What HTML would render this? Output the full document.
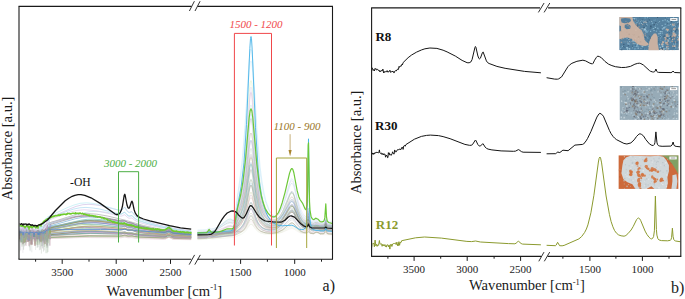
<!DOCTYPE html>
<html><head><meta charset="utf-8"><style>
html,body{margin:0;padding:0;background:#fff;width:685px;height:299px;overflow:hidden}
svg{display:block}
text{font-family:"Liberation Serif",serif}
</style></head><body>
<svg width="685" height="299" viewBox="0 0 685 299">
<defs>
<clipPath id="ca"><rect x="19.5" y="6.5" width="312.5" height="252.3"/></clipPath>
<clipPath id="cb"><rect x="372" y="8.3" width="308.3" height="247.7"/></clipPath>
</defs>
<!-- ===== chart a ===== -->
<g clip-path="url(#ca)">
<polyline points="19.0,239.1 19.8,239.3 20.0,239.0 20.8,239.2 21.2,238.9 21.5,239.3 22.5,239.0 23.2,239.4 23.8,239.1 24.0,239.4 25.2,239.0 26.2,239.4 26.5,239.0 27.5,239.4 27.8,238.9 28.2,239.1 28.5,239.5 29.0,245.8 29.8,239.0 30.5,239.7 31.0,245.2 31.5,239.6 32.0,239.1 33.8,239.4 34.0,239.0 34.2,239.2 35.0,244.3 35.5,239.5 35.8,239.3 36.0,239.5 36.2,239.1 36.5,239.5 37.0,241.5 37.5,239.3 39.5,239.5 40.0,241.4 40.8,239.0 41.2,239.4 42.5,239.2 43.0,240.0 43.5,239.6 44.0,244.7 44.8,238.7 45.8,238.5 46.5,238.7 46.8,238.4 47.5,238.6 48.0,242.7 48.5,238.6 49.5,238.6 49.8,238.0 50.2,238.8 50.8,238.4 85.8,237.0 118.5,237.2 121.5,236.9 124.8,235.7 128.0,236.9 132.0,236.5 135.8,237.6 141.0,238.1 164.0,238.9 165.8,238.7 169.0,237.3 172.2,238.8 173.8,239.2 191.2,239.5" fill="none" stroke="#e6dccc" stroke-width="0.8" stroke-opacity="0.85" stroke-linejoin="round"/>
<polyline points="19.0,241.8 19.5,238.9 20.0,238.6 22.5,238.7 23.0,241.9 23.5,238.6 24.5,238.6 25.0,240.9 25.5,239.0 26.0,242.1 26.5,238.9 27.0,239.7 27.8,238.3 28.2,238.6 29.0,238.4 30.8,238.8 31.8,238.3 32.0,238.7 33.0,238.4 33.5,238.7 34.0,241.8 34.8,238.5 36.0,238.8 36.2,238.3 37.5,238.9 39.0,238.5 39.5,238.9 40.0,241.4 40.5,238.6 42.2,238.4 42.5,238.5 43.0,242.2 43.5,238.8 44.0,238.5 44.2,238.7 44.5,238.4 45.5,238.7 46.0,241.5 46.5,238.6 47.0,238.0 50.5,238.2 51.0,238.0 86.8,236.8 119.5,237.0 124.8,236.7 138.8,237.5 163.5,238.1 165.8,237.9 169.0,236.9 173.8,238.3 191.2,238.5" fill="none" stroke="#d8e6cc" stroke-width="0.8" stroke-opacity="0.85" stroke-linejoin="round"/>
<polyline points="19.0,239.3 19.8,239.4 20.2,239.2 20.5,239.5 20.8,239.0 21.2,239.1 21.5,239.7 22.2,239.1 23.5,239.4 25.0,239.5 25.2,239.2 26.0,246.0 26.8,239.5 27.5,239.4 28.0,241.7 28.5,239.4 29.0,245.6 29.5,240.3 30.0,245.0 30.5,239.8 31.0,240.5 31.5,239.5 32.2,239.2 32.8,239.5 33.2,239.0 34.0,240.8 34.5,239.2 35.2,239.5 36.2,239.3 37.2,239.8 37.5,239.3 39.2,239.5 39.5,239.1 40.5,239.4 41.2,239.1 41.8,239.4 42.0,239.2 42.2,239.5 43.0,239.1 44.0,240.3 44.8,239.0 45.0,239.5 45.5,239.1 45.8,239.3 46.0,238.8 46.5,239.6 47.0,245.0 47.5,239.3 48.0,238.6 48.5,238.9 49.0,238.4 49.5,239.3 50.0,245.8 50.5,239.1 51.0,238.5 84.2,237.5 119.0,237.9 121.8,237.7 124.8,237.0 128.0,237.8 132.0,237.6 135.2,238.3 138.5,238.6 163.5,239.3 165.8,238.9 168.0,237.5 169.0,237.2 172.2,239.0 173.8,239.4 191.2,239.7" fill="none" stroke="#e8d0dc" stroke-width="0.8" stroke-opacity="0.85" stroke-linejoin="round"/>
<polyline points="19.0,238.2 19.5,238.2 19.8,237.8 20.5,238.2 21.0,241.2 21.5,238.4 22.0,237.7 22.2,238.2 22.5,238.0 23.0,242.3 23.5,238.4 24.2,237.8 24.5,238.2 25.2,238.4 25.5,237.9 27.2,238.2 28.2,237.8 29.8,238.0 30.0,238.3 30.2,237.9 30.5,238.1 31.5,237.9 31.8,238.1 32.0,237.8 32.2,238.0 32.8,237.8 33.5,238.3 33.8,237.8 34.5,238.5 35.0,244.2 35.5,238.6 36.0,238.1 36.5,238.7 37.0,244.6 37.5,238.4 38.0,237.9 38.5,238.7 39.0,244.8 39.8,238.0 40.0,238.4 40.2,238.2 40.5,238.3 41.0,241.8 41.8,237.8 42.2,238.2 42.8,237.9 43.8,238.2 45.2,237.4 45.5,237.7 46.0,237.4 46.2,237.7 46.5,237.6 47.0,242.2 47.5,238.2 48.0,243.3 48.5,237.6 50.0,237.3 50.2,237.6 50.5,237.2 89.8,236.0 120.0,236.3 124.5,236.1 139.0,237.0 163.2,237.7 165.5,237.6 169.0,236.5 173.8,237.9 191.2,238.2" fill="none" stroke="#cfe8c0" stroke-width="0.8" stroke-opacity="0.85" stroke-linejoin="round"/>
<polyline points="19.0,237.4 19.2,237.7 20.0,237.5 20.5,237.9 21.8,237.7 22.5,238.3 23.0,243.9 23.5,238.3 24.0,242.8 24.5,238.3 25.0,242.1 25.5,238.0 25.8,237.6 26.2,237.9 26.5,237.6 27.2,237.8 28.0,242.0 28.5,238.3 29.0,237.5 29.2,237.9 29.8,237.6 30.0,238.0 30.2,237.9 30.5,238.6 31.0,244.4 31.5,238.8 32.0,244.7 32.5,238.4 33.0,237.8 33.8,237.6 34.2,237.8 34.5,238.3 35.0,245.8 35.5,238.3 35.8,237.9 36.5,237.6 36.8,238.0 37.2,237.6 37.5,238.0 38.2,237.5 39.0,237.9 42.2,237.7 42.5,238.1 43.8,238.1 44.0,237.6 44.5,238.0 45.0,244.1 45.5,237.9 46.2,236.9 47.8,237.4 48.2,236.9 49.0,237.4 49.2,237.1 50.5,237.0 50.8,237.3 51.0,237.1 89.2,235.6 119.5,236.0 124.8,235.6 128.0,236.2 132.0,236.1 138.5,237.0 162.8,238.1 165.5,238.0 169.0,236.8 173.8,238.4 191.2,238.9" fill="none" stroke="#b08888" stroke-width="0.8" stroke-opacity="0.85" stroke-linejoin="round"/>
<polyline points="19.0,238.4 20.5,238.6 21.0,242.5 21.5,239.1 22.0,242.1 22.5,238.7 23.0,238.4 23.5,239.1 24.0,242.3 24.8,238.1 25.8,238.5 26.2,238.1 27.5,238.3 28.0,238.8 28.5,238.4 29.0,241.1 29.5,238.7 30.0,238.5 31.5,238.3 31.8,238.6 32.2,238.4 33.2,238.7 34.0,238.3 34.2,238.7 35.2,238.3 35.5,238.6 36.2,238.2 36.5,238.7 37.0,238.1 38.2,238.7 39.2,238.2 40.5,238.5 41.2,238.4 42.0,239.1 42.8,238.3 43.0,238.6 46.0,237.8 46.5,238.2 47.0,241.7 47.8,237.6 48.2,237.9 49.0,237.9 49.2,237.6 50.0,239.1 50.2,238.1 50.8,237.6 89.5,236.1 118.8,236.1 121.8,235.8 124.8,234.8 128.0,235.9 132.0,235.5 135.0,236.4 138.2,236.8 163.0,237.7 165.5,237.3 168.0,235.3 169.0,234.9 170.0,235.4 172.2,237.3 173.8,237.8 191.2,238.1" fill="none" stroke="#8aa878" stroke-width="0.8" stroke-opacity="0.85" stroke-linejoin="round"/>
<polyline points="19.0,236.4 19.2,237.1 20.2,236.8 20.5,237.3 21.0,241.0 21.5,237.1 22.5,236.8 23.8,236.9 24.0,236.6 25.0,238.7 25.5,237.0 26.0,237.7 26.5,236.9 26.8,237.1 27.5,236.8 27.8,237.2 28.2,236.7 28.5,237.0 29.0,236.9 29.2,237.1 29.8,236.8 30.2,237.1 31.0,236.9 31.5,237.2 32.0,236.8 32.5,237.1 33.5,236.8 34.5,237.1 36.8,236.8 37.2,237.3 37.8,237.0 38.0,237.2 38.5,236.9 39.5,237.0 40.0,239.9 40.5,237.5 41.0,241.1 41.5,237.1 42.5,237.3 43.0,241.0 43.8,236.9 44.0,237.2 44.8,237.0 45.0,237.2 45.2,236.6 45.8,236.9 46.0,236.3 48.8,236.1 49.2,235.8 50.0,238.7 50.8,235.6 51.0,235.9 54.2,235.7 90.0,233.6 119.2,234.0 121.8,233.8 124.8,232.7 128.0,234.0 132.0,233.6 135.8,234.9 142.0,235.6 164.0,236.8 165.8,236.4 168.0,234.9 169.0,234.5 170.0,234.9 172.2,236.7 173.8,237.2 191.2,237.7" fill="none" stroke="#b0b090" stroke-width="0.8" stroke-opacity="0.85" stroke-linejoin="round"/>
<polyline points="19.0,241.8 19.8,236.7 20.5,237.3 21.0,241.8 21.5,237.4 22.0,239.4 22.5,236.9 23.0,236.9 24.2,237.0 24.8,236.7 25.0,237.0 25.5,236.7 26.5,237.1 27.5,236.6 27.8,236.8 28.0,236.4 28.5,236.9 29.0,239.9 29.5,237.3 30.0,241.0 30.5,236.9 32.2,237.0 33.2,236.8 33.5,237.0 33.8,236.7 34.8,237.0 35.5,236.6 36.0,236.9 36.2,236.6 36.5,236.9 37.5,236.7 38.5,237.2 39.2,236.7 39.8,237.1 40.0,236.8 40.2,237.2 40.5,236.8 41.2,236.9 41.5,236.5 41.8,237.1 42.0,236.6 42.2,237.1 42.5,236.9 43.0,239.0 43.5,237.0 43.8,236.7 44.5,237.0 44.8,236.3 45.5,236.9 46.0,240.0 46.5,236.4 47.0,235.8 91.0,232.9 102.5,233.0 120.2,233.5 124.8,233.3 128.0,233.9 132.0,233.9 139.2,234.9 163.5,236.4 165.8,236.1 168.0,234.7 169.0,234.5 172.2,236.4 173.8,236.8 191.2,237.4" fill="none" stroke="#a4a4a4" stroke-width="0.8" stroke-opacity="0.85" stroke-linejoin="round"/>
<polyline points="19.0,236.3 20.0,236.3 20.5,235.9 21.0,236.5 21.2,236.2 22.2,236.2 23.0,236.7 24.2,236.0 24.5,236.4 24.8,236.0 25.5,236.5 26.0,236.1 27.2,236.8 27.8,236.1 28.5,236.3 29.0,238.5 29.5,236.7 30.0,237.9 30.5,236.3 31.8,236.2 32.0,236.5 32.2,236.1 33.0,236.5 35.0,236.3 35.5,236.5 36.0,238.5 36.5,236.3 36.8,236.7 37.5,236.4 38.2,236.6 39.0,236.3 39.2,236.7 40.2,236.1 41.0,238.5 41.5,236.5 42.0,236.1 42.2,236.5 43.5,236.2 44.0,237.0 44.5,235.8 46.2,235.5 46.5,235.1 47.5,235.4 47.8,235.1 49.5,235.1 50.0,236.5 50.5,235.2 50.8,235.5 51.0,235.1 75.2,233.7 90.5,233.3 119.0,234.1 121.8,233.9 124.8,232.8 128.0,234.1 132.0,233.7 135.8,235.0 141.8,235.6 164.0,236.7 165.8,236.6 169.0,235.7 173.8,237.1 191.2,237.5" fill="none" stroke="#68a8a8" stroke-width="0.8" stroke-opacity="0.85" stroke-linejoin="round"/>
<polyline points="19.0,236.9 19.5,237.0 20.0,237.7 20.8,236.8 21.5,237.3 22.2,236.9 23.0,237.2 23.2,237.0 23.5,237.4 23.8,237.0 24.0,237.3 24.2,236.9 25.0,237.4 25.5,236.9 25.8,237.2 26.8,237.0 28.8,237.4 29.5,237.0 30.5,237.0 31.0,237.9 31.5,237.2 32.0,238.0 32.5,237.2 33.0,238.2 33.5,237.3 34.2,237.0 35.0,239.2 35.8,237.0 36.0,237.3 36.8,236.9 37.5,237.4 38.0,237.2 38.5,237.5 39.0,238.6 39.5,237.2 40.2,237.0 41.0,237.4 42.0,236.8 42.5,237.0 42.8,236.7 43.0,237.0 43.5,236.5 44.0,237.4 44.5,235.8 46.5,235.1 47.0,236.1 47.5,235.1 48.0,235.9 48.5,235.2 49.0,236.9 49.5,235.0 50.8,234.6 74.0,232.6 86.0,232.2 100.2,232.6 120.2,233.9 124.8,233.8 128.0,234.4 132.0,234.5 139.8,235.5 163.0,237.0 165.5,236.7 168.0,234.9 169.0,234.5 170.0,235.0 172.2,236.8 173.8,237.4 191.2,237.9" fill="none" stroke="#d098c0" stroke-width="0.8" stroke-opacity="0.85" stroke-linejoin="round"/>
<polyline points="19.0,235.5 19.2,235.9 19.8,235.6 21.5,235.7 21.8,235.3 22.0,235.6 22.5,235.6 23.0,238.5 23.5,236.0 24.0,238.3 24.2,236.6 24.8,235.6 25.5,235.8 26.0,237.4 26.8,235.7 28.2,235.6 29.2,236.2 29.5,235.8 30.0,235.7 30.5,235.9 31.0,238.2 31.8,235.6 32.0,236.0 33.2,235.8 33.5,236.1 33.8,235.7 35.2,235.7 35.5,235.9 36.2,235.8 36.8,236.2 37.2,235.8 38.2,236.0 38.5,235.7 38.8,236.0 39.2,235.7 40.0,241.0 40.5,236.5 41.0,240.4 41.8,236.0 42.0,235.7 42.5,236.1 43.5,236.1 43.8,235.8 44.2,236.0 45.0,240.4 45.5,236.1 46.2,235.2 47.5,234.6 49.0,235.0 50.5,234.3 50.8,234.8 51.0,234.6 80.8,232.3 91.8,231.8 102.2,231.9 115.2,232.5 163.5,236.4 165.8,236.1 168.0,234.6 169.0,234.3 170.0,234.7 172.2,236.5 173.8,237.0 191.2,237.9" fill="none" stroke="#a0a0c8" stroke-width="0.8" stroke-opacity="0.85" stroke-linejoin="round"/>
<polyline points="19.0,236.6 19.5,237.1 20.0,239.2 20.5,236.7 21.0,236.8 21.2,236.5 21.5,237.1 22.0,236.6 23.5,236.5 24.0,237.2 24.5,236.6 24.8,236.9 25.5,236.6 26.8,236.9 27.5,236.5 28.2,236.9 28.8,236.4 29.0,236.8 29.5,236.6 29.8,237.1 31.2,236.6 32.2,236.9 32.5,236.6 33.0,237.0 33.5,236.6 34.0,236.8 34.8,236.5 35.0,236.8 35.2,236.5 35.8,236.9 36.2,236.5 37.0,239.1 37.5,236.7 39.8,236.9 40.5,236.5 41.5,236.6 42.0,237.2 42.5,236.7 43.5,236.6 43.8,236.8 44.0,236.4 44.5,236.6 45.0,238.9 45.8,236.0 46.2,235.8 46.8,236.0 47.0,236.5 47.5,235.2 48.0,234.9 48.5,235.0 49.0,236.6 49.5,234.8 50.0,234.5 50.2,234.7 50.5,234.4 50.8,234.7 78.2,231.8 90.2,231.3 101.8,231.6 124.5,232.8 141.0,234.6 163.0,236.1 165.5,236.1 169.0,235.0 173.8,236.6 191.2,237.2" fill="none" stroke="#809050" stroke-width="0.8" stroke-opacity="0.85" stroke-linejoin="round"/>
<polyline points="19.0,234.7 19.5,234.7 20.0,236.0 20.5,234.6 20.8,234.9 21.5,234.6 21.8,234.9 23.2,234.7 24.0,237.5 24.5,234.9 24.8,234.5 25.2,234.8 26.0,242.1 26.5,235.3 27.0,234.7 27.2,234.9 27.5,234.6 28.0,235.0 28.2,234.5 29.0,240.2 29.5,235.2 29.8,234.9 30.2,234.9 30.5,235.3 31.0,237.0 31.5,235.0 32.0,234.7 32.2,235.1 32.5,234.7 32.8,235.2 33.8,234.6 34.2,235.1 35.2,235.1 36.0,241.4 36.8,234.8 37.2,235.3 38.2,234.8 38.5,235.1 39.5,234.9 39.8,235.3 41.5,235.0 42.0,235.7 42.5,235.0 43.0,235.1 43.2,234.9 44.0,242.6 44.5,235.5 45.0,239.7 45.5,233.9 46.2,233.4 49.0,233.0 49.5,233.5 50.0,239.2 50.5,233.3 50.8,233.0 79.5,230.9 95.2,231.1 119.8,232.6 124.8,232.0 128.0,233.0 132.0,233.0 135.2,233.9 138.8,234.4 163.2,236.3 165.5,236.1 169.0,234.6 172.2,236.4 173.8,236.8 191.2,237.5" fill="none" stroke="#c098b8" stroke-width="0.8" stroke-opacity="0.85" stroke-linejoin="round"/>
<polyline points="19.0,237.7 19.8,236.1 20.2,236.4 21.0,240.3 21.5,236.5 22.0,236.2 22.2,236.5 23.2,236.1 24.0,238.8 24.5,236.7 25.0,240.1 25.5,236.7 25.8,236.3 26.8,236.1 27.5,236.4 28.0,240.2 28.5,236.6 29.0,239.6 29.5,236.5 30.0,237.9 30.5,236.2 31.8,236.4 32.2,236.2 33.0,236.9 33.2,236.4 34.0,236.4 34.5,236.0 35.0,237.2 35.5,236.2 38.5,236.3 38.8,236.5 39.2,236.3 40.0,237.7 40.5,236.4 41.2,236.4 41.5,236.6 42.0,239.9 42.5,236.5 44.5,235.0 45.0,236.3 45.8,234.3 46.8,234.4 47.0,234.1 47.2,234.3 47.5,234.1 48.0,236.1 48.8,233.9 49.0,234.2 49.5,233.6 50.0,233.8 72.8,231.5 83.8,231.1 98.0,231.4 119.2,232.6 121.8,232.5 124.8,231.9 128.2,233.0 132.0,232.8 136.5,234.0 145.8,234.8 164.0,235.8 165.8,235.6 169.0,234.3 172.2,235.8 173.8,236.2 191.2,236.7" fill="none" stroke="#7ca0d0" stroke-width="0.8" stroke-opacity="0.85" stroke-linejoin="round"/>
<polyline points="19.0,235.7 19.5,235.4 19.8,235.9 20.2,235.4 20.5,235.8 20.8,235.2 21.5,235.5 21.8,235.3 22.2,235.8 23.0,235.4 23.5,236.0 24.0,242.3 24.5,236.3 25.0,242.0 25.5,236.6 26.0,239.5 26.5,235.7 26.8,235.6 27.0,235.8 27.5,235.6 28.0,235.8 28.2,235.5 28.8,235.8 29.0,235.6 29.2,235.9 30.5,235.8 31.0,237.7 31.8,235.7 33.0,235.9 34.5,235.5 35.5,236.0 36.2,235.5 38.0,235.8 38.2,235.5 38.8,235.9 39.5,235.7 40.0,237.7 40.5,236.0 41.2,235.9 41.5,235.5 42.5,236.1 43.0,238.1 43.5,235.8 44.8,235.3 45.5,235.4 47.2,233.8 47.5,234.0 48.0,238.7 48.5,233.8 49.0,234.7 49.5,233.3 50.2,232.9 50.5,233.3 50.8,233.0 68.0,231.2 80.5,230.3 89.5,230.3 101.0,230.7 124.8,232.3 138.5,233.8 154.8,235.0 164.5,235.5 169.0,234.6 173.8,235.9 191.2,236.5" fill="none" stroke="#b8b878" stroke-width="0.8" stroke-opacity="0.85" stroke-linejoin="round"/>
<polyline points="19.0,234.3 19.8,234.6 21.0,234.3 21.5,234.7 22.0,241.8 22.5,235.3 22.8,234.5 23.2,234.3 23.5,234.8 23.8,234.3 24.2,234.7 24.8,234.2 25.0,234.5 26.0,234.3 26.2,234.7 26.8,234.3 27.5,234.7 27.8,234.4 28.0,234.8 28.5,234.7 29.0,237.4 29.8,234.5 30.2,234.8 30.8,234.3 31.0,234.8 31.5,234.5 32.0,234.8 32.2,234.2 32.5,234.8 33.2,234.6 33.5,235.1 34.2,234.2 34.8,234.7 35.2,234.3 36.0,234.8 36.8,234.4 37.0,234.9 37.2,234.6 38.2,234.9 38.5,234.6 38.8,234.9 39.2,234.6 39.8,234.9 40.5,234.5 40.8,234.9 41.5,234.8 41.8,234.1 42.2,234.6 43.5,233.9 44.0,235.2 44.5,233.1 45.2,232.7 45.5,232.9 46.0,239.9 46.5,232.9 46.8,232.3 47.2,232.3 47.8,231.8 48.0,232.5 48.5,232.1 48.8,232.3 49.0,231.9 49.2,232.3 49.5,232.2 50.0,233.3 50.5,232.1 51.0,231.9 73.8,229.1 84.0,228.4 98.0,228.7 119.2,230.2 121.8,230.0 124.8,229.1 128.2,230.7 132.0,230.5 136.5,232.2 145.5,233.4 164.0,235.0 165.8,234.7 168.0,233.0 169.0,232.7 170.0,233.1 172.2,235.1 173.8,235.6 191.2,236.5" fill="none" stroke="#90c0a4" stroke-width="0.8" stroke-opacity="0.85" stroke-linejoin="round"/>
<polyline points="19.0,235.0 20.0,235.3 20.5,234.8 21.8,235.2 23.2,234.9 24.0,237.9 24.8,234.9 25.0,235.3 25.2,234.8 27.0,235.3 27.2,234.8 27.8,235.3 28.0,234.9 28.5,235.4 29.0,237.3 29.5,235.3 30.0,234.9 30.5,235.0 30.8,235.4 31.0,234.8 31.2,234.8 32.0,236.9 32.5,235.2 32.8,235.3 33.0,234.8 33.5,235.4 34.0,237.1 34.5,235.1 34.8,235.3 35.8,235.0 36.8,235.4 38.8,235.0 39.8,235.3 40.0,235.0 40.5,235.2 41.2,234.9 43.0,234.9 45.0,232.5 45.2,232.7 45.5,232.2 46.0,233.2 47.0,231.5 47.2,231.7 48.2,231.7 49.0,231.2 49.2,231.6 50.8,231.0 51.0,231.2 72.5,228.0 84.5,227.3 98.2,227.9 119.2,229.8 121.8,229.6 124.8,228.7 128.2,230.3 132.0,230.1 136.5,231.9 145.8,233.2 164.0,234.7 165.8,234.3 168.0,232.7 169.0,232.3 170.0,232.8 172.2,234.7 173.8,235.2 191.2,236.0" fill="none" stroke="#7c80b0" stroke-width="0.8" stroke-opacity="0.85" stroke-linejoin="round"/>
<polyline points="19.0,239.2 19.5,235.5 20.0,237.2 20.5,235.2 21.2,235.0 22.2,235.4 22.5,234.6 23.2,235.2 23.8,235.2 24.0,234.9 25.5,235.3 25.8,234.8 26.0,235.3 26.5,235.0 27.2,235.3 27.5,235.1 28.0,236.5 28.5,235.5 29.0,237.2 29.5,235.6 30.0,237.2 30.5,235.4 31.0,236.6 31.5,235.6 32.0,238.6 32.5,235.3 32.8,235.2 33.5,235.4 35.0,235.1 36.0,235.9 36.5,235.2 37.0,235.1 37.8,235.5 38.0,235.1 39.0,235.2 39.2,235.6 39.5,235.1 40.5,235.2 41.0,239.3 41.5,236.1 42.0,239.0 42.5,235.9 43.0,236.9 43.5,235.2 44.2,234.8 45.0,235.2 45.5,234.2 46.0,234.8 46.8,233.0 48.0,231.9 48.2,232.2 48.5,231.8 48.8,232.1 49.8,231.6 50.2,231.9 50.5,231.5 50.8,231.7 74.8,227.8 86.5,226.9 99.8,227.4 119.5,229.2 121.8,229.1 124.8,228.2 128.2,229.9 132.0,229.8 136.8,231.7 147.2,233.4 164.0,235.1 165.8,235.0 169.0,234.0 172.2,235.5 174.0,235.9 191.2,236.8" fill="none" stroke="#d09c9c" stroke-width="0.8" stroke-opacity="0.85" stroke-linejoin="round"/>
<polyline points="19.0,234.3 19.2,234.5 19.8,234.3 20.8,234.6 21.0,234.4 21.2,234.8 22.0,234.1 23.0,235.4 23.5,234.3 23.8,234.9 24.2,234.4 24.5,234.8 24.8,234.2 25.0,234.6 26.0,234.4 27.0,235.7 27.5,234.3 27.8,234.8 28.2,234.3 29.2,234.6 29.5,234.2 30.0,234.8 30.2,234.4 30.5,234.8 31.2,234.8 31.5,234.5 32.0,236.5 32.5,234.7 33.0,236.0 33.5,234.7 34.2,234.9 34.5,234.6 35.0,235.6 35.8,234.4 36.0,234.7 36.2,234.4 37.0,238.0 37.8,234.8 39.5,234.4 40.2,234.7 42.2,234.6 42.8,234.2 43.2,234.4 44.5,233.3 45.0,234.0 45.8,232.0 46.0,232.5 46.2,231.8 47.2,232.0 47.5,231.5 48.0,233.2 48.5,231.9 49.0,233.3 49.5,231.8 50.0,234.7 50.5,231.6 51.0,231.2 78.0,226.9 84.8,226.2 91.0,226.1 101.0,226.5 112.0,227.4 124.8,229.0 147.5,232.3 163.0,234.1 165.5,234.0 168.0,232.6 169.0,232.3 172.2,234.4 173.8,234.9 191.2,235.9" fill="none" stroke="#88b888" stroke-width="0.8" stroke-opacity="0.85" stroke-linejoin="round"/>
<polyline points="19.0,234.3 20.0,233.9 20.5,234.4 21.0,236.1 21.8,234.1 22.0,234.5 22.5,234.2 22.8,234.6 23.8,234.0 24.0,234.3 24.2,234.1 24.5,234.5 25.0,234.1 25.2,234.4 25.5,234.1 25.8,234.4 26.5,234.2 27.8,234.6 28.2,234.3 29.0,238.6 29.5,234.6 29.8,234.7 30.0,234.2 30.8,234.5 31.5,234.2 31.8,234.5 32.2,234.3 32.8,234.5 33.0,234.2 33.8,234.3 34.0,234.0 34.5,234.6 34.8,234.4 35.0,234.6 35.2,234.0 36.0,234.7 36.2,234.4 36.8,234.5 37.5,234.2 38.2,234.7 39.2,234.3 39.8,234.5 40.5,234.8 41.0,242.2 41.8,234.4 42.0,234.8 42.2,234.6 42.5,234.8 43.0,238.1 43.5,234.6 44.0,239.3 44.5,233.8 45.0,235.3 45.5,232.5 47.0,231.6 47.5,231.6 48.0,232.4 48.5,231.6 49.0,237.3 49.5,232.1 49.8,231.4 50.0,231.2 50.5,231.5 50.8,230.9 51.0,231.2 54.8,230.7 79.8,226.8 91.5,226.1 103.8,226.7 120.2,228.3 124.8,228.2 128.0,229.2 132.0,229.5 137.8,231.0 153.8,233.2 164.5,234.3 169.0,233.2 172.2,234.8 174.0,235.2 191.2,236.2" fill="none" stroke="#c0a070" stroke-width="0.8" stroke-opacity="0.85" stroke-linejoin="round"/>
<polyline points="19.0,233.3 19.5,233.5 20.0,236.2 20.5,233.7 21.0,234.1 21.2,233.7 22.0,233.4 23.8,233.9 25.0,233.4 25.2,233.9 26.2,233.4 27.0,234.4 27.8,233.6 29.5,233.8 29.8,233.5 30.0,234.0 30.2,233.7 31.0,236.4 31.5,234.1 32.2,233.5 32.8,233.8 33.2,233.5 33.5,233.8 33.8,233.6 34.0,234.0 34.2,233.7 34.5,234.1 35.2,233.7 35.8,233.8 36.0,233.5 36.2,233.9 37.0,233.4 37.2,233.9 38.5,233.9 39.0,235.1 39.8,233.8 40.5,233.8 40.8,234.6 41.2,234.5 41.8,233.5 42.8,234.3 43.0,234.9 43.5,233.7 44.2,233.8 44.8,233.5 47.5,230.4 47.8,230.7 48.5,230.4 49.0,233.1 49.5,230.3 50.0,232.6 50.8,229.5 51.0,229.7 53.2,229.4 76.8,225.2 83.0,224.6 89.0,224.4 101.2,225.1 119.5,227.0 121.8,226.9 124.8,226.0 128.2,227.8 132.0,227.7 134.8,229.1 137.0,229.8 148.0,231.6 164.2,233.5 165.8,233.3 168.0,232.0 169.0,231.8 172.2,233.8 173.8,234.3 191.2,235.4" fill="none" stroke="#9cc870" stroke-width="0.8" stroke-opacity="0.85" stroke-linejoin="round"/>
<polyline points="19.0,232.4 19.5,232.4 20.0,233.2 20.8,232.1 21.0,232.5 21.2,232.3 22.2,232.6 22.8,232.3 24.8,232.6 25.0,232.2 25.2,232.5 26.0,232.4 26.2,232.6 26.8,232.2 27.2,232.7 27.5,232.4 28.0,233.1 28.8,232.4 29.5,232.6 29.8,232.3 30.8,232.9 31.0,233.6 31.5,232.6 32.2,232.9 33.0,232.5 34.5,232.8 35.0,232.3 35.2,232.8 36.0,232.6 36.2,233.1 36.8,232.5 37.5,232.7 38.0,233.9 38.5,232.8 39.0,232.5 39.5,232.7 40.0,234.9 40.5,232.8 41.0,234.7 41.5,232.9 42.0,232.5 42.8,232.5 43.0,232.9 45.0,232.3 47.2,229.1 47.5,229.1 48.0,230.5 48.5,228.4 49.8,227.7 50.2,228.1 50.8,227.6 51.0,227.8 72.0,224.2 78.0,223.7 83.8,223.6 98.2,224.4 119.5,227.0 121.8,227.0 124.8,226.3 128.2,227.9 132.0,227.9 137.0,229.8 147.8,231.5 164.0,233.3 165.8,233.2 169.0,232.3 172.2,233.7 174.0,234.0 191.2,235.0" fill="none" stroke="#80bcd4" stroke-width="0.8" stroke-opacity="0.85" stroke-linejoin="round"/>
<polyline points="19.0,236.7 19.8,232.2 20.2,232.0 21.5,232.3 21.8,231.9 22.0,232.3 22.5,232.0 23.2,232.4 23.8,232.0 25.2,232.1 25.5,231.9 26.8,232.5 27.0,232.2 27.5,232.7 28.0,235.9 28.5,233.0 29.0,240.6 29.5,233.0 29.8,232.5 30.0,232.3 30.2,232.6 30.8,232.3 31.0,232.5 31.2,232.0 32.0,239.0 32.8,232.4 33.2,232.6 34.2,232.3 35.0,232.6 35.2,232.3 36.0,232.8 36.2,232.4 36.5,232.8 37.2,232.4 38.0,237.1 38.5,233.3 39.0,239.3 39.5,233.4 40.0,236.3 40.5,233.0 41.2,232.3 42.5,232.8 43.0,239.4 43.5,232.5 45.5,229.0 46.2,228.3 46.5,228.7 47.0,235.1 47.5,228.2 48.0,227.4 49.2,227.2 49.5,227.6 49.8,227.0 50.2,227.4 50.5,227.0 50.8,227.2 71.2,222.8 77.2,222.0 83.0,221.7 97.8,222.6 120.2,226.0 124.5,226.2 128.0,227.3 132.0,227.8 139.0,229.6 157.8,232.5 164.8,233.2 166.0,232.9 168.0,231.6 169.0,231.3 170.0,231.8 172.2,233.6 173.8,234.1 191.2,235.3" fill="none" stroke="#a488c4" stroke-width="0.8" stroke-opacity="0.85" stroke-linejoin="round"/>
<polyline points="19.0,231.9 21.2,231.5 21.8,231.9 22.5,231.6 23.2,232.0 24.0,231.7 24.2,231.9 24.5,231.6 25.2,231.9 26.5,231.6 27.5,232.0 27.8,231.7 29.2,231.9 29.5,232.1 30.0,235.6 30.5,232.3 31.0,233.8 31.5,232.0 32.5,231.6 32.8,232.1 33.0,231.8 33.2,232.1 33.5,232.0 34.0,232.7 34.5,232.1 35.0,234.0 35.5,232.0 35.8,232.2 36.8,231.7 37.0,232.3 37.5,232.4 38.0,234.6 38.5,232.5 39.0,235.1 39.5,232.2 40.0,233.2 40.5,232.3 41.0,234.9 41.5,232.3 42.0,231.9 42.5,232.2 43.2,231.9 43.5,232.2 44.0,231.8 45.0,232.6 45.5,231.0 46.2,230.1 47.0,231.5 47.5,229.4 47.8,229.0 48.5,228.7 48.8,229.0 49.2,228.7 50.2,228.9 81.0,223.5 87.2,222.9 93.2,222.8 105.0,223.4 120.8,225.2 124.8,225.2 128.0,226.2 132.0,226.6 135.5,227.7 140.5,228.7 163.2,232.1 165.5,232.0 168.0,230.4 169.0,230.1 170.0,230.6 172.2,232.6 173.8,233.1 191.2,234.5" fill="none" stroke="#6a86c4" stroke-width="0.8" stroke-opacity="0.85" stroke-linejoin="round"/>
<polyline points="19.0,233.2 19.5,233.2 20.0,234.3 20.5,232.9 21.2,233.2 21.5,232.9 21.8,233.2 22.2,233.1 22.5,233.5 23.5,232.8 23.8,233.3 24.2,233.1 25.0,236.5 25.8,232.8 26.8,233.2 27.2,233.0 27.5,233.3 27.8,233.1 28.2,233.3 28.5,233.0 29.0,233.6 29.5,233.0 30.2,233.0 31.0,236.0 31.5,233.1 31.8,233.0 32.5,233.6 33.0,235.9 33.5,233.3 34.2,233.6 34.5,233.3 35.0,234.0 35.5,232.9 36.0,233.3 36.5,233.1 37.0,233.4 41.0,233.1 42.5,233.5 44.5,232.7 46.2,230.4 46.8,231.0 47.0,232.0 47.5,230.1 48.0,229.7 49.5,229.6 50.8,229.0 51.0,229.3 58.2,228.0 82.0,222.7 88.2,221.9 94.2,221.6 104.8,222.2 120.0,223.8 122.0,223.7 124.8,223.0 128.0,224.7 129.5,225.0 132.0,224.9 135.0,226.4 137.5,227.2 151.8,230.1 164.5,231.9 165.8,231.6 168.0,230.2 169.0,229.9 170.0,230.4 172.2,232.4 174.0,233.0 191.2,234.5" fill="none" stroke="#989898" stroke-width="0.8" stroke-opacity="0.85" stroke-linejoin="round"/>
<polyline points="19.0,231.7 19.2,231.6 19.5,232.4 20.0,236.6 20.8,231.7 21.2,231.7 21.5,232.2 22.0,231.5 22.8,232.6 23.0,234.1 23.5,232.5 24.0,237.2 24.8,231.6 25.0,232.0 25.2,231.7 25.5,231.9 27.8,231.7 28.5,232.2 30.5,231.9 31.0,232.3 31.2,231.8 32.0,237.4 32.8,231.6 33.0,232.1 33.5,231.8 34.0,232.0 34.2,231.7 34.5,232.2 36.2,232.0 37.0,238.2 37.8,232.1 38.2,231.9 39.0,232.9 40.0,232.0 40.2,232.3 41.2,232.0 41.5,232.3 41.8,231.9 42.0,232.4 42.2,232.0 43.2,232.3 43.5,232.4 44.0,234.9 44.8,231.4 45.2,231.2 47.0,228.4 47.5,228.5 48.0,230.4 48.8,227.5 49.2,227.6 49.5,227.1 50.2,227.1 50.5,227.5 51.0,227.1 76.2,221.6 82.8,220.8 88.8,220.6 102.0,221.6 120.5,224.3 124.5,224.1 128.0,225.5 132.0,226.0 137.8,227.9 153.5,230.9 164.5,232.3 169.0,231.2 172.2,232.9 174.0,233.4 191.2,234.7" fill="none" stroke="#c08ca8" stroke-width="0.8" stroke-opacity="0.85" stroke-linejoin="round"/>
<polyline points="19.0,230.8 19.2,230.7 19.5,231.1 19.8,230.6 20.0,231.0 20.2,230.7 20.5,230.9 21.2,230.6 22.5,231.1 23.2,230.8 24.0,231.4 24.2,231.2 25.0,236.8 25.8,231.0 26.5,231.3 26.8,230.9 27.5,231.2 28.0,233.6 28.8,230.9 29.2,231.4 29.8,231.1 31.2,231.3 31.5,231.0 33.0,231.2 33.5,231.6 34.0,236.9 34.5,231.8 35.0,233.4 35.5,231.9 36.0,235.3 36.5,231.4 37.5,231.6 38.2,231.2 38.5,231.6 39.8,231.6 40.0,231.3 40.5,231.6 41.0,231.2 41.8,231.5 42.2,231.2 43.0,234.3 43.5,230.8 44.0,230.5 44.2,229.8 45.0,234.0 45.5,228.9 45.8,228.4 46.8,228.2 47.2,227.8 47.5,228.2 48.0,227.8 48.5,228.0 49.0,229.7 49.5,227.6 49.8,227.8 50.2,227.4 50.5,227.8 58.8,226.1 81.8,221.2 88.2,220.4 94.2,220.3 104.5,220.9 115.8,222.4 124.8,223.9 149.2,229.1 162.8,231.4 165.5,231.6 169.0,231.2 174.0,232.8 191.2,234.5" fill="none" stroke="#5a9090" stroke-width="0.8" stroke-opacity="0.85" stroke-linejoin="round"/>
<polyline points="19.0,232.1 20.0,232.1 20.2,232.5 20.5,232.4 21.0,236.1 21.8,232.1 22.0,232.4 22.5,232.1 22.8,232.4 23.2,232.1 24.0,232.6 24.5,232.2 25.8,232.4 26.2,232.1 26.8,232.5 28.2,232.1 28.5,232.5 29.0,232.4 29.2,232.0 29.8,232.5 30.0,232.0 30.2,232.6 31.0,232.1 31.2,232.5 32.2,232.3 33.0,235.0 33.8,232.2 34.0,232.6 34.2,232.2 35.2,232.8 36.2,232.2 37.0,234.5 37.5,232.5 39.0,232.6 39.8,232.3 40.0,232.6 41.2,232.7 41.8,232.2 42.5,232.1 44.5,229.5 45.2,228.8 45.8,229.0 46.0,228.6 46.5,229.1 47.0,233.7 47.5,229.0 47.8,228.4 49.2,228.0 50.0,233.5 50.8,227.9 78.0,221.9 84.8,221.0 91.0,220.8 101.2,221.4 112.2,222.8 124.8,224.9 147.0,229.6 161.5,232.0 165.2,232.2 169.0,230.7 172.2,232.9 174.0,233.4 191.2,234.9" fill="none" stroke="#a0a050" stroke-width="0.8" stroke-opacity="0.85" stroke-linejoin="round"/>
<polyline points="19.0,233.3 19.8,229.9 20.0,230.2 20.2,229.9 20.5,230.3 21.2,229.9 21.5,230.4 22.0,230.0 22.5,230.3 23.0,232.2 23.5,230.5 24.0,230.0 24.2,230.5 24.8,230.1 26.5,230.2 27.2,230.6 27.5,230.2 27.8,230.4 28.2,230.2 28.5,230.5 29.0,230.2 29.5,230.5 29.8,230.2 30.5,230.8 31.0,236.1 31.5,231.2 32.0,234.5 32.8,230.4 33.2,230.3 33.5,230.6 34.2,230.7 34.5,230.4 36.2,230.8 36.5,230.5 36.8,230.9 37.5,231.0 38.0,236.6 38.8,230.9 39.5,230.5 39.8,230.7 40.8,230.5 41.0,230.9 41.2,230.6 42.0,233.5 42.5,231.1 43.0,230.6 43.5,230.9 44.0,236.8 44.5,231.0 45.8,230.0 46.5,229.8 47.2,228.6 47.5,228.8 48.0,235.0 48.8,227.0 49.2,227.2 49.5,226.8 50.0,227.0 50.8,226.4 60.0,224.9 81.0,220.2 87.2,219.3 93.2,219.1 103.8,219.8 115.2,221.4 124.8,223.1 149.8,228.7 163.2,231.1 165.5,231.1 168.0,229.5 169.0,229.3 170.0,229.8 172.2,231.9 174.0,232.6 191.2,234.4" fill="none" stroke="#6cc0b4" stroke-width="0.8" stroke-opacity="0.85" stroke-linejoin="round"/>
<polyline points="19.0,235.4 19.5,231.9 20.0,231.3 20.2,231.8 21.0,231.4 21.8,231.4 22.0,231.8 23.2,231.4 24.0,236.5 24.5,232.0 25.2,231.4 25.8,231.8 26.0,231.5 27.2,231.5 29.2,231.8 30.0,231.4 31.0,231.7 32.0,231.5 32.2,231.9 33.0,231.5 33.5,231.7 34.0,233.0 34.5,232.2 35.0,234.1 35.5,232.4 36.0,233.1 36.5,231.8 37.0,232.3 37.5,231.6 38.2,231.8 38.5,231.4 39.0,231.9 39.2,231.7 39.8,231.5 40.0,231.9 40.5,231.6 41.0,232.1 41.5,231.6 42.2,232.0 42.5,231.6 43.8,231.8 44.2,231.4 45.0,232.8 45.5,230.5 46.2,229.6 47.0,227.6 48.8,226.1 49.8,226.0 75.8,218.6 82.2,217.4 88.2,216.9 100.8,217.7 120.2,221.0 124.5,221.1 128.0,222.6 132.0,223.2 135.5,224.6 140.0,225.8 150.5,228.1 160.8,229.9 165.2,230.3 168.2,228.6 169.0,228.5 170.0,229.0 172.2,231.0 174.0,231.6 191.2,233.1" fill="none" stroke="#70acd8" stroke-width="0.8" stroke-opacity="0.85" stroke-linejoin="round"/>
<polyline points="19.0,230.5 20.5,230.8 20.8,230.5 21.0,230.9 21.5,230.5 22.0,230.7 22.2,230.3 23.5,231.0 24.0,236.9 24.5,231.4 25.0,233.3 25.8,230.7 27.8,230.9 28.2,230.5 28.8,230.8 29.0,230.4 29.5,230.9 30.0,230.6 30.8,231.2 31.0,231.9 31.5,231.1 32.0,235.2 32.5,231.0 33.0,230.7 34.0,232.4 34.5,230.9 39.0,231.0 39.5,230.6 39.8,231.0 40.0,230.8 40.5,231.1 41.0,233.9 41.5,231.6 42.0,235.6 42.5,231.9 43.0,237.6 43.5,231.5 43.8,231.0 44.5,230.7 44.8,231.0 45.0,230.3 45.5,230.2 48.0,224.8 49.0,224.0 49.5,224.0 50.0,228.0 50.5,223.8 51.0,223.2 72.0,217.3 78.5,216.2 84.5,215.9 91.8,216.3 99.2,217.2 120.0,221.3 122.0,221.4 124.8,220.9 128.0,222.9 129.5,223.2 132.0,223.3 135.0,225.0 138.2,226.1 146.8,228.1 157.0,230.1 164.8,231.1 166.0,230.7 168.0,229.1 169.0,228.8 170.0,229.4 172.2,231.6 173.8,232.2 191.2,233.8" fill="none" stroke="#a090d0" stroke-width="0.8" stroke-opacity="0.85" stroke-linejoin="round"/>
<polyline points="19.0,232.0 19.5,229.6 20.0,229.4 22.0,229.5 22.2,229.2 22.5,229.5 23.2,229.3 23.5,229.6 24.2,229.3 25.0,229.7 25.5,229.3 26.0,230.7 26.5,229.7 26.8,229.9 27.5,229.3 28.0,229.7 28.2,229.6 29.0,236.1 29.5,229.9 29.8,229.5 30.2,229.4 31.0,231.1 31.8,229.5 32.0,229.8 32.5,229.6 32.8,229.8 33.2,229.4 34.0,233.2 34.5,230.3 35.2,229.6 36.0,235.8 36.5,230.4 37.0,235.4 37.8,229.8 38.5,229.8 38.8,230.1 39.2,229.7 39.5,230.1 40.5,229.6 40.8,230.0 41.0,229.7 41.2,230.1 41.8,229.7 42.0,230.0 42.8,229.8 43.0,230.1 43.2,229.7 44.2,230.0 45.0,229.7 46.5,227.9 47.0,234.3 47.5,225.7 48.0,224.4 49.0,223.4 49.2,223.6 49.5,222.9 50.0,223.1 50.2,222.7 50.5,223.0 50.8,222.6 72.5,217.0 78.8,216.0 84.5,215.8 91.8,216.2 99.2,217.1 120.0,221.1 122.0,221.2 124.8,220.7 128.0,222.6 132.0,223.0 135.2,224.8 138.5,225.8 147.5,227.9 157.8,229.8 164.8,230.8 169.0,230.3 174.0,232.0 191.2,233.5" fill="none" stroke="#c890b0" stroke-width="0.8" stroke-opacity="0.85" stroke-linejoin="round"/>
<polyline points="19.0,230.4 19.2,230.2 19.5,230.5 20.0,236.0 20.8,230.0 21.2,230.1 21.5,230.6 23.0,230.5 23.2,230.1 24.0,230.9 24.5,230.5 25.5,230.6 26.0,232.0 26.8,230.5 27.0,230.8 27.2,230.3 27.8,230.8 28.2,230.3 28.5,230.8 29.0,230.4 29.5,230.6 30.0,232.6 30.5,230.6 31.8,230.8 32.5,230.5 33.0,230.9 33.5,230.6 33.8,230.8 34.0,230.5 34.2,230.9 35.2,230.7 36.0,233.0 36.8,230.9 37.2,230.6 37.5,230.9 37.8,230.5 38.2,230.8 38.5,230.6 38.8,231.0 39.2,230.7 40.0,234.2 40.5,231.4 41.0,233.8 41.8,230.6 42.2,231.1 42.8,230.8 43.5,231.0 43.8,230.4 44.5,230.3 45.2,229.0 46.0,228.9 47.0,225.7 48.2,224.7 49.2,224.7 49.8,224.2 50.0,224.5 50.5,223.9 50.8,224.3 75.2,217.2 82.0,216.1 88.2,215.8 100.2,216.8 120.2,220.6 124.5,220.7 128.0,222.3 132.0,223.0 135.5,224.5 139.5,225.7 149.5,228.1 159.5,230.1 165.0,230.8 166.2,230.4 168.2,229.1 169.0,229.0 170.0,229.5 172.2,231.5 174.0,232.1 191.2,233.8" fill="none" stroke="#909090" stroke-width="0.8" stroke-opacity="0.85" stroke-linejoin="round"/>
<polyline points="19.0,231.5 19.5,229.8 20.0,230.1 21.2,229.6 22.0,230.1 23.0,229.8 24.0,230.0 25.0,229.6 26.0,231.4 26.8,229.9 27.5,230.1 28.0,231.4 28.5,230.1 29.2,230.0 30.0,232.2 30.8,230.0 31.5,229.9 31.8,230.3 32.2,229.9 32.8,230.3 34.0,230.0 34.5,230.4 34.8,229.9 35.0,230.3 35.2,230.0 35.5,230.2 36.0,232.3 36.5,230.1 37.2,230.7 37.5,230.1 38.0,230.0 38.5,230.0 38.8,230.3 39.8,230.1 40.0,230.4 40.5,229.9 40.8,230.2 41.0,229.9 41.5,230.2 42.2,229.6 42.5,229.7 44.8,225.0 45.2,224.3 45.5,224.6 46.2,223.7 46.5,223.8 46.8,223.3 47.2,223.7 47.5,223.3 48.2,223.0 50.2,222.9 50.8,222.4 74.0,215.1 80.5,213.8 86.5,213.5 96.8,214.2 107.8,216.1 124.8,220.1 143.5,225.6 158.5,228.8 164.8,229.8 169.0,229.0 172.2,230.7 174.0,231.2 191.2,232.8" fill="none" stroke="#a8a8a8" stroke-width="0.8" stroke-opacity="0.85" stroke-linejoin="round"/>
<polyline points="19.0,227.7 19.5,228.0 20.0,231.1 20.5,228.2 21.0,227.9 21.2,228.2 21.5,227.9 21.8,228.4 22.5,228.0 23.0,230.7 23.8,227.7 24.0,228.2 24.2,227.9 24.8,228.0 25.0,228.8 25.5,228.2 27.2,228.2 27.8,227.9 28.2,228.3 30.0,228.0 30.2,228.5 31.0,228.0 31.8,228.3 32.8,228.0 33.5,228.6 33.8,228.1 34.2,228.4 34.8,228.1 35.5,228.6 36.0,231.1 36.5,228.6 38.5,228.2 39.5,228.9 40.0,231.4 40.5,228.9 41.0,230.0 41.5,228.4 42.0,228.6 42.2,228.4 42.5,228.7 42.8,228.4 44.2,228.1 46.2,224.9 47.0,225.2 47.5,223.9 48.2,223.4 49.0,225.8 49.8,222.9 50.0,223.2 50.2,223.0 50.8,223.2 51.0,222.8 59.8,220.6 77.2,214.7 83.5,212.9 90.0,211.6 96.0,211.4 105.0,212.1 119.8,214.4 122.0,214.0 124.0,212.5 124.8,212.3 127.0,214.8 128.2,215.7 129.5,216.0 132.0,215.5 134.8,218.2 137.0,219.6 148.5,223.6 164.2,227.6 165.8,227.4 168.0,226.0 169.0,225.7 170.0,226.4 172.2,228.7 174.0,229.6 191.2,232.0" fill="none" stroke="#bfe3e8" stroke-width="0.8" stroke-opacity="0.85" stroke-linejoin="round"/>
<polyline points="19.0,232.2 19.5,228.6 20.2,228.2 20.5,228.5 23.0,228.2 23.2,228.6 23.5,228.5 24.0,230.6 24.5,228.9 25.0,232.7 25.5,228.8 26.0,228.2 26.5,228.7 27.0,231.7 27.5,228.8 28.0,232.5 28.5,229.0 29.8,228.0 30.5,228.7 31.8,228.8 32.0,228.4 32.5,228.4 32.8,228.8 33.5,228.6 34.0,231.2 34.5,229.0 35.0,231.6 35.8,228.6 36.5,228.8 37.5,228.4 37.8,228.8 38.0,228.5 38.2,228.8 38.8,228.4 39.8,228.5 40.0,228.8 41.2,228.6 41.8,228.8 43.5,228.6 44.0,230.0 45.0,227.1 45.5,226.6 46.0,228.7 46.5,224.0 47.0,225.4 47.5,221.3 48.8,220.1 64.2,214.1 71.0,211.8 77.8,210.3 83.8,209.8 91.0,210.2 98.5,211.2 119.8,216.1 122.0,216.0 124.0,214.9 124.8,214.8 128.2,217.9 129.5,218.2 132.0,217.9 134.8,220.3 137.0,221.5 141.8,223.2 148.8,225.1 164.0,228.3 165.8,228.2 169.0,227.1 172.2,229.1 174.0,229.7 191.2,231.4" fill="none" stroke="#d8c6ea" stroke-width="0.8" stroke-opacity="0.85" stroke-linejoin="round"/>
<polyline points="19.0,226.5 19.2,226.3 20.0,226.7 21.8,226.3 22.0,226.7 22.5,226.2 23.0,226.5 24.2,226.2 25.0,230.3 25.5,227.0 26.0,226.5 26.5,226.9 27.0,230.7 27.5,226.7 28.2,226.3 28.5,226.6 29.2,226.4 30.5,226.8 30.8,226.5 31.2,226.9 31.5,226.6 33.0,226.9 33.2,226.4 34.8,226.8 35.8,226.7 36.2,227.1 36.8,226.8 37.8,227.0 38.0,226.8 38.5,227.1 39.2,226.8 40.0,228.0 40.5,226.9 41.8,227.1 42.8,226.3 45.8,219.6 47.2,218.6 47.8,218.7 48.0,218.2 48.5,218.6 49.0,221.9 49.5,218.0 50.0,219.1 50.5,217.6 51.0,217.4 67.0,211.3 73.2,209.2 79.8,207.8 86.0,207.4 92.8,208.0 99.5,209.0 119.5,213.9 121.8,213.8 124.0,212.3 124.8,212.2 127.0,214.8 128.2,215.8 129.5,216.1 132.0,215.7 134.8,218.5 137.0,219.9 141.2,221.6 148.0,223.7 163.5,227.4 165.8,227.6 169.0,226.8 172.2,228.7 174.0,229.2 191.2,231.3" fill="none" stroke="#a9d8f0" stroke-width="0.8" stroke-opacity="0.85" stroke-linejoin="round"/>
<polyline points="19.0,226.1 19.5,226.4 20.0,229.2 20.5,226.4 20.8,225.9 21.0,226.4 21.5,226.3 22.0,231.2 22.5,227.0 23.0,233.1 23.5,227.1 24.0,232.8 24.5,226.8 25.0,228.5 25.5,226.8 26.0,232.9 26.5,227.0 27.0,230.1 27.5,226.6 28.2,226.1 28.8,226.5 30.2,226.3 30.8,226.7 31.0,226.5 31.5,226.8 32.0,232.2 32.5,227.3 33.0,226.4 33.8,226.7 34.2,226.3 35.2,226.8 36.0,226.5 36.5,227.0 37.2,226.7 37.5,226.9 37.8,226.5 38.5,226.8 40.0,226.6 40.5,226.9 40.8,226.6 41.2,226.9 42.0,226.6 42.5,227.2 43.0,226.8 44.0,226.9 44.2,226.4 44.5,226.7 45.0,226.4 46.0,224.6 47.8,219.6 48.5,218.4 49.2,218.2 49.5,217.5 49.8,217.7 50.2,217.1 50.5,217.4 69.8,208.9 76.0,206.4 82.8,204.7 89.0,204.3 95.0,204.8 101.0,205.7 119.2,210.3 121.8,209.9 124.0,207.5 124.8,207.2 127.0,210.7 128.2,212.0 129.5,212.3 131.5,211.5 132.0,211.6 134.8,215.3 136.8,217.0 140.5,218.9 146.5,221.2 155.0,224.0 163.5,226.2 165.8,226.5 169.0,225.9 172.2,227.8 174.0,228.4 191.2,230.9" fill="none" stroke="#cdbfe6" stroke-width="0.8" stroke-opacity="0.85" stroke-linejoin="round"/>
<polyline points="19.0,226.1 20.8,226.6 21.0,226.3 22.0,226.2 23.0,226.6 23.2,226.2 23.8,226.6 24.0,226.2 24.8,226.7 25.5,226.5 26.0,226.8 26.2,226.5 27.5,226.4 28.2,226.8 29.2,226.6 29.5,226.8 30.2,226.5 31.0,227.6 31.5,226.7 32.0,227.3 32.5,226.7 33.8,226.9 35.5,226.7 35.8,227.0 37.0,226.6 37.5,227.0 37.8,226.7 38.0,227.2 38.2,226.7 38.5,227.1 38.8,226.8 39.0,227.1 39.5,227.0 40.0,230.1 40.8,227.0 41.5,227.0 42.0,228.8 42.5,226.6 42.8,226.7 43.5,225.5 45.2,220.0 46.2,217.9 47.0,221.3 47.8,216.6 48.0,216.8 50.0,215.6 50.2,215.9 50.5,215.5 67.0,207.8 73.8,205.1 80.2,203.3 86.5,202.8 93.0,203.4 99.8,204.7 119.2,210.3 121.8,210.0 124.0,207.7 124.8,207.5 127.0,211.0 128.2,212.3 129.5,212.7 131.5,211.9 132.0,212.0 134.8,215.7 136.8,217.4 140.8,219.5 147.0,221.9 155.2,224.6 163.8,226.8 165.8,227.1 168.8,227.0 172.5,228.5 174.5,229.0 191.2,231.3" fill="none" stroke="#b9ecf4" stroke-width="0.8" stroke-opacity="0.85" stroke-linejoin="round"/>
<line x1="35.6" y1="234.6" x2="35.6" y2="250.0" stroke="#8c9c9c" stroke-width="0.55" stroke-opacity="0.37"/><line x1="39.9" y1="234.4" x2="39.9" y2="238.8" stroke="#a8b4a0" stroke-width="0.55" stroke-opacity="0.46"/><line x1="41.6" y1="232.3" x2="41.6" y2="242.3" stroke="#9aa39a" stroke-width="0.55" stroke-opacity="0.49"/><line x1="23.5" y1="234.7" x2="23.5" y2="238.8" stroke="#a8b4a0" stroke-width="0.55" stroke-opacity="0.68"/><line x1="32.5" y1="229.1" x2="32.5" y2="244.2" stroke="#b0a8b8" stroke-width="0.55" stroke-opacity="0.51"/><line x1="19.6" y1="235.7" x2="19.6" y2="252.3" stroke="#a0b89a" stroke-width="0.55" stroke-opacity="0.49"/><line x1="23.7" y1="235.5" x2="23.7" y2="244.9" stroke="#a8b4a0" stroke-width="0.55" stroke-opacity="0.39"/><line x1="39.2" y1="231.5" x2="39.2" y2="238.0" stroke="#a8b4a0" stroke-width="0.55" stroke-opacity="0.68"/><line x1="22.7" y1="232.3" x2="22.7" y2="244.3" stroke="#b0a8b8" stroke-width="0.55" stroke-opacity="0.74"/><line x1="46.0" y1="235.9" x2="46.0" y2="253.2" stroke="#8fa88c" stroke-width="0.55" stroke-opacity="0.63"/><line x1="32.8" y1="231.7" x2="32.8" y2="236.1" stroke="#8fa88c" stroke-width="0.55" stroke-opacity="0.39"/><line x1="26.3" y1="230.1" x2="26.3" y2="239.6" stroke="#9aa39a" stroke-width="0.55" stroke-opacity="0.53"/><line x1="20.7" y1="235.0" x2="20.7" y2="239.3" stroke="#a8b4a0" stroke-width="0.55" stroke-opacity="0.61"/><line x1="47.2" y1="233.6" x2="47.2" y2="253.2" stroke="#a0b89a" stroke-width="0.55" stroke-opacity="0.59"/><line x1="37.1" y1="235.7" x2="37.1" y2="248.0" stroke="#8fa88c" stroke-width="0.55" stroke-opacity="0.38"/><line x1="30.0" y1="231.7" x2="30.0" y2="237.3" stroke="#b0a8b8" stroke-width="0.55" stroke-opacity="0.59"/><line x1="47.9" y1="233.3" x2="47.9" y2="252.0" stroke="#8fa88c" stroke-width="0.55" stroke-opacity="0.63"/><line x1="44.6" y1="234.5" x2="44.6" y2="242.6" stroke="#8c9c9c" stroke-width="0.55" stroke-opacity="0.56"/><line x1="32.2" y1="229.6" x2="32.2" y2="244.0" stroke="#b0a8b8" stroke-width="0.55" stroke-opacity="0.66"/><line x1="31.2" y1="230.7" x2="31.2" y2="239.0" stroke="#9aa39a" stroke-width="0.55" stroke-opacity="0.52"/><line x1="25.9" y1="234.5" x2="25.9" y2="243.4" stroke="#8fa88c" stroke-width="0.55" stroke-opacity="0.54"/><line x1="30.1" y1="233.2" x2="30.1" y2="251.2" stroke="#8c9c9c" stroke-width="0.55" stroke-opacity="0.46"/><line x1="42.1" y1="229.0" x2="42.1" y2="245.9" stroke="#8c9c9c" stroke-width="0.55" stroke-opacity="0.54"/><line x1="26.7" y1="234.3" x2="26.7" y2="240.0" stroke="#a8b4a0" stroke-width="0.55" stroke-opacity="0.47"/><line x1="26.3" y1="229.2" x2="26.3" y2="237.1" stroke="#8c9c9c" stroke-width="0.55" stroke-opacity="0.58"/><line x1="48.2" y1="230.0" x2="48.2" y2="240.9" stroke="#a0b89a" stroke-width="0.55" stroke-opacity="0.53"/><line x1="20.6" y1="233.2" x2="20.6" y2="237.7" stroke="#a0b89a" stroke-width="0.55" stroke-opacity="0.63"/><line x1="42.5" y1="231.1" x2="42.5" y2="248.3" stroke="#a8b4a0" stroke-width="0.55" stroke-opacity="0.35"/><line x1="46.7" y1="233.0" x2="46.7" y2="248.0" stroke="#a0b89a" stroke-width="0.55" stroke-opacity="0.54"/><line x1="23.6" y1="229.6" x2="23.6" y2="234.2" stroke="#9aa39a" stroke-width="0.55" stroke-opacity="0.49"/><line x1="41.8" y1="232.8" x2="41.8" y2="237.6" stroke="#9aa39a" stroke-width="0.55" stroke-opacity="0.71"/><line x1="22.2" y1="234.9" x2="22.2" y2="246.5" stroke="#a0b89a" stroke-width="0.55" stroke-opacity="0.62"/><line x1="47.5" y1="231.2" x2="47.5" y2="240.1" stroke="#8c9c9c" stroke-width="0.55" stroke-opacity="0.73"/><line x1="41.1" y1="234.7" x2="41.1" y2="240.2" stroke="#a8b4a0" stroke-width="0.55" stroke-opacity="0.35"/><line x1="44.3" y1="234.4" x2="44.3" y2="250.4" stroke="#a0b89a" stroke-width="0.55" stroke-opacity="0.56"/><line x1="36.3" y1="232.2" x2="36.3" y2="236.3" stroke="#a8b4a0" stroke-width="0.55" stroke-opacity="0.73"/><line x1="33.8" y1="229.7" x2="33.8" y2="235.3" stroke="#9aa39a" stroke-width="0.55" stroke-opacity="0.58"/><line x1="37.0" y1="231.6" x2="37.0" y2="239.6" stroke="#b0a8b8" stroke-width="0.55" stroke-opacity="0.69"/><line x1="38.8" y1="230.7" x2="38.8" y2="241.5" stroke="#9aa39a" stroke-width="0.55" stroke-opacity="0.35"/><line x1="39.4" y1="231.5" x2="39.4" y2="250.2" stroke="#8c9c9c" stroke-width="0.55" stroke-opacity="0.46"/><line x1="31.8" y1="234.4" x2="31.8" y2="252.3" stroke="#8c9c9c" stroke-width="0.55" stroke-opacity="0.37"/><line x1="48.9" y1="229.7" x2="48.9" y2="242.1" stroke="#b0a8b8" stroke-width="0.55" stroke-opacity="0.41"/><line x1="42.6" y1="231.9" x2="42.6" y2="246.3" stroke="#8c9c9c" stroke-width="0.55" stroke-opacity="0.35"/><line x1="24.3" y1="230.1" x2="24.3" y2="242.6" stroke="#a8b4a0" stroke-width="0.55" stroke-opacity="0.48"/><line x1="49.7" y1="235.6" x2="49.7" y2="245.1" stroke="#a0b89a" stroke-width="0.55" stroke-opacity="0.62"/><line x1="27.1" y1="230.2" x2="27.1" y2="242.0" stroke="#a8b4a0" stroke-width="0.55" stroke-opacity="0.51"/><line x1="43.5" y1="233.4" x2="43.5" y2="251.6" stroke="#9aa39a" stroke-width="0.55" stroke-opacity="0.49"/><line x1="44.7" y1="230.9" x2="44.7" y2="235.4" stroke="#8fa88c" stroke-width="0.55" stroke-opacity="0.49"/><line x1="23.9" y1="233.4" x2="23.9" y2="237.6" stroke="#8c9c9c" stroke-width="0.55" stroke-opacity="0.44"/><line x1="46.8" y1="231.7" x2="46.8" y2="245.5" stroke="#8fa88c" stroke-width="0.55" stroke-opacity="0.59"/><line x1="26.4" y1="229.6" x2="26.4" y2="234.1" stroke="#9aa39a" stroke-width="0.55" stroke-opacity="0.49"/><line x1="35.3" y1="230.6" x2="35.3" y2="234.6" stroke="#b0a8b8" stroke-width="0.55" stroke-opacity="0.58"/><line x1="36.6" y1="233.6" x2="36.6" y2="238.0" stroke="#8fa88c" stroke-width="0.55" stroke-opacity="0.60"/><line x1="30.0" y1="233.7" x2="30.0" y2="250.0" stroke="#a8b4a0" stroke-width="0.55" stroke-opacity="0.39"/><line x1="20.7" y1="235.8" x2="20.7" y2="250.4" stroke="#b0a8b8" stroke-width="0.55" stroke-opacity="0.64"/><line x1="22.9" y1="235.8" x2="22.9" y2="252.9" stroke="#b0a8b8" stroke-width="0.55" stroke-opacity="0.40"/><line x1="39.8" y1="233.5" x2="39.8" y2="237.5" stroke="#8c9c9c" stroke-width="0.55" stroke-opacity="0.52"/><line x1="22.6" y1="230.6" x2="22.6" y2="236.8" stroke="#a0b89a" stroke-width="0.55" stroke-opacity="0.39"/><line x1="21.6" y1="231.8" x2="21.6" y2="238.3" stroke="#a8b4a0" stroke-width="0.55" stroke-opacity="0.38"/><line x1="48.3" y1="233.4" x2="48.3" y2="238.3" stroke="#8fa88c" stroke-width="0.55" stroke-opacity="0.58"/><line x1="25.5" y1="230.9" x2="25.5" y2="238.0" stroke="#a0b89a" stroke-width="0.55" stroke-opacity="0.59"/><line x1="36.8" y1="232.4" x2="36.8" y2="240.0" stroke="#8fa88c" stroke-width="0.55" stroke-opacity="0.46"/><line x1="30.9" y1="233.8" x2="30.9" y2="240.2" stroke="#a0b89a" stroke-width="0.55" stroke-opacity="0.52"/><line x1="47.8" y1="235.7" x2="47.8" y2="247.9" stroke="#8c9c9c" stroke-width="0.55" stroke-opacity="0.36"/><line x1="47.0" y1="231.4" x2="47.0" y2="246.0" stroke="#a8b4a0" stroke-width="0.55" stroke-opacity="0.46"/><line x1="28.4" y1="229.1" x2="28.4" y2="238.6" stroke="#a0b89a" stroke-width="0.55" stroke-opacity="0.50"/><line x1="24.3" y1="235.0" x2="24.3" y2="246.3" stroke="#8fa88c" stroke-width="0.55" stroke-opacity="0.65"/><line x1="41.4" y1="234.1" x2="41.4" y2="253.6" stroke="#a8b4a0" stroke-width="0.55" stroke-opacity="0.54"/><line x1="47.4" y1="232.1" x2="47.4" y2="246.6" stroke="#b0a8b8" stroke-width="0.55" stroke-opacity="0.69"/><line x1="29.3" y1="231.0" x2="29.3" y2="237.2" stroke="#9aa39a" stroke-width="0.55" stroke-opacity="0.53"/><line x1="27.2" y1="230.0" x2="27.2" y2="237.2" stroke="#a8b4a0" stroke-width="0.55" stroke-opacity="0.72"/><line x1="37.8" y1="232.8" x2="37.8" y2="247.5" stroke="#8c9c9c" stroke-width="0.55" stroke-opacity="0.50"/><line x1="21.8" y1="229.8" x2="21.8" y2="246.7" stroke="#a8b4a0" stroke-width="0.55" stroke-opacity="0.38"/><line x1="22.0" y1="231.9" x2="22.0" y2="243.5" stroke="#8fa88c" stroke-width="0.55" stroke-opacity="0.39"/><line x1="25.6" y1="233.3" x2="25.6" y2="245.1" stroke="#8fa88c" stroke-width="0.55" stroke-opacity="0.59"/><line x1="37.7" y1="234.0" x2="37.7" y2="242.7" stroke="#8fa88c" stroke-width="0.55" stroke-opacity="0.52"/><line x1="39.7" y1="234.2" x2="39.7" y2="243.4" stroke="#8c9c9c" stroke-width="0.55" stroke-opacity="0.71"/><line x1="37.2" y1="234.2" x2="37.2" y2="245.2" stroke="#9aa39a" stroke-width="0.55" stroke-opacity="0.75"/><line x1="25.5" y1="233.2" x2="25.5" y2="237.7" stroke="#a8b4a0" stroke-width="0.55" stroke-opacity="0.48"/><line x1="39.9" y1="230.9" x2="39.9" y2="241.8" stroke="#8c9c9c" stroke-width="0.55" stroke-opacity="0.66"/><line x1="25.7" y1="234.3" x2="25.7" y2="238.4" stroke="#a8b4a0" stroke-width="0.55" stroke-opacity="0.56"/><line x1="49.8" y1="232.3" x2="49.8" y2="238.6" stroke="#b0a8b8" stroke-width="0.55" stroke-opacity="0.62"/><line x1="33.7" y1="231.0" x2="33.7" y2="239.2" stroke="#b0a8b8" stroke-width="0.55" stroke-opacity="0.43"/><line x1="23.2" y1="229.2" x2="23.2" y2="242.6" stroke="#b0a8b8" stroke-width="0.55" stroke-opacity="0.43"/><line x1="27.5" y1="234.2" x2="27.5" y2="238.2" stroke="#8c9c9c" stroke-width="0.55" stroke-opacity="0.51"/><line x1="42.8" y1="234.8" x2="42.8" y2="242.1" stroke="#b0a8b8" stroke-width="0.55" stroke-opacity="0.65"/><line x1="38.0" y1="231.3" x2="38.0" y2="247.0" stroke="#9aa39a" stroke-width="0.55" stroke-opacity="0.39"/><line x1="31.7" y1="230.4" x2="31.7" y2="240.5" stroke="#a0b89a" stroke-width="0.55" stroke-opacity="0.57"/><line x1="40.9" y1="235.5" x2="40.9" y2="247.3" stroke="#a8b4a0" stroke-width="0.55" stroke-opacity="0.41"/><line x1="41.5" y1="229.7" x2="41.5" y2="246.2" stroke="#8fa88c" stroke-width="0.55" stroke-opacity="0.41"/><line x1="43.0" y1="231.8" x2="43.0" y2="243.5" stroke="#b0a8b8" stroke-width="0.55" stroke-opacity="0.60"/><line x1="34.7" y1="233.9" x2="34.7" y2="240.1" stroke="#8fa88c" stroke-width="0.55" stroke-opacity="0.52"/><line x1="42.8" y1="234.2" x2="42.8" y2="248.4" stroke="#b0a8b8" stroke-width="0.55" stroke-opacity="0.74"/><line x1="34.1" y1="231.7" x2="34.1" y2="239.4" stroke="#8fa88c" stroke-width="0.55" stroke-opacity="0.61"/><line x1="45.1" y1="229.3" x2="45.1" y2="243.4" stroke="#9aa39a" stroke-width="0.55" stroke-opacity="0.50"/><line x1="29.3" y1="229.3" x2="29.3" y2="247.2" stroke="#8c9c9c" stroke-width="0.55" stroke-opacity="0.54"/><line x1="42.9" y1="229.5" x2="42.9" y2="241.1" stroke="#8fa88c" stroke-width="0.55" stroke-opacity="0.68"/><line x1="42.9" y1="234.9" x2="42.9" y2="240.4" stroke="#9aa39a" stroke-width="0.55" stroke-opacity="0.63"/><line x1="25.9" y1="235.4" x2="25.9" y2="242.7" stroke="#9aa39a" stroke-width="0.55" stroke-opacity="0.57"/><line x1="40.4" y1="234.5" x2="40.4" y2="249.6" stroke="#9aa39a" stroke-width="0.55" stroke-opacity="0.59"/><line x1="28.3" y1="233.6" x2="28.3" y2="240.3" stroke="#8fa88c" stroke-width="0.55" stroke-opacity="0.40"/><line x1="46.3" y1="235.4" x2="46.3" y2="246.6" stroke="#a0b89a" stroke-width="0.55" stroke-opacity="0.46"/><line x1="44.4" y1="235.7" x2="44.4" y2="247.0" stroke="#a0b89a" stroke-width="0.55" stroke-opacity="0.71"/><line x1="24.7" y1="234.6" x2="24.7" y2="239.3" stroke="#a8b4a0" stroke-width="0.55" stroke-opacity="0.60"/><line x1="49.1" y1="232.1" x2="49.1" y2="246.1" stroke="#8c9c9c" stroke-width="0.55" stroke-opacity="0.41"/><line x1="26.5" y1="229.3" x2="26.5" y2="235.7" stroke="#9aa39a" stroke-width="0.55" stroke-opacity="0.68"/><line x1="22.2" y1="233.8" x2="22.2" y2="245.0" stroke="#a0b89a" stroke-width="0.55" stroke-opacity="0.50"/><line x1="47.0" y1="231.8" x2="47.0" y2="245.3" stroke="#9aa39a" stroke-width="0.55" stroke-opacity="0.67"/><line x1="45.2" y1="232.7" x2="45.2" y2="240.9" stroke="#b0a8b8" stroke-width="0.55" stroke-opacity="0.51"/><line x1="23.6" y1="232.1" x2="23.6" y2="249.8" stroke="#9aa39a" stroke-width="0.55" stroke-opacity="0.64"/>
<polyline points="197.5,232.2 214.0,231.9 230.0,231.1 232.2,230.5 233.8,229.1 234.8,226.7 237.2,218.2 241.2,207.5 243.5,198.7 246.0,183.6 249.5,154.1 250.2,150.1 251.0,148.7 251.8,150.3 252.5,154.5 256.2,186.7 258.8,201.3 260.5,207.9 262.2,212.6 264.5,216.8 267.0,219.8 269.8,221.8 272.8,222.9 275.5,223.0 278.2,222.0 280.5,220.3 282.8,217.8 285.5,213.9 290.0,206.1 291.0,205.0 292.0,204.7 293.0,205.3 294.0,206.9 297.8,215.8 299.5,219.2 301.5,221.9 303.5,223.4 305.8,224.0 306.5,223.7 307.0,222.9 307.5,220.9 308.2,212.2 308.5,211.8 309.5,222.3 310.0,223.9 311.0,225.0 314.8,225.9 323.0,226.3 324.8,225.9 325.8,224.5 326.5,225.8 327.2,226.2 332.8,226.4" fill="none" stroke="#d8d0a0" stroke-width="0.45" stroke-opacity="0.62" stroke-linejoin="round"/>
<polyline points="197.5,234.3 214.2,234.0 230.0,233.2 232.2,232.4 233.5,230.8 234.5,227.4 237.0,213.0 240.8,196.3 243.0,183.0 245.5,160.7 249.5,112.1 250.2,106.7 251.0,104.9 251.8,107.1 252.5,112.9 256.5,163.0 259.2,187.3 261.0,197.4 263.0,205.6 265.2,211.9 267.8,216.6 270.5,219.8 273.2,221.5 276.0,221.8 278.5,220.8 280.8,218.7 283.0,215.6 285.5,211.1 290.0,201.4 291.0,200.0 292.0,199.6 293.0,200.4 294.0,202.4 297.8,213.8 299.8,218.6 301.8,221.8 303.8,223.7 305.8,224.5 307.0,224.1 307.5,222.9 308.2,217.7 308.5,217.5 309.5,224.0 310.2,225.2 311.2,225.8 314.0,226.3 318.5,226.5 324.0,226.4 325.8,225.8 327.2,226.3 332.8,226.1" fill="none" stroke="#a0e0e0" stroke-width="0.45" stroke-opacity="0.62" stroke-linejoin="round"/>
<polyline points="197.5,232.6 214.2,232.3 230.0,231.5 232.2,230.9 233.8,229.2 234.8,226.3 237.2,215.7 241.0,203.5 243.2,193.2 245.8,175.7 249.5,139.2 250.2,134.7 251.0,133.1 251.8,135.0 252.5,139.7 256.2,177.3 259.0,196.3 260.8,204.1 262.5,209.6 264.8,214.6 267.2,218.2 270.0,220.6 273.0,221.9 275.8,221.8 278.5,220.2 280.5,218.0 282.8,214.6 285.5,209.3 290.0,198.8 291.0,197.2 292.0,196.8 293.0,197.7 294.0,199.8 297.8,211.9 299.8,217.2 301.8,220.6 303.8,222.6 305.8,223.6 307.0,223.2 307.5,222.2 308.2,217.3 308.5,217.1 309.5,223.3 310.2,224.5 311.2,225.1 313.8,225.6 318.2,226.0 332.8,226.2" fill="none" stroke="#b8d890" stroke-width="0.45" stroke-opacity="0.62" stroke-linejoin="round"/>
<polyline points="197.5,234.1 214.0,233.8 230.0,233.0 232.2,232.4 233.8,230.6 234.8,227.6 237.2,216.6 241.0,203.6 243.5,190.9 246.0,170.2 249.8,124.6 250.5,119.7 251.0,118.7 251.5,119.9 252.2,125.2 256.0,172.1 258.5,193.2 260.2,202.5 262.0,209.1 264.2,214.9 266.8,219.1 269.5,221.9 272.5,223.6 275.5,223.9 278.2,222.9 280.5,221.1 282.8,218.4 285.5,214.2 290.0,205.7 291.0,204.5 292.0,204.2 293.0,204.8 294.0,206.5 297.8,216.2 299.8,220.3 301.8,223.0 303.8,224.5 305.8,225.1 306.5,225.0 307.0,224.5 307.5,223.1 308.2,217.1 308.5,216.8 309.5,224.2 310.2,225.6 311.2,226.2 315.5,226.7 323.0,226.7 324.8,226.3 325.8,225.1 326.5,226.1 327.2,226.4 332.8,226.3" fill="none" stroke="#c7b3e3" stroke-width="0.45" stroke-opacity="0.62" stroke-linejoin="round"/>
<polyline points="197.5,233.1 214.2,232.8 230.0,231.9 232.2,231.3 233.8,229.2 234.8,225.6 237.2,212.2 241.0,196.4 243.5,180.9 246.0,155.6 249.8,99.8 250.5,93.8 251.0,92.7 251.5,94.1 252.2,100.5 256.0,158.0 258.5,183.7 260.2,195.2 262.0,203.2 264.2,210.3 266.8,215.4 269.5,218.9 272.5,221.0 274.0,221.4 275.5,221.4 278.2,220.1 280.5,217.9 282.8,214.6 285.5,209.2 290.0,198.8 291.0,197.3 292.0,196.9 293.0,197.7 294.0,199.8 297.8,212.0 299.8,217.3 301.8,220.7 303.8,222.7 305.8,223.5 306.5,223.3 307.0,222.6 307.5,220.9 308.2,213.1 308.5,212.8 309.5,222.4 310.2,224.2 311.2,225.0 315.5,225.9 323.2,226.1 324.8,225.6 325.8,223.6 326.5,225.4 327.2,225.9 332.8,226.2" fill="none" stroke="#e3a6c6" stroke-width="0.45" stroke-opacity="0.62" stroke-linejoin="round"/>
<polyline points="197.5,234.0 214.5,233.7 230.0,232.8 232.2,232.0 233.5,230.0 234.5,225.9 237.0,208.2 241.0,186.3 243.0,171.6 245.5,144.9 249.2,91.4 250.2,82.6 251.0,80.6 251.8,83.1 252.5,89.6 256.8,151.0 259.5,178.9 261.2,190.6 263.2,200.3 265.5,207.7 268.0,213.3 270.5,216.8 273.2,219.0 274.8,219.4 276.0,219.4 278.5,218.2 280.8,215.7 283.0,212.0 285.5,206.6 290.0,194.9 291.0,193.3 292.0,192.8 293.0,193.8 294.0,196.2 297.8,210.1 299.8,216.0 301.8,220.0 303.8,222.3 305.8,223.3 306.5,223.2 307.0,222.8 307.5,221.4 308.2,215.2 308.5,215.0 309.5,222.8 310.2,224.3 311.2,225.0 316.5,225.9 323.5,225.8 324.8,224.9 325.8,221.2 326.5,224.5 327.2,225.5 328.8,225.9 332.8,225.9" fill="none" stroke="#c4e28a" stroke-width="0.45" stroke-opacity="0.62" stroke-linejoin="round"/>
<polyline points="197.5,232.1 214.5,231.8 230.0,231.0 231.2,230.7 232.2,230.1 233.5,227.8 234.8,221.2 237.0,202.1 240.8,178.3 242.8,162.0 245.2,133.0 249.2,72.0 250.2,62.9 251.0,60.9 251.8,63.5 252.8,73.3 257.0,139.8 259.8,170.3 261.5,183.3 263.5,194.2 265.8,202.7 268.5,209.6 270.8,213.3 273.2,216.0 275.8,217.3 278.5,217.5 280.8,216.5 283.0,214.8 285.8,211.6 290.0,205.6 291.0,204.7 292.0,204.5 293.0,205.2 294.0,206.7 297.8,215.1 299.8,218.8 301.8,221.2 303.8,222.6 305.8,223.3 307.0,223.0 307.5,222.2 308.2,218.2 308.5,218.1 309.5,223.1 310.2,224.1 311.2,224.6 316.5,225.3 323.5,225.5 324.8,225.0 325.8,222.9 326.5,224.8 327.2,225.5 332.8,225.9" fill="none" stroke="#a8dcf4" stroke-width="0.45" stroke-opacity="0.62" stroke-linejoin="round"/>
<polyline points="197.5,234.0 214.5,233.7 230.0,232.9 231.2,232.6 232.2,231.9 233.5,229.2 234.5,223.6 237.0,199.3 240.5,174.2 242.5,156.6 245.0,126.0 249.0,62.7 250.0,52.4 250.5,49.7 251.0,48.9 251.8,51.4 252.8,61.0 257.2,133.4 260.2,167.9 262.0,181.5 264.0,192.9 266.2,201.9 269.0,209.4 271.0,213.1 273.0,215.7 275.0,217.5 277.2,218.5 280.0,218.6 282.8,217.6 285.5,215.6 290.0,211.2 291.8,210.5 292.8,210.8 294.0,212.2 297.8,218.6 299.8,221.3 301.8,223.2 303.8,224.2 305.8,224.6 307.0,224.1 307.5,223.0 308.2,218.2 308.5,218.0 309.5,223.9 310.2,225.0 311.2,225.5 317.0,226.0 323.5,225.8 324.8,224.8 325.8,221.3 326.5,224.5 327.2,225.5 328.8,225.8 332.8,225.8" fill="none" stroke="#8ccff0" stroke-width="0.45" stroke-opacity="0.62" stroke-linejoin="round"/>
<polyline points="197.5,238.4 206.5,237.8 209.2,236.0 211.2,236.9 213.5,236.4 218.0,234.0 226.0,227.8 227.8,226.9 229.5,226.4 230.8,226.4 231.8,226.9 235.0,229.6 238.2,231.6 240.0,232.1 241.8,232.0 244.8,230.3 249.5,224.6 251.0,223.8 252.5,224.5 256.0,228.8 258.2,230.8 261.2,232.3 264.8,233.3 271.8,233.8 278.0,233.4 282.8,232.1 290.0,228.9 292.0,228.5 294.0,229.1 298.0,231.7 300.2,232.8 302.8,233.4 305.0,233.5 306.5,232.6 307.2,230.5 308.5,217.7 309.5,230.4 310.0,232.2 311.0,233.5 313.5,234.1 316.0,232.8 318.0,233.2 319.8,234.3 320.8,234.6 332.8,234.9" fill="none" stroke="#e6dccc" stroke-width="0.45" stroke-opacity="0.62" stroke-linejoin="round"/>
<polyline points="197.5,239.7 206.5,239.3 209.2,238.2 211.0,238.9 212.2,239.1 234.2,237.3 240.8,234.6 243.5,233.0 246.0,230.5 249.8,225.0 251.0,224.2 252.5,225.1 255.8,229.6 257.8,231.5 260.5,233.1 264.0,234.0 271.0,234.4 277.5,233.6 281.8,232.2 289.5,228.0 291.8,227.4 294.0,228.0 300.5,232.2 303.0,233.0 305.2,233.1 306.5,232.5 307.2,230.8 308.5,220.5 309.5,230.8 310.0,232.3 311.0,233.3 313.5,233.8 316.0,232.4 318.0,232.7 320.2,234.0 323.5,233.8 324.2,233.4 324.8,232.6 325.8,227.8 326.5,232.1 327.2,233.5 328.8,234.0 332.8,234.2" fill="none" stroke="#d8e6cc" stroke-width="0.45" stroke-opacity="0.62" stroke-linejoin="round"/>
<polyline points="197.5,237.6 206.5,237.1 209.2,236.3 212.5,236.8 234.2,235.1 240.8,232.2 243.5,230.5 246.0,227.9 249.8,222.3 251.0,221.5 252.2,222.2 255.8,227.3 258.2,229.9 261.2,231.5 265.2,232.6 272.2,233.0 278.0,232.3 282.0,230.9 289.5,226.6 291.8,225.9 294.0,226.7 300.0,231.2 303.8,232.6 305.8,232.9 307.0,232.5 307.5,231.8 308.5,228.5 309.5,232.4 311.0,233.4 313.5,233.6 316.0,232.2 318.0,232.6 320.2,233.9 323.8,233.9 324.8,233.2 325.8,230.5 326.5,233.0 327.2,233.8 332.8,234.4" fill="none" stroke="#e8d0dc" stroke-width="0.45" stroke-opacity="0.62" stroke-linejoin="round"/>
<polyline points="197.5,238.9 213.2,238.0 227.0,236.3 234.5,235.7 240.8,232.8 243.5,230.7 246.0,227.5 249.8,220.4 251.0,219.4 252.2,220.3 255.8,226.7 258.0,229.6 261.0,231.7 265.2,233.0 272.0,233.5 277.8,232.8 282.2,230.9 289.8,226.3 291.8,225.8 294.0,226.5 298.5,230.2 300.8,231.7 303.5,232.7 305.8,232.9 306.8,232.4 307.2,231.6 308.5,225.0 309.5,231.7 310.0,232.6 311.0,233.3 313.5,233.7 316.0,232.3 318.0,232.7 320.2,233.9 323.5,233.9 324.8,233.0 325.8,229.6 326.5,232.7 327.2,233.7 328.8,234.0 332.8,234.2" fill="none" stroke="#cfe8c0" stroke-width="0.45" stroke-opacity="0.62" stroke-linejoin="round"/>
<polyline points="197.5,238.3 206.2,237.8 209.2,237.0 211.2,237.1 213.5,236.6 218.0,234.8 226.0,230.0 229.2,229.0 231.2,229.1 234.8,230.9 237.8,231.7 239.5,231.9 241.2,231.6 243.2,230.5 245.2,228.3 249.8,219.8 251.0,218.8 252.2,219.8 255.5,226.1 257.8,229.1 260.8,231.3 265.0,232.7 268.5,233.1 272.5,233.2 275.5,232.8 278.2,232.1 282.8,229.7 290.0,223.5 292.0,222.8 293.0,223.1 294.0,223.9 297.8,228.6 299.8,230.6 301.8,231.9 303.8,232.6 307.0,233.1 308.5,231.9 309.8,233.3 313.0,233.7 314.0,233.5 316.0,232.3 318.0,232.6 320.2,233.9 323.2,233.8 324.2,233.2 324.8,232.3 325.8,227.0 326.5,231.8 327.2,233.4 328.8,234.0 332.8,234.2" fill="none" stroke="#b08888" stroke-width="0.45" stroke-opacity="0.62" stroke-linejoin="round"/>
<polyline points="197.5,238.9 213.2,238.0 227.0,236.1 234.5,235.5 240.8,232.3 243.8,229.7 246.2,225.7 249.8,217.3 250.5,216.3 251.0,216.1 251.5,216.3 252.2,217.3 255.5,224.9 257.8,228.5 260.8,231.1 265.0,232.7 268.2,233.2 272.0,233.3 275.2,232.9 278.0,232.2 282.5,229.9 289.8,223.8 291.0,223.0 292.0,222.8 293.0,223.2 294.0,223.9 299.8,230.3 301.8,231.6 304.0,232.5 307.0,232.8 308.5,231.3 309.5,232.9 310.8,233.3 313.5,233.4 316.0,232.0 318.0,232.3 320.2,233.6 323.2,233.5 324.2,232.9 324.8,232.0 325.8,226.5 326.5,231.5 327.2,233.1 328.8,233.7 332.8,233.9" fill="none" stroke="#8aa878" stroke-width="0.45" stroke-opacity="0.62" stroke-linejoin="round"/>
<polyline points="197.5,238.4 213.5,237.5 226.5,235.6 233.0,235.2 234.2,234.9 240.5,230.2 243.0,227.6 245.5,223.6 249.5,214.7 250.2,213.7 251.0,213.3 251.8,213.6 252.5,214.6 256.5,223.3 259.0,227.1 262.5,230.1 266.8,231.8 273.0,232.5 275.8,232.3 278.5,231.6 282.8,229.5 289.8,224.0 291.8,223.1 292.8,223.3 294.0,224.2 298.2,229.0 300.5,230.8 303.5,232.1 305.8,232.0 306.8,230.9 307.2,229.3 308.5,215.8 309.5,229.2 310.0,231.2 311.0,232.5 313.5,233.2 316.0,231.9 318.0,232.3 320.2,233.6 322.5,233.8 324.5,233.6 325.8,232.5 326.5,233.4 327.2,233.7 332.8,234.0" fill="none" stroke="#b0b090" stroke-width="0.45" stroke-opacity="0.62" stroke-linejoin="round"/>
<polyline points="197.5,238.0 206.5,237.7 209.2,237.0 211.5,237.4 214.5,237.2 232.8,235.6 234.2,235.2 240.8,230.9 243.5,228.3 246.0,224.4 249.5,216.7 250.2,215.6 251.0,215.2 251.8,215.5 252.5,216.6 256.0,223.9 258.5,227.4 261.8,229.9 265.8,231.3 269.2,231.7 272.8,231.6 275.8,231.2 278.2,230.4 282.5,227.8 289.8,220.9 291.8,219.9 292.8,220.1 294.0,221.1 298.2,226.5 300.5,228.6 303.2,230.0 305.8,230.2 306.8,229.3 307.2,227.9 308.5,216.5 309.5,227.9 310.0,229.5 311.0,230.7 313.5,231.3 316.0,229.9 318.0,230.3 320.2,231.6 323.5,231.5 324.8,230.6 325.8,227.1 326.5,230.3 327.2,231.3 328.8,231.7 332.8,231.9" fill="none" stroke="#a4a4a4" stroke-width="0.45" stroke-opacity="0.62" stroke-linejoin="round"/>
<polyline points="197.5,237.4 206.5,237.0 209.2,236.4 211.2,236.7 213.8,236.5 227.2,234.5 233.0,234.2 234.2,233.8 240.8,228.4 243.2,225.3 245.8,220.4 249.5,209.8 250.2,208.4 251.0,207.9 251.8,208.4 252.5,209.7 256.2,220.0 258.8,224.6 262.0,227.9 264.0,229.1 266.2,229.9 269.2,230.5 272.5,230.6 275.5,230.3 278.0,229.4 282.5,226.4 289.8,219.2 291.8,218.3 292.8,218.5 294.0,219.5 298.5,225.4 300.8,227.6 303.5,229.2 305.8,229.3 306.8,228.3 307.2,226.7 308.5,213.3 309.5,226.7 310.0,228.7 311.0,230.0 312.2,230.6 313.5,230.8 316.0,229.5 318.0,229.9 320.2,231.2 323.2,231.3 324.8,230.8 325.8,229.1 326.5,230.7 327.2,231.2 332.8,231.5" fill="none" stroke="#68a8a8" stroke-width="0.45" stroke-opacity="0.62" stroke-linejoin="round"/>
<polyline points="197.5,238.2 206.5,237.8 209.2,236.4 211.0,237.3 212.5,237.5 232.5,235.6 234.0,235.2 240.8,229.5 243.2,226.5 246.0,221.1 249.5,211.0 250.2,209.6 251.0,209.1 251.8,209.6 252.5,210.9 256.0,220.8 258.5,225.6 260.0,227.4 261.8,229.0 263.8,230.1 266.0,231.0 269.2,231.6 272.8,231.7 275.8,231.3 278.2,230.3 280.8,228.7 283.2,226.4 290.0,218.4 291.0,217.7 292.0,217.5 293.0,217.9 294.0,218.9 299.8,227.8 301.8,229.7 304.0,230.9 305.8,231.3 307.0,231.3 307.5,230.8 308.5,228.6 309.5,231.4 310.8,232.1 313.5,232.3 316.0,231.0 318.0,231.3 320.2,232.6 323.2,232.5 324.2,232.0 324.8,231.1 325.8,225.7 326.5,230.6 327.2,232.1 328.8,232.7 332.8,233.0" fill="none" stroke="#d098c0" stroke-width="0.45" stroke-opacity="0.62" stroke-linejoin="round"/>
<polyline points="197.5,236.4 213.2,235.5 227.0,233.2 233.2,232.9 234.5,232.5 240.8,228.6 243.8,225.3 246.2,220.5 249.8,210.2 250.5,208.9 251.0,208.7 251.5,208.9 252.2,210.1 255.5,219.5 257.8,224.0 260.8,227.2 262.8,228.4 265.0,229.3 268.2,229.8 272.0,229.9 275.0,229.4 277.5,228.4 279.8,227.0 282.0,224.9 289.5,216.1 290.8,215.2 291.8,215.0 292.8,215.3 294.0,216.4 298.8,223.4 301.0,226.0 303.8,227.9 305.0,228.2 306.0,228.1 306.8,227.3 307.2,225.7 308.2,213.3 308.5,212.8 309.5,225.9 310.0,227.8 311.0,229.2 313.5,229.9 316.0,228.7 318.0,229.1 320.2,230.4 323.2,230.5 324.8,230.1 325.8,228.3 326.5,230.0 327.2,230.5 332.8,230.8" fill="none" stroke="#a0a0c8" stroke-width="0.45" stroke-opacity="0.62" stroke-linejoin="round"/>
<polyline points="197.5,236.7 206.5,236.3 209.2,234.9 211.2,235.9 214.0,235.8 227.2,233.9 233.0,233.5 234.5,233.0 241.0,227.4 243.8,223.6 246.2,217.5 249.8,204.5 250.5,202.9 251.0,202.6 251.5,202.9 252.2,204.5 255.5,216.5 258.0,222.6 259.5,224.8 261.0,226.4 263.0,227.8 265.2,228.8 268.8,229.6 272.2,229.7 275.2,229.1 277.8,227.9 280.0,226.2 282.2,223.8 289.8,213.5 290.8,212.6 291.8,212.3 292.8,212.6 294.0,213.9 298.2,221.6 300.2,224.6 302.2,226.6 304.2,227.9 306.0,228.3 307.0,227.9 307.5,226.8 308.2,222.1 308.5,221.9 309.5,227.8 310.2,228.9 311.2,229.4 313.8,229.7 316.0,228.4 318.0,228.8 320.2,230.1 323.8,230.0 324.8,229.0 325.8,224.7 326.5,228.6 327.2,229.8 328.8,230.3 332.8,230.6" fill="none" stroke="#809050" stroke-width="0.45" stroke-opacity="0.62" stroke-linejoin="round"/>
<polyline points="197.5,237.2 206.5,236.7 212.5,235.6 217.5,233.4 225.0,227.6 227.8,226.1 230.8,225.6 234.5,227.3 240.0,224.8 242.2,222.1 244.2,217.8 246.2,211.4 249.5,197.8 250.2,195.8 251.0,195.1 251.8,195.8 252.5,197.8 256.2,213.0 258.8,220.0 260.2,222.7 262.0,224.9 264.0,226.7 266.2,228.0 269.5,229.0 273.0,229.2 276.0,228.6 278.5,227.4 280.5,225.8 282.8,223.5 285.5,219.8 290.0,212.8 291.0,211.8 292.0,211.5 293.0,212.0 294.0,213.3 297.8,221.2 299.8,224.5 301.8,226.8 303.8,228.0 305.8,228.6 307.0,228.3 307.5,227.5 308.2,223.8 308.5,223.6 309.5,228.2 310.8,229.4 313.5,229.8 316.0,228.4 318.0,228.8 320.2,230.1 323.2,230.0 324.2,229.4 324.8,228.5 325.8,222.8 326.5,227.9 327.2,229.6 328.8,230.2 332.8,230.5" fill="none" stroke="#c098b8" stroke-width="0.45" stroke-opacity="0.62" stroke-linejoin="round"/>
<polyline points="197.5,237.4 206.5,237.0 209.2,236.2 211.5,236.7 216.5,236.4 232.0,235.2 234.0,234.6 240.8,227.8 243.5,223.8 246.0,217.8 249.8,204.2 250.5,202.6 251.0,202.3 251.5,202.6 252.2,204.1 255.8,216.7 258.2,222.8 259.8,225.0 261.5,226.9 263.2,228.2 265.5,229.2 269.0,230.0 272.5,230.0 275.5,229.4 278.0,228.0 280.2,226.0 282.5,223.3 289.5,212.6 290.8,211.3 291.8,211.0 292.8,211.3 294.0,212.8 298.2,221.3 300.2,224.6 302.2,226.9 304.2,228.2 306.0,228.6 307.0,228.0 307.5,226.6 308.2,220.5 308.5,220.2 309.5,227.8 310.0,228.9 311.0,229.8 313.5,230.3 316.0,229.0 318.0,229.5 320.2,230.8 323.5,230.6 324.2,230.2 324.8,229.3 325.8,224.0 326.5,228.9 327.2,230.4 328.8,231.0 332.8,231.2" fill="none" stroke="#7ca0d0" stroke-width="0.45" stroke-opacity="0.62" stroke-linejoin="round"/>
<polyline points="197.5,236.1 230.5,234.5 232.8,234.2 234.0,233.6 241.0,224.6 243.8,219.4 246.2,211.5 249.8,194.7 250.5,192.6 251.0,192.2 251.5,192.6 252.2,194.7 255.5,210.3 258.0,218.5 259.5,221.5 261.2,224.0 263.2,225.9 265.5,227.2 268.8,228.3 272.2,228.5 275.2,228.0 277.8,226.8 280.0,225.0 282.2,222.4 289.5,211.8 290.8,210.6 291.8,210.3 293.0,210.8 294.2,212.4 298.2,220.1 300.2,223.3 302.2,225.5 304.2,226.9 306.0,227.2 307.0,226.3 307.5,224.6 308.2,216.9 308.5,216.5 309.5,226.0 310.0,227.4 311.0,228.4 313.5,229.1 316.0,227.8 318.0,228.2 320.2,229.6 323.5,229.5 324.2,229.2 324.8,228.5 325.8,224.4 326.5,228.2 327.2,229.3 328.8,229.8 332.8,230.0" fill="none" stroke="#b8b878" stroke-width="0.45" stroke-opacity="0.62" stroke-linejoin="round"/>
<polyline points="197.5,235.3 206.5,234.8 209.2,233.3 211.0,234.3 212.5,234.5 231.5,233.3 233.0,233.0 234.0,232.3 237.2,226.9 241.0,221.4 243.5,215.9 246.0,207.0 249.8,187.5 250.5,185.3 251.0,184.9 251.5,185.4 252.2,187.6 256.0,207.2 258.5,216.0 260.0,219.4 261.8,222.2 263.8,224.4 266.2,226.2 269.5,227.5 273.0,228.0 276.0,227.5 278.8,226.1 281.0,224.3 283.5,221.5 286.0,217.8 290.2,210.3 291.2,209.3 292.0,209.0 293.0,209.7 294.0,211.3 297.5,219.9 299.2,223.5 301.2,226.1 303.2,227.7 305.8,228.4 306.5,228.1 307.0,227.5 307.5,225.9 308.2,219.1 308.5,218.8 309.5,227.2 310.0,228.4 311.0,229.3 313.5,229.9 316.0,228.6 318.0,229.0 320.2,230.4 323.5,230.3 324.2,230.0 324.8,229.4 325.8,225.5 326.5,229.0 327.2,230.2 328.8,230.6 332.8,230.8" fill="none" stroke="#90c0a4" stroke-width="0.45" stroke-opacity="0.62" stroke-linejoin="round"/>
<polyline points="197.5,236.2 206.5,235.8 207.5,235.3 209.2,233.8 211.0,235.2 212.5,235.4 227.2,233.1 232.8,232.7 234.2,231.9 240.8,222.8 243.5,217.0 246.0,208.0 249.8,187.7 250.5,185.4 251.0,184.9 251.5,185.4 252.2,187.7 255.8,206.8 258.2,216.1 259.8,219.7 261.5,222.5 263.5,224.8 266.0,226.6 269.0,227.7 272.2,228.2 275.2,227.9 278.0,226.8 280.2,225.2 282.8,222.8 290.0,213.3 291.0,212.5 292.0,212.3 293.0,212.8 294.2,214.3 298.0,221.0 300.0,224.0 301.8,225.8 303.8,227.0 305.8,227.4 306.5,227.1 307.0,226.4 307.5,224.6 308.2,216.7 308.5,216.3 309.5,225.9 310.0,227.3 311.0,228.3 313.5,228.9 316.0,227.6 318.0,228.0 320.2,229.3 323.2,229.5 324.8,229.1 325.8,227.8 326.5,229.0 327.2,229.4 332.8,229.7" fill="none" stroke="#7c80b0" stroke-width="0.45" stroke-opacity="0.62" stroke-linejoin="round"/>
<polyline points="197.5,236.4 206.5,236.0 207.5,235.6 209.2,234.3 211.0,235.5 212.5,235.7 227.2,233.3 232.8,232.9 234.0,232.5 240.8,224.6 243.2,220.4 245.8,213.7 249.5,199.9 250.2,198.2 251.0,197.5 251.8,198.1 252.5,199.8 256.2,213.4 258.8,219.7 260.2,222.2 262.0,224.3 264.0,225.9 266.2,227.1 269.5,227.9 272.8,227.9 275.5,227.2 277.8,225.8 279.8,223.8 282.0,220.8 289.2,208.2 290.5,206.7 291.8,206.2 293.0,206.8 294.2,208.6 298.5,218.1 300.5,221.8 302.5,224.4 304.8,226.2 306.2,226.8 307.2,226.5 308.2,223.2 308.5,223.1 309.5,227.0 310.2,227.8 311.5,228.3 313.8,228.5 316.0,227.3 318.0,227.7 319.8,228.9 320.8,229.2 324.2,229.2 325.8,228.4 327.2,229.4 332.8,229.6" fill="none" stroke="#d09c9c" stroke-width="0.45" stroke-opacity="0.62" stroke-linejoin="round"/>
<polyline points="197.5,235.3 206.5,234.8 207.5,234.4 209.2,232.8 211.0,234.3 212.5,234.6 231.8,233.0 233.0,232.7 234.0,232.0 241.0,220.4 243.8,213.7 246.2,203.3 249.8,182.3 250.5,179.7 251.0,179.2 251.5,179.8 252.2,182.4 255.8,203.6 258.2,213.8 259.8,217.7 261.5,221.0 263.5,223.5 266.0,225.5 269.0,226.8 272.2,227.4 275.2,227.2 278.0,226.1 280.0,224.7 282.0,222.7 289.5,212.6 290.8,211.4 291.8,211.0 292.8,211.4 294.0,212.8 298.0,220.3 300.0,223.5 301.8,225.4 303.8,226.8 305.8,227.2 306.5,226.9 307.0,226.1 307.5,224.0 308.2,215.0 308.5,214.6 309.5,225.5 310.0,227.1 311.0,228.3 313.5,229.0 316.0,227.7 318.0,228.2 320.2,229.5 323.5,229.4 324.2,229.1 324.8,228.4 325.8,224.2 326.5,228.0 327.2,229.2 328.8,229.7 332.8,230.0" fill="none" stroke="#88b888" stroke-width="0.45" stroke-opacity="0.62" stroke-linejoin="round"/>
<polyline points="197.5,235.4 206.5,235.0 209.2,233.3 211.0,234.4 212.5,234.7 232.2,232.6 234.0,231.9 240.8,222.2 243.5,216.4 246.0,207.6 249.8,188.1 250.5,185.9 251.0,185.5 251.5,185.9 252.2,188.1 255.8,206.5 258.2,215.5 259.8,219.0 261.5,221.8 263.5,224.0 266.0,225.8 269.0,226.9 272.2,227.4 275.2,227.1 277.8,226.2 281.8,223.1 289.5,213.4 290.8,212.3 291.8,212.0 292.8,212.3 294.0,213.5 298.2,220.7 300.2,223.5 302.0,225.1 304.0,226.3 306.0,226.8 307.0,226.2 307.5,225.0 308.2,219.8 308.5,219.6 309.5,226.0 310.0,227.0 311.0,227.7 313.5,228.2 316.0,226.8 318.0,227.2 319.8,228.4 320.8,228.7 324.2,228.7 325.8,228.2 327.2,228.8 332.8,228.9" fill="none" stroke="#c0a070" stroke-width="0.45" stroke-opacity="0.62" stroke-linejoin="round"/>
<polyline points="197.5,235.3 206.5,235.0 209.2,234.1 211.5,234.6 215.2,234.3 226.8,232.6 232.2,232.2 234.0,231.3 240.8,218.6 243.5,211.0 246.0,199.4 249.8,173.5 250.5,170.7 251.0,170.1 251.5,170.7 252.2,173.6 255.8,198.2 258.2,210.2 259.8,214.8 261.5,218.6 263.5,221.6 266.0,223.9 269.0,225.5 272.2,226.2 275.2,225.9 278.0,224.7 280.2,222.8 282.5,220.1 285.2,216.0 289.8,208.0 291.0,206.5 292.0,206.2 293.0,206.8 294.0,208.3 297.8,217.2 299.8,221.1 301.8,223.7 304.0,225.4 305.8,226.1 307.0,226.2 307.5,226.0 308.5,224.4 309.5,226.5 311.0,227.2 313.8,227.4 316.0,226.1 318.0,226.5 320.2,227.8 323.0,227.7 324.0,227.4 324.8,226.3 325.8,221.1 326.5,225.8 327.2,227.3 328.8,227.9 332.8,228.2" fill="none" stroke="#9cc870" stroke-width="0.45" stroke-opacity="0.62" stroke-linejoin="round"/>
<polyline points="197.5,235.0 216.2,234.1 232.2,232.4 234.0,231.5 237.2,225.7 240.8,220.2 243.2,214.6 245.8,205.6 249.5,186.3 250.2,183.8 251.0,182.9 251.8,183.8 252.5,186.3 256.2,205.5 258.8,214.2 260.2,217.6 262.0,220.5 264.0,222.8 266.5,224.6 269.5,225.7 272.8,226.1 275.8,225.6 278.2,224.2 280.5,222.2 283.0,219.1 290.0,207.5 291.0,206.5 292.0,206.2 293.0,206.8 294.0,208.2 298.0,217.3 300.0,220.9 302.0,223.4 304.2,225.1 307.0,226.0 308.5,225.6 309.8,226.6 312.2,227.0 313.8,227.0 316.0,225.7 318.0,226.1 319.8,227.2 320.8,227.5 332.8,227.8" fill="none" stroke="#80bcd4" stroke-width="0.45" stroke-opacity="0.62" stroke-linejoin="round"/>
<polyline points="197.5,235.4 206.5,235.0 209.2,234.3 211.5,234.6 215.0,234.3 226.8,232.3 232.8,231.7 234.2,230.8 241.0,218.5 243.8,210.8 246.2,198.6 249.8,172.6 250.5,169.4 251.0,168.8 251.5,169.4 252.2,172.7 255.5,197.3 258.0,210.2 259.5,215.0 261.2,219.0 263.2,222.0 265.8,224.5 268.5,226.0 271.8,226.9 275.0,226.8 277.8,225.8 279.8,224.5 282.0,222.3 284.8,218.8 289.8,211.4 291.0,210.3 292.0,210.0 293.0,210.6 294.0,211.8 299.8,222.7 301.8,225.0 303.8,226.4 305.8,226.9 307.0,226.3 307.5,225.0 308.2,219.2 308.5,218.9 309.5,226.1 310.0,227.1 311.0,227.9 313.5,228.4 316.0,227.1 318.0,227.5 320.2,228.9 323.5,228.9 324.8,228.3 325.8,225.7 326.5,228.1 327.2,228.8 332.8,229.3" fill="none" stroke="#a488c4" stroke-width="0.45" stroke-opacity="0.62" stroke-linejoin="round"/>
<polyline points="197.5,234.6 206.5,234.1 207.5,233.7 209.2,232.3 211.2,233.7 212.8,233.8 231.8,232.3 233.0,231.9 234.0,231.0 237.2,223.2 241.0,215.4 243.5,207.5 246.0,194.5 249.8,166.2 250.5,163.1 251.0,162.5 251.5,163.1 252.2,166.3 256.0,195.0 258.5,207.9 260.0,212.8 261.8,216.9 263.8,220.2 266.2,222.8 269.5,224.7 272.8,225.4 275.8,225.0 278.5,223.3 280.8,221.0 283.2,217.4 286.0,212.3 290.0,203.3 291.0,201.8 292.0,201.3 293.0,202.1 294.0,204.1 297.8,215.6 299.5,219.9 301.5,223.2 303.8,225.3 306.8,226.5 307.5,226.5 308.5,225.8 309.5,227.0 311.2,227.6 313.8,227.7 316.0,226.5 318.0,226.9 320.0,228.2 321.8,228.4 324.5,228.0 325.8,225.6 326.5,227.6 327.2,228.3 332.8,228.7" fill="none" stroke="#6a86c4" stroke-width="0.45" stroke-opacity="0.62" stroke-linejoin="round"/>
<polyline points="197.5,233.9 206.5,233.5 209.2,232.6 212.2,233.2 230.5,232.1 232.5,231.8 233.8,231.1 234.8,229.7 237.2,224.5 240.8,218.7 243.2,212.7 245.8,203.4 249.5,183.6 250.2,181.1 251.0,180.2 251.8,181.1 252.5,183.7 256.2,203.6 258.8,212.7 260.5,216.8 262.2,219.7 264.2,222.0 266.8,223.9 269.8,225.1 272.8,225.6 275.8,225.2 278.2,224.1 280.5,222.3 283.0,219.5 290.0,208.9 291.0,208.0 292.0,207.8 293.0,208.3 294.0,209.7 298.0,218.2 300.0,221.6 302.0,224.0 304.0,225.3 305.8,225.9 307.0,225.6 307.5,224.6 308.2,220.4 308.5,220.2 309.5,225.5 310.8,226.9 313.5,227.4 316.0,226.1 318.0,226.5 320.2,227.9 323.0,227.9 324.0,227.5 324.8,226.5 325.8,221.5 326.5,226.0 327.2,227.5 328.8,228.1 332.8,228.3" fill="none" stroke="#989898" stroke-width="0.45" stroke-opacity="0.62" stroke-linejoin="round"/>
<polyline points="197.5,234.7 206.5,234.3 209.2,233.5 212.2,234.1 230.8,232.7 232.5,232.3 233.8,231.3 234.8,229.2 237.2,221.2 240.8,212.3 243.2,203.4 245.8,189.5 249.5,161.2 250.2,157.7 251.0,156.5 251.8,157.8 252.5,161.4 256.2,190.1 259.0,204.8 260.8,210.9 262.5,215.2 264.5,218.6 267.0,221.5 270.0,223.5 273.0,224.3 275.8,224.2 278.5,222.9 280.5,221.2 282.8,218.6 285.5,214.4 290.0,206.3 291.0,205.2 292.0,204.8 293.0,205.5 294.0,207.1 297.8,216.4 299.8,220.4 301.8,223.1 304.0,224.9 305.8,225.6 307.0,225.7 307.5,225.4 308.5,223.9 309.5,226.0 311.0,226.7 313.8,226.9 316.0,225.6 318.0,226.0 320.2,227.3 323.0,227.3 324.0,227.0 324.8,225.9 325.8,220.6 326.5,225.4 327.2,226.9 328.8,227.5 332.8,227.8" fill="none" stroke="#c08ca8" stroke-width="0.45" stroke-opacity="0.62" stroke-linejoin="round"/>
<polyline points="197.5,233.4 206.5,233.0 207.5,232.6 209.2,231.3 211.8,232.7 217.5,232.2 232.0,230.6 233.2,230.2 234.0,229.4 237.2,221.6 240.8,214.3 243.2,206.7 245.8,194.7 249.5,168.9 250.2,165.6 251.0,164.5 251.8,165.7 252.5,169.1 256.2,195.1 258.8,206.9 260.5,212.3 262.2,216.1 264.2,219.1 266.8,221.5 269.5,223.1 272.5,223.8 275.5,223.6 278.0,222.5 280.0,220.8 282.2,218.1 289.5,207.0 290.8,205.8 291.8,205.5 292.8,205.9 294.0,207.4 298.2,216.2 300.2,219.7 302.2,222.1 304.2,223.6 306.0,224.1 307.0,223.4 307.5,222.0 308.2,215.7 308.5,215.4 309.5,223.3 310.0,224.5 311.0,225.4 313.5,226.0 316.0,224.8 318.0,225.2 320.2,226.5 323.5,226.4 324.2,226.0 324.8,225.1 325.8,219.9 326.5,224.7 327.2,226.2 328.8,226.8 332.8,227.1" fill="none" stroke="#5a9090" stroke-width="0.45" stroke-opacity="0.62" stroke-linejoin="round"/>
<polyline points="197.5,233.8 206.5,233.3 209.2,231.8 211.0,232.9 212.2,233.1 231.0,231.5 232.8,231.1 233.8,230.3 234.8,228.3 237.0,221.6 240.8,212.8 243.2,204.4 245.8,191.1 249.5,162.5 250.2,158.9 251.0,157.7 251.8,159.0 252.5,162.8 256.2,191.7 258.8,204.9 260.5,210.9 262.2,215.2 264.2,218.5 266.8,221.3 269.5,223.2 272.8,224.2 275.5,224.1 278.2,223.0 280.2,221.5 282.5,219.1 285.2,215.3 290.0,207.5 291.0,206.4 292.0,206.1 293.0,206.8 294.0,208.2 297.8,216.9 299.8,220.6 301.8,223.1 303.8,224.6 305.8,225.3 307.0,224.7 307.5,223.4 308.2,217.9 308.5,217.7 309.5,224.5 310.0,225.6 311.0,226.3 313.5,226.8 316.0,225.6 318.0,226.0 320.2,227.3 323.5,227.3 324.8,226.5 325.8,223.3 326.5,226.3 327.2,227.2 328.8,227.6 332.8,227.8" fill="none" stroke="#a0a050" stroke-width="0.45" stroke-opacity="0.62" stroke-linejoin="round"/>
<polyline points="197.5,232.9 206.2,232.4 209.2,231.2 211.2,231.4 213.2,230.8 217.8,228.2 224.5,221.9 227.0,220.0 228.8,219.3 230.2,219.0 231.5,219.4 233.5,220.7 234.5,220.7 239.8,215.3 242.2,210.4 244.5,202.4 246.5,191.1 249.5,169.1 250.2,165.5 251.0,164.2 251.5,164.9 252.2,167.8 256.0,194.8 258.5,207.0 260.0,211.8 261.8,215.7 263.8,218.8 266.2,221.3 269.5,223.0 273.0,223.5 276.0,222.6 278.5,220.4 280.5,217.7 282.8,213.6 285.5,207.1 290.0,194.7 291.0,192.9 292.0,192.3 293.0,193.3 294.0,195.7 297.8,210.0 299.8,216.1 301.8,220.2 304.0,222.8 306.5,224.4 307.5,224.6 308.5,224.4 309.8,225.4 312.2,226.0 313.8,226.0 316.0,224.8 318.0,225.3 320.2,226.7 323.5,226.9 324.8,226.6 325.8,225.4 326.5,226.6 327.2,227.0 332.8,227.3" fill="none" stroke="#6cc0b4" stroke-width="0.45" stroke-opacity="0.62" stroke-linejoin="round"/>
<polyline points="197.5,233.7 206.5,233.4 209.2,232.6 211.2,233.1 213.8,233.1 230.8,231.6 232.5,231.2 233.8,229.9 234.8,227.2 237.2,217.1 240.8,206.1 243.0,196.4 245.5,180.2 249.2,146.9 250.2,141.3 251.0,140.0 251.8,141.5 252.5,145.5 256.5,180.9 259.2,198.1 261.0,205.3 262.8,210.4 265.0,215.0 267.5,218.3 270.2,220.4 273.0,221.4 275.5,221.4 278.0,220.3 280.2,218.3 282.5,215.3 289.8,203.0 290.8,201.9 291.8,201.5 292.8,202.0 294.0,203.7 298.2,213.7 300.2,217.6 302.2,220.3 304.5,222.2 306.0,222.7 307.0,222.4 307.5,221.5 308.2,217.1 308.5,216.9 309.5,222.6 310.2,223.7 311.2,224.2 313.8,224.6 316.0,223.4 318.0,223.8 320.2,225.2 323.8,225.0 324.8,223.9 325.8,219.2 326.5,223.5 327.2,224.9 328.8,225.4 332.8,225.7" fill="none" stroke="#70acd8" stroke-width="0.45" stroke-opacity="0.62" stroke-linejoin="round"/>
<polyline points="197.5,233.0 216.5,231.8 226.5,230.1 232.2,229.5 233.2,229.1 234.0,228.1 237.0,218.7 241.0,207.8 243.5,197.4 246.0,180.6 249.5,147.1 250.2,142.5 251.0,140.9 251.8,142.7 252.5,147.5 256.0,181.5 258.8,199.5 260.5,206.7 262.2,211.7 264.2,215.7 266.8,219.0 269.8,221.3 272.8,222.3 275.5,222.2 278.2,220.7 280.2,218.8 282.5,215.7 285.2,210.8 289.8,201.3 291.0,199.6 292.0,199.2 293.0,200.0 294.0,201.9 297.8,212.7 299.8,217.5 301.8,220.7 303.8,222.6 305.8,223.4 306.5,223.2 307.0,222.7 307.5,221.1 308.2,214.3 308.5,214.0 309.5,222.5 310.0,223.8 311.0,224.8 313.5,225.4 316.0,224.2 318.0,224.6 320.2,226.0 323.5,226.1 324.8,225.4 325.8,222.4 326.5,225.1 327.2,226.0 328.8,226.4 332.8,226.6" fill="none" stroke="#a090d0" stroke-width="0.45" stroke-opacity="0.62" stroke-linejoin="round"/>
<polyline points="197.5,232.6 206.8,232.2 214.0,231.3 218.2,230.2 227.0,227.1 232.8,226.5 234.0,225.3 237.0,214.9 240.8,203.6 243.0,193.7 245.5,176.7 249.5,138.8 250.2,134.5 251.0,133.0 251.8,134.7 252.5,139.2 256.5,177.7 259.2,195.9 261.0,203.5 262.8,208.8 264.8,213.2 267.2,216.8 270.0,219.1 273.0,220.2 275.8,219.9 278.2,218.1 280.5,215.1 282.8,210.9 290.0,193.1 291.0,191.7 292.0,191.3 293.0,192.3 294.2,195.2 298.0,208.5 300.0,214.3 302.0,218.3 304.5,221.3 307.0,222.7 308.5,221.9 309.5,223.5 311.8,224.3 313.8,224.5 316.0,223.4 318.0,223.9 320.2,225.3 322.8,225.4 324.0,225.1 324.8,224.3 325.8,220.1 326.5,224.0 327.2,225.2 328.8,225.7 332.8,226.0" fill="none" stroke="#c890b0" stroke-width="0.45" stroke-opacity="0.62" stroke-linejoin="round"/>
<polyline points="197.5,232.6 206.5,232.2 209.2,231.1 211.2,231.5 213.0,231.1 217.8,229.1 224.8,224.4 227.2,223.1 230.2,222.4 233.2,223.1 234.5,222.2 237.0,216.6 240.5,210.0 243.0,202.1 245.5,189.0 249.5,159.0 250.2,155.6 251.0,154.4 251.8,155.7 252.5,159.2 256.2,187.7 259.0,202.4 260.8,208.4 262.5,212.6 264.5,216.0 266.8,218.5 269.8,220.4 272.8,221.1 275.5,220.5 278.0,218.7 280.2,215.8 282.5,211.7 289.8,194.7 290.8,193.2 291.8,192.6 292.8,193.2 294.0,195.5 298.2,209.0 300.2,214.2 302.2,217.8 304.2,220.0 306.0,220.8 307.0,220.2 307.5,218.5 308.2,211.2 308.5,210.9 309.5,220.1 310.2,222.0 311.2,222.8 313.5,223.4 316.0,222.3 318.0,222.8 319.8,224.0 320.8,224.3 332.8,224.8" fill="none" stroke="#909090" stroke-width="0.45" stroke-opacity="0.62" stroke-linejoin="round"/>
<polyline points="197.5,232.6 206.5,232.3 207.5,231.9 209.2,230.5 211.0,231.8 212.2,232.0 230.5,230.6 232.5,230.1 233.8,228.6 234.8,225.5 237.2,213.8 240.8,200.9 243.2,187.8 245.8,167.4 249.5,125.4 250.2,120.2 251.0,118.5 251.8,120.4 252.5,125.8 256.2,168.6 259.0,190.5 260.8,199.4 262.5,205.8 264.8,211.5 267.2,215.5 269.8,218.1 272.8,219.7 275.5,220.0 278.2,219.0 280.2,217.4 282.5,214.8 285.2,210.5 289.8,202.3 291.0,200.9 292.0,200.6 293.0,201.3 294.0,202.9 298.0,212.9 299.8,216.5 301.8,219.3 303.8,221.0 305.8,221.5 306.5,221.2 307.0,220.3 307.5,218.2 308.2,208.8 308.5,208.4 309.5,219.8 310.0,221.5 311.0,222.7 313.5,223.4 316.0,222.2 318.0,222.7 320.2,224.0 323.5,224.0 324.2,223.7 324.8,223.0 325.8,219.1 326.5,222.7 327.2,223.8 328.8,224.3 332.8,224.5" fill="none" stroke="#a8a8a8" stroke-width="0.45" stroke-opacity="0.62" stroke-linejoin="round"/>
<polyline points="197.5,233.4 206.8,233.0 211.5,232.1 213.8,231.3 217.8,228.8 225.0,222.0 227.8,220.1 230.5,219.5 233.5,221.1 234.5,221.0 239.8,214.3 241.2,211.3 242.5,207.7 244.8,197.7 246.8,183.1 249.8,153.4 250.5,149.2 251.0,148.3 251.5,149.2 252.2,153.6 255.5,185.7 258.0,202.0 259.5,208.0 261.2,212.9 263.2,216.6 265.5,219.3 268.5,221.4 272.0,222.2 275.0,221.6 277.8,219.5 279.8,216.9 281.8,213.4 284.5,207.2 289.5,194.1 290.8,191.9 291.8,191.2 292.8,191.7 294.0,194.2 298.2,208.5 300.2,213.9 302.2,217.6 304.5,220.1 306.8,221.4 308.5,221.7 309.5,222.3 311.0,222.7 313.8,222.9 316.0,221.7 318.0,222.1 320.0,223.4 322.2,223.6 323.8,223.4 324.5,223.0 325.8,219.4 326.5,222.4 327.2,223.4 328.8,223.7 332.8,223.9" fill="none" stroke="#bfe3e8" stroke-width="0.45" stroke-opacity="0.62" stroke-linejoin="round"/>
<polyline points="197.5,233.0 206.5,232.7 207.5,232.3 209.2,230.8 211.5,232.1 214.2,231.6 218.2,230.1 227.0,225.9 229.8,225.3 232.8,225.2 233.5,224.7 234.2,223.2 237.0,210.8 240.8,196.4 243.5,179.5 246.0,153.7 249.5,101.5 250.2,94.3 251.0,91.8 251.8,94.6 252.5,102.1 256.0,155.1 258.5,181.0 260.2,192.6 262.0,200.7 264.0,207.1 266.5,212.4 269.2,215.8 270.8,216.9 272.5,217.7 274.0,217.8 275.2,217.5 276.8,216.6 278.0,215.4 280.2,212.0 282.8,206.6 290.0,185.5 291.0,183.8 292.0,183.4 293.0,184.5 294.2,187.8 298.0,203.2 300.0,209.9 302.0,214.6 304.2,217.7 305.8,218.8 307.0,219.0 307.5,218.4 308.2,215.1 308.5,215.0 309.5,219.6 310.2,220.6 311.5,221.2 313.8,221.6 316.0,220.4 318.0,221.0 319.8,222.2 320.8,222.5 324.2,222.6 325.8,221.9 327.2,222.7 332.8,223.0" fill="none" stroke="#d8c6ea" stroke-width="0.45" stroke-opacity="0.62" stroke-linejoin="round"/>
<polyline points="197.5,231.4 206.5,230.9 209.2,229.9 211.2,230.3 213.8,229.9 218.0,228.4 226.5,224.0 229.5,223.2 232.8,223.2 234.0,221.9 235.0,218.7 237.0,209.7 240.5,197.5 243.0,184.6 245.5,164.4 249.2,122.8 250.2,115.8 251.0,114.1 251.8,116.0 252.5,121.1 256.5,165.7 259.2,187.5 261.0,196.6 262.8,203.1 265.0,209.0 267.5,213.2 270.5,216.1 272.0,216.9 273.5,217.2 275.0,217.1 276.2,216.5 279.0,213.7 281.2,209.8 283.8,203.8 286.2,196.1 290.2,181.3 291.2,179.1 292.0,178.6 293.0,180.0 294.0,183.3 297.5,201.4 299.5,209.6 301.2,214.4 303.5,217.9 305.8,219.3 306.5,219.2 307.0,218.6 307.5,216.8 308.2,208.7 308.5,208.4 309.5,218.6 310.2,220.5 311.2,221.5 313.5,222.2 316.0,221.1 318.0,221.7 320.2,223.1 323.2,223.3 324.8,222.9 325.8,221.3 326.5,222.9 327.2,223.4 332.8,223.9" fill="none" stroke="#a9d8f0" stroke-width="0.45" stroke-opacity="0.62" stroke-linejoin="round"/>
<polyline points="197.5,230.4 206.5,230.0 209.2,228.6 211.2,229.2 213.8,228.7 218.0,226.9 224.8,222.7 227.2,221.4 230.0,220.7 233.2,220.9 234.5,218.9 237.0,208.8 241.0,194.8 243.8,178.0 246.2,151.1 249.8,95.1 250.5,88.3 251.0,87.0 251.5,88.5 252.2,95.6 255.8,152.7 258.2,179.9 259.8,190.2 261.5,198.7 263.5,205.3 266.0,210.7 268.8,214.2 270.2,215.3 272.0,216.1 273.5,216.3 275.0,215.9 277.5,214.0 279.8,210.6 282.0,205.5 289.5,183.5 290.8,181.3 291.8,180.7 293.0,181.9 294.2,185.1 298.5,201.9 300.5,208.4 302.5,212.9 304.8,216.1 306.2,217.1 306.8,217.1 307.2,216.6 308.2,211.0 308.5,210.9 309.5,217.5 310.2,218.9 311.5,219.8 313.8,220.3 316.0,219.3 318.0,219.9 320.2,221.4 323.5,221.4 324.2,221.1 324.8,220.4 325.8,216.2 326.5,220.1 327.2,221.4 328.8,221.9 332.8,222.2" fill="none" stroke="#cdbfe6" stroke-width="0.45" stroke-opacity="0.62" stroke-linejoin="round"/>
<polyline points="197.5,230.0 206.5,229.6 209.2,227.9 211.2,228.9 213.5,228.6 218.0,226.9 226.8,222.1 230.0,221.3 233.0,221.5 234.2,220.1 237.0,210.4 240.8,198.9 243.2,186.7 245.8,166.6 249.5,122.7 250.2,117.1 251.0,115.2 251.8,117.3 252.5,123.2 256.2,167.7 258.8,187.8 260.5,196.9 262.2,203.3 264.2,208.4 266.8,212.6 269.8,215.5 271.5,216.3 273.0,216.7 275.8,216.2 278.5,214.0 280.8,210.6 283.0,206.0 285.5,199.5 290.0,185.7 291.0,183.7 292.0,183.1 293.0,184.2 294.0,186.9 297.8,202.7 299.8,209.4 301.8,213.9 304.0,216.8 306.8,218.6 308.5,218.7 309.8,219.6 312.2,220.1 313.8,220.2 316.0,219.0 318.0,219.5 320.2,220.9 323.8,221.0 324.8,220.6 325.8,218.7 326.5,220.5 327.2,221.0 332.8,221.5" fill="none" stroke="#b9ecf4" stroke-width="0.45" stroke-opacity="0.62" stroke-linejoin="round"/>
<polyline points="197.5,233.0 230.8,230.9 232.8,230.0 234.0,227.4 237.0,209.2 241.2,186.4 244.0,162.6 246.5,124.3 249.8,48.7 250.5,38.5 251.0,36.5 251.5,38.9 252.2,49.8 255.5,127.7 258.0,167.1 259.5,181.8 261.5,195.4 263.8,205.5 266.2,212.9 268.2,216.9 270.8,220.5 273.5,223.0 276.8,224.8 279.2,225.5 282.5,225.8 291.8,225.2 293.8,225.9 298.5,228.9 301.2,229.7 303.8,229.4 305.2,227.7 306.0,225.5 306.5,222.5 307.2,210.8 308.5,138.8 309.5,209.4 310.0,219.5 311.0,226.4 311.8,228.2 312.5,229.1 315.0,230.3 320.0,230.8 323.8,230.9 324.8,230.4 325.8,228.2 326.5,230.2 327.2,230.9 332.8,231.3" fill="none" stroke="#45b2e8" stroke-width="0.9" stroke-linejoin="round"/>
<polyline points="19.0,232.3 19.8,231.6 20.0,232.2 20.5,232.2 21.0,233.3 21.5,232.2 22.5,232.2 23.0,235.2 23.5,232.3 24.0,232.4 24.2,231.9 25.2,232.7 25.8,232.1 27.0,232.7 27.2,232.3 28.2,232.2 29.0,234.6 29.8,232.3 31.0,232.2 31.5,232.7 31.8,232.0 32.0,232.4 32.5,232.4 32.8,233.0 33.2,232.4 33.5,232.7 34.0,235.3 34.8,232.3 35.2,232.7 35.8,232.3 37.0,232.7 37.5,232.4 38.0,234.8 38.5,232.8 39.0,234.9 39.5,232.4 40.0,232.2 40.2,232.6 41.0,232.7 42.2,232.5 43.0,233.5 43.5,232.6 44.8,232.1 46.8,230.1 49.8,229.8 58.5,229.5 100.5,229.5 119.8,229.8 124.8,229.4 128.0,230.0 132.0,230.0 137.5,230.8 163.8,232.5 165.8,232.2 169.0,230.9 172.2,232.7 173.8,233.2 191.2,234.6" fill="none" stroke="#5a88cc" stroke-width="0.8" stroke-linejoin="round"/>
<polyline points="19.0,225.4 19.8,225.7 20.5,225.5 21.0,225.9 21.2,225.4 21.5,225.9 21.8,225.6 22.0,226.4 22.2,225.7 22.5,226.0 22.8,225.8 23.2,226.5 23.5,226.0 24.0,226.7 24.2,226.1 24.8,226.8 25.0,228.0 25.8,226.2 26.0,226.4 26.5,225.7 27.8,226.9 28.0,225.9 28.5,226.3 29.0,229.2 29.5,226.4 30.2,227.2 30.5,226.3 30.8,226.6 31.0,225.8 32.0,228.0 33.0,226.3 33.5,226.8 33.8,226.1 34.2,226.8 34.8,226.0 35.0,226.5 35.2,226.4 35.8,228.0 36.0,228.0 36.5,226.7 37.0,226.6 37.2,226.0 37.8,226.7 38.0,228.2 38.5,225.5 39.0,225.6 40.0,224.6 41.0,226.0 41.5,223.6 41.8,223.8 42.0,223.2 42.5,223.2 43.8,221.2 44.2,221.2 44.8,220.5 45.0,221.2 45.2,220.2 45.5,220.1 45.8,220.3 46.0,219.7 46.8,219.7 47.2,218.7 47.8,218.6 48.0,219.1 48.8,218.2 49.2,218.3 49.8,217.8 50.0,218.0 50.2,217.5 51.0,217.2 51.2,217.4 51.5,216.8 51.8,217.1 52.0,216.5 52.8,216.7 53.2,216.0 53.5,216.7 54.0,216.0 54.2,216.5 54.5,216.0 55.5,215.5 56.0,215.9 56.2,215.6 57.0,215.9 58.5,214.9 58.8,215.6 59.0,214.9 59.5,215.4 60.0,214.8 60.5,215.2 60.8,214.5 61.5,214.8 62.0,214.4 62.5,214.7 62.8,214.2 63.8,214.5 64.0,213.9 64.2,214.3 65.5,214.2 65.8,214.7 66.5,214.1 66.8,214.5 67.2,213.5 67.5,213.9 68.0,213.3 69.2,213.9 69.8,213.4 70.2,214.1 70.5,213.6 71.8,213.7 72.2,213.1 73.0,213.4 73.5,213.2 74.0,213.5 75.0,213.2 75.2,213.5 75.8,212.8 76.0,213.8 76.2,213.4 78.0,213.1 78.8,213.8 79.0,213.1 79.5,213.3 79.8,212.9 80.0,213.2 80.2,212.9 81.2,213.8 82.0,213.8 82.2,213.2 82.5,213.8 82.8,213.5 83.5,214.3 84.2,213.8 84.5,214.4 85.5,214.1 86.0,214.8 86.5,214.5 87.0,215.1 87.5,214.9 88.2,215.3 88.5,214.9 89.2,215.9 89.5,214.9 90.5,215.7 90.8,215.5 91.2,215.7 91.5,215.5 91.8,215.8 92.0,215.5 93.0,215.7 93.8,216.5 94.0,215.6 94.2,216.1 95.0,216.3 95.2,216.9 95.8,216.0 96.0,216.6 96.2,216.3 96.8,216.5 97.0,217.1 97.2,216.4 97.5,217.1 98.5,216.6 99.0,217.0 99.5,216.8 100.2,217.2 100.5,216.9 101.0,217.7 101.2,217.4 101.5,217.9 102.2,217.5 103.0,217.9 103.2,217.8 103.8,218.7 104.0,217.8 104.2,218.5 106.0,218.8 107.0,219.4 107.5,219.3 107.8,220.2 108.0,219.9 110.0,220.7 110.2,220.2 110.8,220.9 111.2,220.9 111.5,221.4 112.2,221.2 112.8,222.4 113.0,221.7 113.5,221.4 113.8,222.2 114.2,221.8 114.5,222.5 115.0,222.1 116.2,222.9 117.0,222.5 117.5,223.2 117.8,222.3 118.2,223.2 118.5,222.8 119.0,223.4 119.8,223.4 120.0,223.7 121.0,223.1 121.2,223.5 122.0,223.3 122.5,223.8 122.8,223.5 123.0,223.7 123.5,223.2 123.8,223.8 124.2,222.8 125.0,223.5 125.5,223.4 125.8,224.0 126.5,224.0 126.8,224.7 127.2,224.3 127.5,224.9 128.0,224.7 128.2,225.2 128.5,224.8 129.0,225.4 129.5,224.8 130.0,225.2 130.2,225.0 130.8,225.3 131.2,224.8 131.8,225.6 132.0,225.2 132.8,225.6 133.0,225.3 133.2,225.9 133.8,225.8 134.0,226.3 134.5,226.1 135.0,226.9 135.5,226.8 135.8,227.2 136.0,226.7 136.2,227.2 136.8,226.6 137.0,227.4 137.5,226.9 138.5,227.6 138.8,227.1 139.0,228.1 139.2,227.5 140.2,227.3 141.0,228.0 141.2,227.5 141.5,228.0 141.8,227.8 142.0,228.5 142.2,228.1 143.5,227.9 143.8,228.5 144.2,228.4 144.5,227.9 145.0,228.4 145.5,227.9 145.8,228.3 146.0,228.0 146.5,228.5 146.8,227.6 147.0,228.7 147.2,228.2 148.8,228.6 149.0,228.3 150.0,229.0 150.5,228.6 150.8,229.3 151.5,228.8 151.8,229.2 152.2,228.9 152.8,229.2 153.5,228.5 153.8,229.2 154.8,229.4 155.5,229.1 155.8,228.7 156.2,229.8 156.5,229.0 157.0,229.8 157.8,228.7 158.5,229.6 159.0,229.4 159.2,229.7 159.5,229.2 160.2,230.3 160.8,229.4 162.2,230.3 162.8,229.6 163.8,230.2 164.5,229.9 164.8,230.1 165.2,229.5 166.0,229.3 166.2,228.7 166.5,229.1 166.8,228.8 167.2,228.7 167.8,227.7 168.0,227.9 168.5,227.3 168.8,227.7 169.2,227.2 170.0,228.6 170.5,228.5 171.8,229.7 172.0,230.5 172.2,230.1 172.5,230.9 172.8,230.4 173.5,231.3 174.2,231.0 175.0,231.4 175.8,231.2 176.0,230.8 176.2,231.4 176.5,231.1 176.8,231.4 177.5,231.5 177.8,231.2 178.2,231.9 179.2,231.8 179.5,232.2 179.8,231.7 180.0,232.0 180.8,231.6 181.2,232.4 181.8,231.9 182.8,231.8 183.0,232.2 183.2,232.0 183.8,232.1 184.0,231.8 184.2,232.5 184.5,232.6 184.8,232.1 185.0,232.9 185.2,232.3 186.0,232.5 186.2,232.2 186.5,232.5 186.8,232.1 187.0,232.6 187.5,232.1 187.8,232.5 188.0,232.2 188.5,233.0 188.8,232.3 190.0,232.7 190.2,232.4 190.8,233.3 191.0,232.5 191.2,232.8" fill="none" stroke="#6fcb2c" stroke-width="1.4" stroke-linejoin="round"/>
<polyline points="197.5,232.9 206.5,232.6 207.5,231.9 208.8,229.8 209.2,229.5 211.0,231.9 211.8,232.3 218.5,231.8 221.5,231.1 227.2,228.8 232.2,228.8 233.0,228.3 233.8,227.1 234.8,223.5 237.2,209.7 240.8,194.5 243.0,181.3 245.5,159.7 249.2,117.3 250.2,110.4 251.0,108.8 251.8,110.7 252.8,118.0 256.8,163.9 259.5,186.1 261.2,195.5 263.0,202.3 265.2,208.5 267.8,212.9 270.5,215.8 272.0,216.6 273.5,216.9 274.8,216.6 276.0,215.9 278.5,212.5 280.2,208.6 282.2,202.7 285.0,192.6 289.5,173.4 290.8,169.7 291.8,168.5 292.2,168.7 292.8,169.4 293.8,172.5 297.2,190.9 298.8,196.7 300.0,199.5 302.5,203.1 305.0,208.8 305.8,209.6 306.2,209.1 307.0,204.4 307.5,193.4 308.2,145.0 308.5,142.8 309.5,201.6 310.0,210.1 311.0,216.2 312.0,218.4 313.2,219.5 314.0,219.6 315.5,218.3 316.0,218.2 318.0,219.2 320.2,221.6 322.0,221.8 323.5,221.4 324.2,220.2 324.8,217.9 325.8,203.9 326.5,216.8 327.2,220.8 327.8,221.7 328.8,222.5 332.8,223.5" fill="none" stroke="#6cc838" stroke-width="1.2" stroke-linejoin="round"/>
<polyline points="19.0,223.8 20.8,224.3 21.2,224.2 21.5,223.6 22.5,224.2 23.0,225.2 23.8,223.9 24.5,224.3 26.0,223.9 26.2,224.3 26.5,224.2 27.0,225.3 27.5,224.3 28.5,224.2 28.8,224.6 29.2,223.9 29.8,224.6 30.5,224.7 31.0,225.5 31.5,224.8 32.2,225.2 32.5,224.8 32.8,225.3 33.5,225.3 34.0,226.0 35.0,225.2 35.5,225.6 36.8,225.7 37.0,226.5 37.2,225.7 39.0,224.7 39.2,225.0 40.2,224.7 40.8,224.1 41.0,224.4 41.5,223.9 42.0,224.0 47.5,220.0 55.5,210.5 65.2,200.7 68.8,198.2 72.2,196.3 74.8,195.3 78.2,194.6 81.0,194.6 84.8,195.3 91.0,197.8 100.2,203.4 114.8,213.8 116.2,214.5 117.8,214.5 119.0,213.9 120.0,212.9 121.5,209.8 122.5,205.8 124.2,195.3 124.8,194.3 125.2,195.5 127.0,205.0 128.0,207.8 128.8,208.3 129.5,207.7 131.5,201.7 132.0,201.2 132.5,202.2 134.2,210.0 135.2,212.9 137.0,215.6 139.5,217.4 143.5,219.0 149.8,220.9 169.5,225.7 180.5,227.8 191.2,229.1" fill="none" stroke="#151515" stroke-width="1.3" stroke-linejoin="round"/>
<polyline points="197.5,234.8 208.8,234.7 210.8,234.4 212.5,233.5 214.2,232.1 215.5,230.5 222.0,219.4 224.5,215.9 227.2,213.0 230.8,211.2 233.0,210.8 235.8,211.9 236.8,212.7 238.8,215.3 241.0,217.3 242.5,218.1 243.5,218.0 244.5,217.0 246.2,214.0 249.2,207.2 250.0,206.0 250.8,205.6 251.8,206.1 253.2,207.8 256.5,213.3 259.2,216.9 262.5,219.5 265.2,221.0 272.8,221.8 281.0,222.2 285.0,220.3 288.0,217.3 290.0,216.0 291.2,215.8 294.5,217.1 301.2,224.1 303.2,225.6 305.5,226.7 306.5,226.8 307.2,226.5 308.5,224.1 309.5,226.8 311.5,227.8 323.8,228.0 324.8,227.8 325.8,227.1 327.2,228.0 332.8,228.3" fill="none" stroke="#151515" stroke-width="1.25" stroke-linejoin="round"/>
</g>
<!-- boxes a -->
<g fill="none" stroke-width="1">
<path d="M234.4,245.5 V33.4 H271.5 V245.5" stroke="#f0474a"/>
<path d="M118.5,242.5 V171.7 H138.6 V242.5" stroke="#4cae44"/>
<path d="M276.4,248 V158 H306.7 V248" stroke="#a6a43a"/>
</g>
<line x1="290.1" y1="134.2" x2="290.1" y2="151" stroke="#b89a58" stroke-width="0.8"/>
<path d="M288.5,150 L291.7,150 L290.1,156.3 Z" fill="#a8842e"/>
<!-- axes a -->
<g stroke="#1a1a1a" stroke-width="1.1" fill="none">
<path d="M19,6.4 V259.3"/>
<path d="M332.5,6.4 V259.3"/>
<path d="M18.5,6.4 H191.4 M197.7,6.4 H333"/>
<path d="M18.5,259.3 H191.3 M197.5,259.3 H333"/>
<path d="M189.4,11 L194.4,1.2 M195,11 L200.1,1.2" stroke-width="0.9"/>
<path d="M189.2,264.6 L194.6,254.9 M194.8,264.6 L200.3,254.9" stroke-width="0.9"/>
<path d="M62.2,259.3 v4.6 M116.2,259.3 v4.6 M170.5,259.3 v4.6 M240.6,259.3 v4.6 M294.7,259.3 v4.6 M35.6,259.3 v2.4 M89,259.3 v2.4 M143.4,259.3 v2.4 M213.3,259.3 v2.4 M267.4,259.3 v2.4 M321.5,259.3 v2.4" stroke-width="1"/>
</g>
<g font-size="11" fill="#1a1a1a" text-anchor="middle">
<text x="62.2" y="275.5">3500</text><text x="116.2" y="275.5">3000</text><text x="170.5" y="275.5">2500</text>
<text x="240.6" y="275.5">1500</text><text x="294.7" y="275.5">1000</text>
</g>
<text x="106.4" y="295.6" font-size="14.6" fill="#1a1a1a">Wavenumber [cm<tspan font-size="8.5" dy="-5.5">-1</tspan><tspan dy="5.5">]</tspan></text>
<text transform="translate(11.5,148.4) rotate(-90)" font-size="14.5" fill="#1a1a1a" text-anchor="middle">Absorbance [a.u.]</text>
<text x="322.6" y="290.9" font-size="16" fill="#1a1a1a">a)</text>
<text x="80.4" y="186.1" font-size="11.6" fill="#111" text-anchor="middle">-OH</text>
<text x="130.5" y="166.9" font-size="11" font-style="italic" fill="#4cae44" text-anchor="middle">3000 - 2000</text>
<text x="256" y="27.7" font-size="11" font-style="italic" fill="#f0474a" text-anchor="middle">1500 - 1200</text>
<text x="297" y="129.9" font-size="11" font-style="italic" fill="#9a7628" text-anchor="middle">1100 - 900</text>

<!-- ===== chart b ===== -->
<g clip-path="url(#cb)">
<polyline points="371.6,67.3 371.9,68.4 372.4,68.2 373.1,70.4 373.6,69.6 374.4,71.0 375.1,68.4 375.6,69.1 375.9,68.7 376.4,70.0 377.4,69.3 377.9,70.1 379.6,70.6 379.9,72.0 380.9,70.6 381.4,70.5 381.6,71.0 382.1,71.0 382.9,69.1 383.6,72.8 383.9,71.9 384.1,72.6 384.9,71.3 385.4,71.8 386.4,71.8 387.1,70.6 387.6,72.0 389.1,71.7 389.9,70.2 390.6,72.4 391.1,71.7 391.4,71.9 391.6,71.6 393.1,71.4 393.6,71.7 393.9,72.9 394.1,72.9 394.4,71.8 395.1,70.8 395.6,70.7 396.1,71.1 397.6,69.1 398.4,69.5 399.1,66.4 399.4,67.3 400.6,65.9 401.1,66.3 401.6,64.7 401.9,64.5 402.4,65.0 403.1,62.6 408.1,57.7 411.6,55.0 416.6,52.1 421.6,49.9 424.9,48.8 429.9,48.0 436.9,48.4 443.1,50.2 447.1,51.9 455.4,56.1 462.1,60.4 467.1,62.7 469.1,62.8 470.9,61.9 472.1,59.5 474.9,47.6 475.4,46.5 475.9,47.2 477.9,56.0 478.9,58.5 479.6,58.9 480.4,58.2 482.4,52.7 483.1,51.9 486.4,60.9 487.6,62.6 489.1,63.5 496.9,66.4 505.1,68.3 524.6,71.4 540.9,72.8" fill="none" stroke="#151515" stroke-width="1.0" stroke-linejoin="round"/>
<polyline points="546.6,77.7 554.6,79.1 557.4,79.2 558.6,78.9 561.6,76.9 567.9,66.7 569.4,65.1 571.9,63.3 576.9,61.3 582.9,60.2 585.6,60.9 589.9,63.2 592.4,64.0 593.1,63.3 594.6,60.2 596.4,57.4 597.1,56.5 597.9,56.2 599.4,56.6 601.4,57.7 604.9,61.4 608.6,64.2 611.9,65.6 615.4,66.7 621.4,67.5 625.6,67.4 630.4,66.4 634.9,64.2 637.6,63.4 639.4,63.2 640.9,63.6 643.4,65.0 649.4,70.5 650.6,71.3 652.4,71.9 653.6,72.0 654.6,71.7 655.1,71.1 655.9,69.0 656.9,71.5 657.6,72.1 658.6,72.4 670.9,72.6 672.1,72.2 673.1,71.0 673.9,72.1 674.6,72.5 680.9,72.8" fill="none" stroke="#151515" stroke-width="1.0" stroke-linejoin="round"/>
<polyline points="371.6,152.3 372.4,154.2 372.6,153.1 372.9,154.0 373.1,154.0 373.4,153.4 373.6,154.3 373.9,154.3 374.1,153.1 374.4,153.7 374.9,152.7 375.1,153.1 376.1,152.4 377.6,152.5 377.9,153.0 378.1,152.7 378.4,153.0 378.9,152.6 379.4,149.9 379.9,152.9 380.4,153.4 381.6,153.1 382.1,154.6 382.6,153.6 383.1,153.7 383.6,154.9 384.1,153.8 384.4,154.2 384.9,154.1 385.6,157.2 386.4,155.0 386.9,156.1 387.4,156.3 387.6,157.7 387.9,157.6 388.4,152.7 388.9,154.0 389.1,152.8 389.6,154.9 390.4,154.4 391.1,155.4 392.1,153.7 392.6,151.8 393.1,153.4 394.1,154.1 394.6,150.1 394.9,150.0 395.1,151.7 395.6,151.7 395.9,152.1 397.6,149.6 397.9,150.0 398.4,149.9 398.6,149.5 399.9,149.0 400.4,149.9 400.6,149.3 401.1,149.4 401.6,147.7 402.1,147.1 402.4,147.3 402.6,147.1 403.1,149.4 403.6,146.2 404.6,145.4 405.1,146.3 405.9,144.6 414.4,139.2 421.4,136.4 426.6,135.4 430.4,135.1 438.4,135.6 443.1,136.6 450.1,138.7 464.9,144.4 469.4,145.3 471.1,145.3 472.4,144.7 475.4,140.0 475.9,140.5 477.9,144.6 479.1,145.9 479.9,146.1 480.6,145.9 482.6,143.8 483.1,143.8 485.1,147.0 486.4,148.3 488.1,149.1 491.9,149.9 501.1,150.9 513.6,151.3 515.6,151.1 518.4,149.6 519.1,149.9 521.4,151.6 523.1,152.2 540.9,152.4" fill="none" stroke="#151515" stroke-width="1.0" stroke-linejoin="round"/>
<polyline points="546.6,153.8 555.6,153.7 556.4,153.3 557.6,151.9 559.1,152.5 559.9,152.5 562.9,150.2 568.1,150.7 574.9,145.1 582.6,144.4 583.6,144.0 586.1,140.9 587.6,138.4 590.9,131.6 596.9,117.1 598.9,114.0 599.9,113.3 601.6,114.2 603.4,116.2 609.4,130.4 611.1,133.7 613.1,136.5 614.6,138.1 616.6,139.7 623.9,143.4 626.9,144.0 630.9,142.9 634.1,139.9 636.6,136.4 638.1,134.9 639.1,134.0 640.1,133.8 641.4,134.3 643.4,135.8 645.9,139.7 649.4,143.9 651.9,145.4 653.4,145.4 654.4,144.4 654.9,142.7 655.9,131.9 656.9,142.2 657.4,144.2 658.4,145.6 659.6,146.0 662.1,146.3 670.9,146.1 672.1,145.0 673.1,142.0 673.9,144.9 674.6,145.9 676.1,146.4 680.9,146.9" fill="none" stroke="#151515" stroke-width="1.0" stroke-linejoin="round"/>
<polyline points="371.6,247.7 372.1,244.3 372.9,243.4 373.9,243.5 374.4,246.8 375.1,240.1 375.9,245.9 376.4,244.1 376.9,244.7 377.1,246.4 377.6,245.1 377.9,245.4 378.4,244.8 378.6,245.3 379.4,240.5 379.9,243.7 380.4,244.0 381.4,243.7 381.6,243.9 382.1,246.3 382.9,244.2 383.6,245.9 383.9,245.4 384.4,245.8 384.9,244.5 385.6,246.6 385.9,245.9 386.4,247.1 386.9,244.9 387.4,244.7 387.9,245.0 388.4,246.8 389.1,244.9 389.9,249.1 390.4,244.8 390.9,244.8 391.1,244.1 391.9,246.5 392.6,244.0 393.4,243.6 393.9,243.8 394.4,243.0 394.6,243.4 395.1,242.8 395.6,243.1 396.1,244.6 396.9,242.1 397.4,245.3 397.6,245.6 397.9,244.0 398.1,245.9 398.9,241.7 399.1,241.8 399.6,245.3 399.9,243.3 400.1,242.8 400.4,243.0 400.6,242.2 401.1,242.4 401.9,240.4 402.1,240.6 415.6,237.8 424.6,237.0 441.4,238.1 466.9,241.4 471.6,241.6 475.6,241.0 480.4,242.0 508.4,243.6 514.9,243.8 516.1,243.2 517.9,241.5 518.6,241.3 521.1,243.5 522.6,244.1 540.9,244.8" fill="none" stroke="#8b9a2e" stroke-width="1.0" stroke-linejoin="round"/>
<polyline points="546.6,245.3 555.4,245.7 556.1,245.2 557.6,242.3 559.6,245.7 562.1,245.8 564.1,245.4 578.9,238.9 581.6,236.6 584.6,232.5 586.4,229.0 587.9,224.9 590.9,212.8 593.9,195.3 598.4,162.0 599.1,158.4 599.9,157.0 600.6,158.1 601.6,162.9 606.1,196.0 609.4,214.3 611.1,221.5 612.9,226.8 614.6,230.6 616.6,233.3 618.6,234.9 621.1,235.8 624.1,236.2 625.9,235.5 627.9,233.7 631.1,230.0 633.1,226.7 636.6,219.6 637.6,218.4 638.6,218.0 639.6,218.7 640.6,220.3 645.1,231.1 646.9,234.4 648.9,237.1 650.4,238.5 651.6,238.9 652.6,238.4 653.6,236.5 654.4,230.8 655.4,196.0 656.4,229.5 656.9,235.1 657.9,238.7 659.1,240.0 661.4,240.6 667.6,240.8 670.4,240.3 671.1,239.3 671.6,237.4 672.4,228.2 673.1,236.7 673.9,239.8 674.6,240.6 675.6,241.0 680.9,241.8" fill="none" stroke="#8b9a2e" stroke-width="1.0" stroke-linejoin="round"/>
</g>
<g stroke="#1a1a1a" stroke-width="1.1" fill="none">
<path d="M371.6,7.9 V256.4"/>
<path d="M680.8,7.9 V256.4"/>
<path d="M371.1,7.9 H540 M548.1,7.9 H681.3"/>
<path d="M371.1,256.4 H541.1 M547.6,256.4 H681.3"/>
<path d="M538.4,12.4 L544.1,3 M544.1,12.4 L549.8,3" stroke-width="0.9"/>
<path d="M538.8,261.3 L544,252.1 M544.3,261.3 L549.7,252.1" stroke-width="0.9"/>
<path d="M414.1,256.4 v4.5 M467.2,256.4 v4.5 M520.6,256.4 v4.5 M589.9,256.4 v4.5 M642.4,256.4 v4.5 M387.9,256.4 v2.3 M440.7,256.4 v2.3 M494.1,256.4 v2.3 M562.9,256.4 v2.3 M615.9,256.4 v2.3 M669,256.4 v2.3" stroke-width="1"/>
</g>
<g font-size="11" fill="#1a1a1a" text-anchor="middle">
<text x="414.1" y="272.5">3500</text><text x="467.2" y="272.5">3000</text><text x="520.6" y="272.5">2500</text>
<text x="589.9" y="272.5">1500</text><text x="642.4" y="272.5">1000</text>
</g>
<text x="469" y="290.2" font-size="14.6" fill="#1a1a1a">Wavenumber [cm<tspan font-size="8.5" dy="-5.5">-1</tspan><tspan dy="5.5">]</tspan></text>
<text transform="translate(361,142.3) rotate(-90)" font-size="14.5" fill="#1a1a1a" text-anchor="middle">Absorbance [a.u.]</text>
<text x="671" y="292.7" font-size="16" fill="#1a1a1a">b)</text>
<g font-size="13" font-weight="bold">
<text x="375.4" y="41.4" fill="#111">R8</text>
<text x="375.1" y="129.7" fill="#111">R30</text>
<text x="375.8" y="229.4" fill="#8b9a2e">R12</text>
</g>
<filter id="bl" x="-5%" y="-5%" width="110%" height="110%"><feGaussianBlur stdDeviation="0.35"/></filter>
<clipPath id="i1"><rect x="619.2" y="16.9" width="59.7" height="33.3"/></clipPath>
<g clip-path="url(#i1)"><g filter="url(#bl)">
<rect x="619.2" y="16.9" width="59.7" height="33.3" fill="#56819f"/>
<rect x="626.9" y="33.5" width="1.1" height="1.1" fill="#34546e" opacity="0.8"/><rect x="628.0" y="47.8" width="0.7" height="0.7" fill="#86b6d0" opacity="0.8"/><rect x="626.9" y="48.5" width="1.2" height="1.2" fill="#b0d4e4" opacity="0.8"/><rect x="649.7" y="39.0" width="0.8" height="0.8" fill="#6d9dbb" opacity="0.8"/><rect x="627.4" y="43.1" width="1.2" height="1.2" fill="#a2cade" opacity="0.8"/><rect x="668.0" y="35.2" width="1.5" height="1.5" fill="#a2cade" opacity="0.8"/><rect x="631.4" y="35.3" width="1.0" height="1.0" fill="#b0d4e4" opacity="0.8"/><rect x="654.5" y="24.7" width="1.3" height="1.3" fill="#6d9dbb" opacity="0.8"/><rect x="671.0" y="21.2" width="1.0" height="1.0" fill="#34546e" opacity="0.8"/><rect x="624.2" y="46.7" width="1.0" height="1.0" fill="#3d6483" opacity="0.8"/><rect x="628.0" y="39.3" width="0.8" height="0.8" fill="#a2cade" opacity="0.8"/><rect x="632.2" y="18.0" width="0.8" height="0.8" fill="#b0d4e4" opacity="0.8"/><rect x="639.8" y="32.5" width="1.4" height="1.4" fill="#34546e" opacity="0.8"/><rect x="639.5" y="17.5" width="0.7" height="0.7" fill="#34546e" opacity="0.8"/><rect x="678.7" y="32.2" width="1.2" height="1.2" fill="#8fc0d8" opacity="0.8"/><rect x="621.2" y="45.1" width="1.1" height="1.1" fill="#86b6d0" opacity="0.8"/><rect x="637.6" y="27.5" width="0.7" height="0.7" fill="#8fc0d8" opacity="0.8"/><rect x="620.7" y="44.8" width="1.0" height="1.0" fill="#3d6483" opacity="0.8"/><rect x="626.8" y="41.5" width="0.8" height="0.8" fill="#b0d4e4" opacity="0.8"/><rect x="654.9" y="46.7" width="0.6" height="0.6" fill="#86b6d0" opacity="0.8"/><rect x="667.3" y="23.2" width="0.7" height="0.7" fill="#34546e" opacity="0.8"/><rect x="636.7" y="41.1" width="1.0" height="1.0" fill="#86b6d0" opacity="0.8"/><rect x="670.1" y="24.1" width="0.9" height="0.9" fill="#a2cade" opacity="0.8"/><rect x="677.6" y="48.2" width="0.9" height="0.9" fill="#3d6483" opacity="0.8"/><rect x="645.2" y="27.4" width="1.3" height="1.3" fill="#b0d4e4" opacity="0.8"/><rect x="623.2" y="30.4" width="0.8" height="0.8" fill="#86b6d0" opacity="0.8"/><rect x="669.7" y="41.6" width="1.1" height="1.1" fill="#86b6d0" opacity="0.8"/><rect x="660.5" y="42.9" width="1.4" height="1.4" fill="#34546e" opacity="0.8"/><rect x="628.1" y="37.8" width="0.7" height="0.7" fill="#34546e" opacity="0.8"/><rect x="666.1" y="46.7" width="1.3" height="1.3" fill="#a2cade" opacity="0.8"/><rect x="621.3" y="28.9" width="0.7" height="0.7" fill="#a2cade" opacity="0.8"/><rect x="627.8" y="25.0" width="0.9" height="0.9" fill="#b0d4e4" opacity="0.8"/><rect x="622.8" y="45.9" width="1.2" height="1.2" fill="#3d6483" opacity="0.8"/><rect x="648.9" y="19.5" width="1.1" height="1.1" fill="#3d6483" opacity="0.8"/><rect x="633.0" y="18.2" width="0.7" height="0.7" fill="#8fc0d8" opacity="0.8"/><rect x="657.2" y="27.7" width="1.2" height="1.2" fill="#a2cade" opacity="0.8"/><rect x="640.2" y="21.3" width="0.9" height="0.9" fill="#b0d4e4" opacity="0.8"/><rect x="673.7" y="20.8" width="0.7" height="0.7" fill="#6d9dbb" opacity="0.8"/><rect x="652.7" y="49.0" width="1.4" height="1.4" fill="#6d9dbb" opacity="0.8"/><rect x="623.2" y="43.8" width="1.2" height="1.2" fill="#34546e" opacity="0.8"/><rect x="627.8" y="32.4" width="0.6" height="0.6" fill="#6d9dbb" opacity="0.8"/><rect x="662.1" y="43.7" width="1.3" height="1.3" fill="#8fc0d8" opacity="0.8"/><rect x="635.2" y="43.2" width="0.8" height="0.8" fill="#86b6d0" opacity="0.8"/><rect x="642.5" y="33.5" width="0.9" height="0.9" fill="#86b6d0" opacity="0.8"/><rect x="655.4" y="37.0" width="0.8" height="0.8" fill="#8fc0d8" opacity="0.8"/><rect x="640.5" y="41.4" width="0.9" height="0.9" fill="#34546e" opacity="0.8"/><rect x="666.9" y="30.7" width="1.1" height="1.1" fill="#a2cade" opacity="0.8"/><rect x="650.1" y="25.5" width="1.5" height="1.5" fill="#34546e" opacity="0.8"/><rect x="624.9" y="27.7" width="1.1" height="1.1" fill="#8fc0d8" opacity="0.8"/><rect x="628.4" y="43.5" width="1.3" height="1.3" fill="#86b6d0" opacity="0.8"/><rect x="657.2" y="46.9" width="1.3" height="1.3" fill="#86b6d0" opacity="0.8"/><rect x="657.7" y="28.2" width="1.3" height="1.3" fill="#6d9dbb" opacity="0.8"/><rect x="642.2" y="22.0" width="1.4" height="1.4" fill="#3d6483" opacity="0.8"/><rect x="663.7" y="35.5" width="1.3" height="1.3" fill="#34546e" opacity="0.8"/><rect x="645.9" y="35.7" width="0.7" height="0.7" fill="#3d6483" opacity="0.8"/><rect x="667.8" y="40.4" width="1.3" height="1.3" fill="#a2cade" opacity="0.8"/><rect x="648.8" y="46.2" width="0.7" height="0.7" fill="#a2cade" opacity="0.8"/><rect x="641.4" y="19.9" width="1.2" height="1.2" fill="#b0d4e4" opacity="0.8"/><rect x="646.4" y="31.2" width="1.4" height="1.4" fill="#8fc0d8" opacity="0.8"/><rect x="656.0" y="30.7" width="1.1" height="1.1" fill="#86b6d0" opacity="0.8"/><rect x="649.0" y="21.4" width="1.1" height="1.1" fill="#6d9dbb" opacity="0.8"/><rect x="629.4" y="17.3" width="0.7" height="0.7" fill="#b0d4e4" opacity="0.8"/><rect x="646.6" y="49.3" width="0.6" height="0.6" fill="#8fc0d8" opacity="0.8"/><rect x="651.2" y="20.9" width="1.0" height="1.0" fill="#b0d4e4" opacity="0.8"/><rect x="631.6" y="40.7" width="1.1" height="1.1" fill="#86b6d0" opacity="0.8"/><rect x="634.4" y="45.8" width="1.3" height="1.3" fill="#6d9dbb" opacity="0.8"/><rect x="645.2" y="30.4" width="1.3" height="1.3" fill="#a2cade" opacity="0.8"/><rect x="624.0" y="22.2" width="0.9" height="0.9" fill="#b0d4e4" opacity="0.8"/><rect x="649.5" y="19.3" width="0.6" height="0.6" fill="#3d6483" opacity="0.8"/><rect x="642.2" y="41.5" width="1.1" height="1.1" fill="#3d6483" opacity="0.8"/><rect x="620.9" y="18.4" width="1.0" height="1.0" fill="#b0d4e4" opacity="0.8"/><rect x="673.8" y="29.1" width="1.4" height="1.4" fill="#b0d4e4" opacity="0.8"/><rect x="674.7" y="30.4" width="1.3" height="1.3" fill="#34546e" opacity="0.8"/><rect x="628.4" y="36.1" width="0.7" height="0.7" fill="#6d9dbb" opacity="0.8"/><rect x="658.8" y="43.8" width="1.4" height="1.4" fill="#a2cade" opacity="0.8"/><rect x="626.2" y="47.0" width="1.4" height="1.4" fill="#a2cade" opacity="0.8"/><rect x="677.0" y="36.7" width="1.2" height="1.2" fill="#86b6d0" opacity="0.8"/><rect x="630.1" y="26.6" width="1.2" height="1.2" fill="#6d9dbb" opacity="0.8"/><rect x="638.6" y="39.9" width="1.1" height="1.1" fill="#86b6d0" opacity="0.8"/><rect x="677.0" y="22.4" width="1.0" height="1.0" fill="#a2cade" opacity="0.8"/><rect x="628.7" y="48.1" width="1.0" height="1.0" fill="#a2cade" opacity="0.8"/><rect x="629.2" y="36.7" width="1.0" height="1.0" fill="#6d9dbb" opacity="0.8"/><rect x="626.8" y="18.0" width="1.0" height="1.0" fill="#8fc0d8" opacity="0.8"/><rect x="650.2" y="46.9" width="1.4" height="1.4" fill="#34546e" opacity="0.8"/><rect x="675.1" y="43.5" width="1.0" height="1.0" fill="#b0d4e4" opacity="0.8"/><rect x="642.9" y="30.2" width="0.6" height="0.6" fill="#a2cade" opacity="0.8"/><rect x="666.9" y="25.1" width="0.6" height="0.6" fill="#8fc0d8" opacity="0.8"/><rect x="662.1" y="31.4" width="0.9" height="0.9" fill="#a2cade" opacity="0.8"/><rect x="658.5" y="22.3" width="0.6" height="0.6" fill="#b0d4e4" opacity="0.8"/><rect x="650.9" y="45.7" width="1.0" height="1.0" fill="#34546e" opacity="0.8"/><rect x="666.1" y="17.5" width="0.6" height="0.6" fill="#8fc0d8" opacity="0.8"/><rect x="632.7" y="19.1" width="0.7" height="0.7" fill="#34546e" opacity="0.8"/><rect x="641.6" y="28.1" width="1.1" height="1.1" fill="#a2cade" opacity="0.8"/><rect x="641.0" y="23.0" width="1.1" height="1.1" fill="#b0d4e4" opacity="0.8"/><rect x="619.3" y="29.7" width="0.9" height="0.9" fill="#8fc0d8" opacity="0.8"/><rect x="622.2" y="35.4" width="1.2" height="1.2" fill="#6d9dbb" opacity="0.8"/><rect x="663.9" y="48.8" width="0.9" height="0.9" fill="#8fc0d8" opacity="0.8"/><rect x="645.6" y="24.1" width="1.4" height="1.4" fill="#34546e" opacity="0.8"/><rect x="663.7" y="48.3" width="1.3" height="1.3" fill="#8fc0d8" opacity="0.8"/><rect x="626.8" y="17.4" width="0.8" height="0.8" fill="#b0d4e4" opacity="0.8"/><rect x="643.8" y="39.8" width="1.0" height="1.0" fill="#34546e" opacity="0.8"/><rect x="664.6" y="19.3" width="1.2" height="1.2" fill="#a2cade" opacity="0.8"/><rect x="622.1" y="25.2" width="1.3" height="1.3" fill="#3d6483" opacity="0.8"/><rect x="643.4" y="26.7" width="1.3" height="1.3" fill="#34546e" opacity="0.8"/><rect x="635.6" y="17.9" width="0.8" height="0.8" fill="#a2cade" opacity="0.8"/><rect x="667.6" y="21.0" width="1.5" height="1.5" fill="#86b6d0" opacity="0.8"/><rect x="631.9" y="27.1" width="1.1" height="1.1" fill="#3d6483" opacity="0.8"/><rect x="641.8" y="20.4" width="1.0" height="1.0" fill="#6d9dbb" opacity="0.8"/><rect x="620.7" y="24.4" width="1.4" height="1.4" fill="#a2cade" opacity="0.8"/><rect x="635.4" y="39.5" width="1.4" height="1.4" fill="#3d6483" opacity="0.8"/><rect x="636.9" y="29.4" width="1.2" height="1.2" fill="#a2cade" opacity="0.8"/><rect x="655.8" y="22.9" width="0.8" height="0.8" fill="#8fc0d8" opacity="0.8"/><rect x="664.4" y="40.4" width="1.4" height="1.4" fill="#86b6d0" opacity="0.8"/><rect x="644.3" y="21.3" width="1.4" height="1.4" fill="#8fc0d8" opacity="0.8"/><rect x="660.7" y="36.1" width="1.2" height="1.2" fill="#86b6d0" opacity="0.8"/><rect x="639.7" y="36.1" width="1.0" height="1.0" fill="#6d9dbb" opacity="0.8"/><rect x="661.5" y="48.1" width="1.4" height="1.4" fill="#34546e" opacity="0.8"/><rect x="641.4" y="47.8" width="1.0" height="1.0" fill="#6d9dbb" opacity="0.8"/><rect x="667.0" y="20.0" width="1.0" height="1.0" fill="#86b6d0" opacity="0.8"/><rect x="667.5" y="46.1" width="0.7" height="0.7" fill="#a2cade" opacity="0.8"/><rect x="656.0" y="37.9" width="0.7" height="0.7" fill="#6d9dbb" opacity="0.8"/><rect x="652.2" y="48.9" width="0.8" height="0.8" fill="#8fc0d8" opacity="0.8"/><rect x="650.5" y="27.7" width="1.2" height="1.2" fill="#34546e" opacity="0.8"/><rect x="649.8" y="27.7" width="1.1" height="1.1" fill="#34546e" opacity="0.8"/><rect x="641.4" y="46.6" width="1.0" height="1.0" fill="#34546e" opacity="0.8"/><rect x="634.6" y="25.4" width="1.5" height="1.5" fill="#a2cade" opacity="0.8"/><rect x="637.9" y="45.8" width="1.1" height="1.1" fill="#6d9dbb" opacity="0.8"/><rect x="629.0" y="48.3" width="1.3" height="1.3" fill="#b0d4e4" opacity="0.8"/><rect x="653.1" y="40.5" width="1.3" height="1.3" fill="#a2cade" opacity="0.8"/><rect x="657.1" y="24.5" width="0.6" height="0.6" fill="#a2cade" opacity="0.8"/><rect x="659.6" y="32.7" width="1.4" height="1.4" fill="#8fc0d8" opacity="0.8"/><rect x="668.0" y="49.7" width="1.4" height="1.4" fill="#3d6483" opacity="0.8"/><rect x="676.8" y="22.2" width="0.7" height="0.7" fill="#86b6d0" opacity="0.8"/><rect x="640.8" y="20.7" width="0.7" height="0.7" fill="#3d6483" opacity="0.8"/><rect x="620.3" y="48.0" width="0.9" height="0.9" fill="#8fc0d8" opacity="0.8"/><rect x="646.3" y="41.6" width="1.3" height="1.3" fill="#34546e" opacity="0.8"/><rect x="642.1" y="34.7" width="0.7" height="0.7" fill="#6d9dbb" opacity="0.8"/><rect x="632.5" y="27.2" width="0.9" height="0.9" fill="#3d6483" opacity="0.8"/><rect x="653.5" y="28.0" width="0.9" height="0.9" fill="#a2cade" opacity="0.8"/><rect x="619.9" y="17.1" width="0.7" height="0.7" fill="#8fc0d8" opacity="0.8"/><rect x="670.9" y="38.0" width="1.3" height="1.3" fill="#3d6483" opacity="0.8"/><rect x="632.2" y="47.5" width="0.8" height="0.8" fill="#b0d4e4" opacity="0.8"/><rect x="650.2" y="39.6" width="1.3" height="1.3" fill="#3d6483" opacity="0.8"/><rect x="647.7" y="18.4" width="0.9" height="0.9" fill="#3d6483" opacity="0.8"/><rect x="677.8" y="47.0" width="1.1" height="1.1" fill="#a2cade" opacity="0.8"/><rect x="673.1" y="28.0" width="1.5" height="1.5" fill="#8fc0d8" opacity="0.8"/><rect x="646.0" y="22.2" width="1.1" height="1.1" fill="#86b6d0" opacity="0.8"/><rect x="660.6" y="39.2" width="0.6" height="0.6" fill="#34546e" opacity="0.8"/><rect x="657.4" y="47.6" width="1.2" height="1.2" fill="#a2cade" opacity="0.8"/><rect x="649.7" y="43.9" width="0.7" height="0.7" fill="#b0d4e4" opacity="0.8"/><rect x="672.7" y="31.4" width="1.4" height="1.4" fill="#a2cade" opacity="0.8"/><rect x="656.5" y="45.1" width="1.2" height="1.2" fill="#6d9dbb" opacity="0.8"/><rect x="656.2" y="49.2" width="0.7" height="0.7" fill="#3d6483" opacity="0.8"/><rect x="652.1" y="48.7" width="1.2" height="1.2" fill="#86b6d0" opacity="0.8"/><rect x="637.7" y="20.5" width="1.0" height="1.0" fill="#8fc0d8" opacity="0.8"/><rect x="647.2" y="37.5" width="0.8" height="0.8" fill="#a2cade" opacity="0.8"/><rect x="671.8" y="26.5" width="0.7" height="0.7" fill="#8fc0d8" opacity="0.8"/><rect x="675.1" y="22.2" width="0.8" height="0.8" fill="#6d9dbb" opacity="0.8"/><rect x="674.5" y="28.5" width="1.4" height="1.4" fill="#6d9dbb" opacity="0.8"/><rect x="672.2" y="24.8" width="0.8" height="0.8" fill="#86b6d0" opacity="0.8"/><rect x="663.5" y="49.8" width="1.5" height="1.5" fill="#34546e" opacity="0.8"/><rect x="673.8" y="49.8" width="1.1" height="1.1" fill="#8fc0d8" opacity="0.8"/><rect x="627.8" y="45.2" width="1.0" height="1.0" fill="#34546e" opacity="0.8"/><rect x="649.1" y="18.1" width="0.6" height="0.6" fill="#6d9dbb" opacity="0.8"/><rect x="635.0" y="36.7" width="1.3" height="1.3" fill="#b0d4e4" opacity="0.8"/><rect x="668.0" y="48.2" width="1.2" height="1.2" fill="#b0d4e4" opacity="0.8"/><rect x="663.0" y="36.5" width="0.7" height="0.7" fill="#34546e" opacity="0.8"/><rect x="664.6" y="23.6" width="1.3" height="1.3" fill="#86b6d0" opacity="0.8"/><rect x="646.9" y="17.1" width="1.1" height="1.1" fill="#86b6d0" opacity="0.8"/><rect x="623.6" y="25.6" width="0.9" height="0.9" fill="#a2cade" opacity="0.8"/><rect x="639.8" y="40.4" width="0.8" height="0.8" fill="#3d6483" opacity="0.8"/><rect x="655.4" y="48.4" width="0.7" height="0.7" fill="#a2cade" opacity="0.8"/><rect x="623.9" y="23.3" width="0.8" height="0.8" fill="#3d6483" opacity="0.8"/><rect x="623.7" y="23.9" width="0.8" height="0.8" fill="#3d6483" opacity="0.8"/><rect x="647.8" y="38.5" width="0.9" height="0.9" fill="#6d9dbb" opacity="0.8"/><rect x="624.9" y="25.7" width="0.8" height="0.8" fill="#3d6483" opacity="0.8"/><rect x="647.9" y="45.9" width="1.2" height="1.2" fill="#86b6d0" opacity="0.8"/><rect x="621.3" y="19.2" width="1.0" height="1.0" fill="#3d6483" opacity="0.8"/><rect x="640.9" y="39.6" width="0.7" height="0.7" fill="#6d9dbb" opacity="0.8"/><rect x="660.1" y="35.8" width="1.1" height="1.1" fill="#3d6483" opacity="0.8"/><rect x="673.0" y="20.7" width="0.8" height="0.8" fill="#6d9dbb" opacity="0.8"/><rect x="652.9" y="49.5" width="1.5" height="1.5" fill="#a2cade" opacity="0.8"/><rect x="654.3" y="42.2" width="1.2" height="1.2" fill="#3d6483" opacity="0.8"/><rect x="655.2" y="27.1" width="0.9" height="0.9" fill="#86b6d0" opacity="0.8"/><rect x="628.5" y="17.2" width="1.4" height="1.4" fill="#34546e" opacity="0.8"/><rect x="664.1" y="26.5" width="1.0" height="1.0" fill="#8fc0d8" opacity="0.8"/><rect x="629.7" y="37.0" width="1.4" height="1.4" fill="#a2cade" opacity="0.8"/><rect x="674.9" y="25.6" width="1.2" height="1.2" fill="#8fc0d8" opacity="0.8"/><rect x="626.8" y="34.8" width="0.7" height="0.7" fill="#8fc0d8" opacity="0.8"/><rect x="651.6" y="28.5" width="0.9" height="0.9" fill="#a2cade" opacity="0.8"/><rect x="661.7" y="32.9" width="1.0" height="1.0" fill="#86b6d0" opacity="0.8"/><rect x="636.1" y="45.1" width="1.5" height="1.5" fill="#86b6d0" opacity="0.8"/><rect x="641.5" y="45.9" width="1.4" height="1.4" fill="#b0d4e4" opacity="0.8"/><rect x="635.5" y="40.1" width="0.9" height="0.9" fill="#3d6483" opacity="0.8"/><rect x="676.2" y="29.1" width="1.3" height="1.3" fill="#34546e" opacity="0.8"/><rect x="632.0" y="45.7" width="0.9" height="0.9" fill="#34546e" opacity="0.8"/><rect x="625.8" y="18.6" width="1.0" height="1.0" fill="#34546e" opacity="0.8"/><rect x="635.4" y="44.9" width="0.8" height="0.8" fill="#34546e" opacity="0.8"/><rect x="669.8" y="18.0" width="0.8" height="0.8" fill="#86b6d0" opacity="0.8"/><rect x="645.9" y="28.6" width="1.0" height="1.0" fill="#3d6483" opacity="0.8"/><rect x="670.0" y="36.2" width="1.1" height="1.1" fill="#34546e" opacity="0.8"/><rect x="667.4" y="33.6" width="1.3" height="1.3" fill="#6d9dbb" opacity="0.8"/><rect x="673.8" y="37.3" width="1.0" height="1.0" fill="#3d6483" opacity="0.8"/><rect x="673.6" y="42.4" width="1.3" height="1.3" fill="#3d6483" opacity="0.8"/><rect x="632.4" y="31.4" width="1.4" height="1.4" fill="#8fc0d8" opacity="0.8"/><rect x="667.8" y="34.8" width="0.8" height="0.8" fill="#3d6483" opacity="0.8"/><rect x="641.6" y="19.4" width="1.2" height="1.2" fill="#3d6483" opacity="0.8"/><rect x="620.9" y="26.9" width="1.3" height="1.3" fill="#8fc0d8" opacity="0.8"/><rect x="631.2" y="34.8" width="1.3" height="1.3" fill="#34546e" opacity="0.8"/><rect x="626.5" y="47.2" width="1.3" height="1.3" fill="#a2cade" opacity="0.8"/><rect x="652.9" y="28.0" width="1.1" height="1.1" fill="#8fc0d8" opacity="0.8"/><rect x="626.3" y="21.0" width="0.6" height="0.6" fill="#6d9dbb" opacity="0.8"/><rect x="629.4" y="25.1" width="1.2" height="1.2" fill="#34546e" opacity="0.8"/><rect x="654.5" y="44.3" width="0.7" height="0.7" fill="#34546e" opacity="0.8"/><rect x="642.4" y="19.5" width="1.0" height="1.0" fill="#3d6483" opacity="0.8"/><rect x="623.2" y="20.4" width="1.0" height="1.0" fill="#86b6d0" opacity="0.8"/><rect x="664.8" y="26.3" width="1.3" height="1.3" fill="#3d6483" opacity="0.8"/><rect x="636.3" y="32.6" width="0.7" height="0.7" fill="#3d6483" opacity="0.8"/><rect x="646.0" y="36.3" width="1.3" height="1.3" fill="#6d9dbb" opacity="0.8"/><rect x="667.0" y="35.9" width="1.1" height="1.1" fill="#86b6d0" opacity="0.8"/><rect x="622.2" y="46.2" width="0.8" height="0.8" fill="#b0d4e4" opacity="0.8"/><rect x="651.4" y="47.2" width="1.1" height="1.1" fill="#a2cade" opacity="0.8"/><rect x="678.4" y="24.6" width="1.2" height="1.2" fill="#3d6483" opacity="0.8"/><rect x="649.9" y="37.8" width="1.1" height="1.1" fill="#34546e" opacity="0.8"/><rect x="639.3" y="38.3" width="0.7" height="0.7" fill="#8fc0d8" opacity="0.8"/><rect x="646.2" y="24.0" width="1.1" height="1.1" fill="#a2cade" opacity="0.8"/><rect x="659.2" y="21.1" width="0.9" height="0.9" fill="#a2cade" opacity="0.8"/><rect x="654.9" y="19.6" width="0.8" height="0.8" fill="#86b6d0" opacity="0.8"/><rect x="645.9" y="31.9" width="0.6" height="0.6" fill="#a2cade" opacity="0.8"/><rect x="632.9" y="37.2" width="0.8" height="0.8" fill="#b0d4e4" opacity="0.8"/><rect x="654.8" y="28.6" width="0.9" height="0.9" fill="#34546e" opacity="0.8"/><rect x="654.2" y="36.8" width="1.2" height="1.2" fill="#a2cade" opacity="0.8"/><rect x="635.2" y="20.0" width="0.8" height="0.8" fill="#34546e" opacity="0.8"/><rect x="655.5" y="30.7" width="0.9" height="0.9" fill="#6d9dbb" opacity="0.8"/><rect x="625.1" y="36.8" width="0.7" height="0.7" fill="#6d9dbb" opacity="0.8"/><rect x="660.3" y="37.6" width="0.7" height="0.7" fill="#a2cade" opacity="0.8"/><rect x="640.5" y="48.2" width="0.7" height="0.7" fill="#a2cade" opacity="0.8"/><rect x="645.3" y="37.3" width="1.0" height="1.0" fill="#34546e" opacity="0.8"/><rect x="626.6" y="35.6" width="0.6" height="0.6" fill="#b0d4e4" opacity="0.8"/><rect x="666.9" y="29.3" width="1.1" height="1.1" fill="#b0d4e4" opacity="0.8"/><rect x="650.7" y="49.5" width="0.6" height="0.6" fill="#a2cade" opacity="0.8"/><rect x="643.5" y="43.1" width="1.3" height="1.3" fill="#6d9dbb" opacity="0.8"/><rect x="644.5" y="17.3" width="1.2" height="1.2" fill="#86b6d0" opacity="0.8"/><rect x="626.2" y="37.9" width="1.0" height="1.0" fill="#6d9dbb" opacity="0.8"/><rect x="637.5" y="25.9" width="1.1" height="1.1" fill="#34546e" opacity="0.8"/><rect x="642.7" y="48.3" width="1.0" height="1.0" fill="#3d6483" opacity="0.8"/><rect x="634.3" y="34.3" width="1.4" height="1.4" fill="#8fc0d8" opacity="0.8"/><rect x="659.6" y="46.8" width="1.3" height="1.3" fill="#b0d4e4" opacity="0.8"/><rect x="659.8" y="31.2" width="0.7" height="0.7" fill="#b0d4e4" opacity="0.8"/><rect x="657.1" y="49.1" width="0.9" height="0.9" fill="#8fc0d8" opacity="0.8"/><rect x="671.5" y="24.2" width="1.5" height="1.5" fill="#86b6d0" opacity="0.8"/><rect x="622.0" y="27.7" width="1.5" height="1.5" fill="#b0d4e4" opacity="0.8"/><rect x="677.0" y="39.2" width="0.7" height="0.7" fill="#86b6d0" opacity="0.8"/><rect x="634.1" y="48.3" width="1.3" height="1.3" fill="#86b6d0" opacity="0.8"/><rect x="644.8" y="42.2" width="1.4" height="1.4" fill="#3d6483" opacity="0.8"/><rect x="671.4" y="25.9" width="0.9" height="0.9" fill="#6d9dbb" opacity="0.8"/><rect x="621.9" y="22.2" width="1.1" height="1.1" fill="#b0d4e4" opacity="0.8"/><rect x="651.8" y="22.6" width="1.3" height="1.3" fill="#86b6d0" opacity="0.8"/><rect x="626.8" y="23.8" width="0.8" height="0.8" fill="#86b6d0" opacity="0.8"/><rect x="667.5" y="42.0" width="1.3" height="1.3" fill="#34546e" opacity="0.8"/><rect x="659.9" y="35.0" width="0.9" height="0.9" fill="#8fc0d8" opacity="0.8"/><rect x="670.8" y="30.5" width="1.2" height="1.2" fill="#3d6483" opacity="0.8"/><rect x="623.3" y="28.9" width="0.7" height="0.7" fill="#3d6483" opacity="0.8"/><rect x="663.0" y="28.3" width="1.2" height="1.2" fill="#6d9dbb" opacity="0.8"/><rect x="626.6" y="29.7" width="1.0" height="1.0" fill="#34546e" opacity="0.8"/><rect x="632.8" y="40.2" width="1.4" height="1.4" fill="#a2cade" opacity="0.8"/><rect x="667.7" y="17.9" width="1.0" height="1.0" fill="#6d9dbb" opacity="0.8"/><rect x="653.4" y="19.7" width="1.3" height="1.3" fill="#6d9dbb" opacity="0.8"/><rect x="644.1" y="48.3" width="0.6" height="0.6" fill="#6d9dbb" opacity="0.8"/><rect x="648.3" y="44.6" width="1.3" height="1.3" fill="#6d9dbb" opacity="0.8"/><rect x="630.1" y="27.1" width="1.3" height="1.3" fill="#6d9dbb" opacity="0.8"/><rect x="634.9" y="47.9" width="1.4" height="1.4" fill="#6d9dbb" opacity="0.8"/><rect x="640.4" y="35.2" width="1.4" height="1.4" fill="#b0d4e4" opacity="0.8"/><rect x="673.5" y="46.4" width="1.3" height="1.3" fill="#3d6483" opacity="0.8"/><rect x="660.2" y="39.7" width="1.1" height="1.1" fill="#6d9dbb" opacity="0.8"/><rect x="631.0" y="35.6" width="1.2" height="1.2" fill="#34546e" opacity="0.8"/><rect x="648.2" y="39.5" width="1.0" height="1.0" fill="#3d6483" opacity="0.8"/><rect x="662.2" y="19.9" width="1.3" height="1.3" fill="#8fc0d8" opacity="0.8"/><rect x="636.2" y="19.6" width="0.7" height="0.7" fill="#a2cade" opacity="0.8"/><rect x="650.5" y="27.9" width="0.8" height="0.8" fill="#6d9dbb" opacity="0.8"/><rect x="665.1" y="29.3" width="1.4" height="1.4" fill="#6d9dbb" opacity="0.8"/><rect x="660.4" y="28.8" width="1.4" height="1.4" fill="#3d6483" opacity="0.8"/><rect x="657.8" y="39.5" width="0.7" height="0.7" fill="#3d6483" opacity="0.8"/><rect x="640.4" y="41.5" width="1.4" height="1.4" fill="#8fc0d8" opacity="0.8"/><rect x="626.5" y="17.4" width="1.3" height="1.3" fill="#a2cade" opacity="0.8"/><rect x="673.0" y="31.4" width="1.4" height="1.4" fill="#b0d4e4" opacity="0.8"/><rect x="620.6" y="18.8" width="1.1" height="1.1" fill="#34546e" opacity="0.8"/><rect x="668.4" y="24.7" width="1.0" height="1.0" fill="#a2cade" opacity="0.8"/><rect x="678.3" y="27.0" width="1.0" height="1.0" fill="#b0d4e4" opacity="0.8"/><rect x="678.6" y="23.0" width="1.2" height="1.2" fill="#34546e" opacity="0.8"/><rect x="643.9" y="30.2" width="0.8" height="0.8" fill="#b0d4e4" opacity="0.8"/><rect x="653.5" y="30.0" width="1.1" height="1.1" fill="#a2cade" opacity="0.8"/><rect x="657.2" y="45.3" width="1.1" height="1.1" fill="#a2cade" opacity="0.8"/><rect x="676.6" y="22.6" width="0.6" height="0.6" fill="#6d9dbb" opacity="0.8"/><rect x="673.4" y="25.8" width="0.7" height="0.7" fill="#8fc0d8" opacity="0.8"/><rect x="639.7" y="28.7" width="1.4" height="1.4" fill="#6d9dbb" opacity="0.8"/><rect x="636.5" y="21.3" width="0.8" height="0.8" fill="#34546e" opacity="0.8"/><rect x="644.8" y="28.9" width="1.3" height="1.3" fill="#b0d4e4" opacity="0.8"/><rect x="675.1" y="33.9" width="1.3" height="1.3" fill="#b0d4e4" opacity="0.8"/><rect x="640.1" y="36.1" width="0.8" height="0.8" fill="#3d6483" opacity="0.8"/><rect x="635.6" y="23.1" width="0.8" height="0.8" fill="#a2cade" opacity="0.8"/><rect x="666.6" y="20.7" width="0.9" height="0.9" fill="#8fc0d8" opacity="0.8"/><rect x="662.3" y="45.5" width="1.1" height="1.1" fill="#a2cade" opacity="0.8"/><rect x="633.4" y="42.9" width="1.3" height="1.3" fill="#8fc0d8" opacity="0.8"/><rect x="643.5" y="24.8" width="0.6" height="0.6" fill="#34546e" opacity="0.8"/><rect x="657.0" y="16.9" width="1.1" height="1.1" fill="#34546e" opacity="0.8"/><rect x="675.2" y="17.9" width="0.7" height="0.7" fill="#3d6483" opacity="0.8"/><rect x="645.3" y="29.7" width="1.4" height="1.4" fill="#86b6d0" opacity="0.8"/><rect x="623.2" y="23.6" width="1.4" height="1.4" fill="#b0d4e4" opacity="0.8"/><rect x="634.7" y="30.0" width="0.6" height="0.6" fill="#86b6d0" opacity="0.8"/><rect x="636.3" y="37.0" width="1.2" height="1.2" fill="#86b6d0" opacity="0.8"/><rect x="658.1" y="37.4" width="0.6" height="0.6" fill="#34546e" opacity="0.8"/><rect x="658.3" y="36.3" width="0.8" height="0.8" fill="#86b6d0" opacity="0.8"/><rect x="633.4" y="45.8" width="0.9" height="0.9" fill="#6d9dbb" opacity="0.8"/><rect x="628.9" y="43.4" width="1.3" height="1.3" fill="#6d9dbb" opacity="0.8"/><rect x="659.6" y="30.8" width="1.0" height="1.0" fill="#8fc0d8" opacity="0.8"/><rect x="652.3" y="36.7" width="1.5" height="1.5" fill="#b0d4e4" opacity="0.8"/><rect x="665.1" y="17.5" width="0.8" height="0.8" fill="#3d6483" opacity="0.8"/><rect x="675.6" y="25.3" width="1.1" height="1.1" fill="#3d6483" opacity="0.8"/><rect x="658.3" y="33.2" width="1.2" height="1.2" fill="#b0d4e4" opacity="0.8"/><rect x="677.6" y="48.2" width="0.8" height="0.8" fill="#86b6d0" opacity="0.8"/><rect x="636.4" y="21.7" width="1.3" height="1.3" fill="#86b6d0" opacity="0.8"/><rect x="669.0" y="21.6" width="0.7" height="0.7" fill="#a2cade" opacity="0.8"/><rect x="660.2" y="42.5" width="1.0" height="1.0" fill="#6d9dbb" opacity="0.8"/><rect x="657.4" y="47.5" width="1.4" height="1.4" fill="#34546e" opacity="0.8"/><rect x="661.8" y="42.8" width="1.4" height="1.4" fill="#86b6d0" opacity="0.8"/><rect x="644.2" y="22.1" width="1.0" height="1.0" fill="#34546e" opacity="0.8"/><rect x="642.7" y="43.6" width="1.2" height="1.2" fill="#6d9dbb" opacity="0.8"/><rect x="659.8" y="38.6" width="0.7" height="0.7" fill="#a2cade" opacity="0.8"/><rect x="642.8" y="45.2" width="1.2" height="1.2" fill="#86b6d0" opacity="0.8"/><rect x="666.4" y="37.6" width="1.3" height="1.3" fill="#34546e" opacity="0.8"/><rect x="661.8" y="45.6" width="1.5" height="1.5" fill="#b0d4e4" opacity="0.8"/><rect x="663.4" y="44.0" width="0.7" height="0.7" fill="#a2cade" opacity="0.8"/><rect x="674.3" y="24.8" width="0.9" height="0.9" fill="#86b6d0" opacity="0.8"/><rect x="627.3" y="38.0" width="0.6" height="0.6" fill="#b0d4e4" opacity="0.8"/><rect x="637.0" y="41.7" width="1.4" height="1.4" fill="#8fc0d8" opacity="0.8"/><rect x="660.4" y="31.0" width="1.2" height="1.2" fill="#b0d4e4" opacity="0.8"/><rect x="661.7" y="25.3" width="0.6" height="0.6" fill="#8fc0d8" opacity="0.8"/><rect x="671.7" y="37.7" width="0.7" height="0.7" fill="#3d6483" opacity="0.8"/><rect x="654.4" y="26.7" width="1.4" height="1.4" fill="#a2cade" opacity="0.8"/><rect x="633.5" y="21.7" width="0.9" height="0.9" fill="#b0d4e4" opacity="0.8"/><rect x="672.0" y="38.8" width="0.7" height="0.7" fill="#6d9dbb" opacity="0.8"/><rect x="642.7" y="20.3" width="1.2" height="1.2" fill="#6d9dbb" opacity="0.8"/><rect x="624.8" y="33.5" width="0.8" height="0.8" fill="#8fc0d8" opacity="0.8"/><rect x="636.2" y="41.8" width="1.5" height="1.5" fill="#8fc0d8" opacity="0.8"/><rect x="651.6" y="27.2" width="0.7" height="0.7" fill="#3d6483" opacity="0.8"/><rect x="655.2" y="22.1" width="1.2" height="1.2" fill="#34546e" opacity="0.8"/><rect x="627.7" y="36.8" width="0.8" height="0.8" fill="#8fc0d8" opacity="0.8"/><rect x="664.8" y="26.4" width="1.2" height="1.2" fill="#8fc0d8" opacity="0.8"/><rect x="653.5" y="24.1" width="1.4" height="1.4" fill="#34546e" opacity="0.8"/><rect x="640.4" y="42.6" width="1.0" height="1.0" fill="#a2cade" opacity="0.8"/><rect x="661.7" y="28.3" width="1.3" height="1.3" fill="#a2cade" opacity="0.8"/><rect x="645.8" y="41.6" width="1.2" height="1.2" fill="#8fc0d8" opacity="0.8"/><rect x="643.6" y="28.5" width="1.5" height="1.5" fill="#b0d4e4" opacity="0.8"/><rect x="650.0" y="30.8" width="1.2" height="1.2" fill="#8fc0d8" opacity="0.8"/><rect x="676.4" y="42.0" width="1.2" height="1.2" fill="#3d6483" opacity="0.8"/><rect x="636.6" y="43.9" width="1.4" height="1.4" fill="#a2cade" opacity="0.8"/><rect x="673.7" y="20.0" width="1.3" height="1.3" fill="#8fc0d8" opacity="0.8"/><rect x="670.9" y="32.8" width="0.7" height="0.7" fill="#3d6483" opacity="0.8"/><rect x="633.7" y="18.0" width="1.4" height="1.4" fill="#a2cade" opacity="0.8"/><rect x="668.9" y="38.0" width="1.3" height="1.3" fill="#8fc0d8" opacity="0.8"/><rect x="646.8" y="20.9" width="0.9" height="0.9" fill="#34546e" opacity="0.8"/><rect x="649.4" y="36.3" width="0.9" height="0.9" fill="#34546e" opacity="0.8"/><rect x="639.6" y="23.1" width="1.4" height="1.4" fill="#86b6d0" opacity="0.8"/><rect x="632.4" y="30.0" width="1.1" height="1.1" fill="#34546e" opacity="0.8"/><rect x="648.7" y="35.3" width="0.6" height="0.6" fill="#3d6483" opacity="0.8"/><rect x="675.8" y="34.8" width="0.7" height="0.7" fill="#6d9dbb" opacity="0.8"/><rect x="629.2" y="41.1" width="1.0" height="1.0" fill="#b0d4e4" opacity="0.8"/><rect x="634.6" y="29.5" width="1.0" height="1.0" fill="#b0d4e4" opacity="0.8"/><rect x="633.9" y="30.8" width="1.0" height="1.0" fill="#6d9dbb" opacity="0.8"/><rect x="660.3" y="23.5" width="0.6" height="0.6" fill="#6d9dbb" opacity="0.8"/><rect x="623.3" y="37.9" width="1.1" height="1.1" fill="#8fc0d8" opacity="0.8"/><rect x="677.4" y="23.2" width="1.4" height="1.4" fill="#34546e" opacity="0.8"/><rect x="629.4" y="38.7" width="0.7" height="0.7" fill="#86b6d0" opacity="0.8"/><rect x="654.2" y="39.4" width="0.7" height="0.7" fill="#8fc0d8" opacity="0.8"/><rect x="644.5" y="49.1" width="0.6" height="0.6" fill="#8fc0d8" opacity="0.8"/><rect x="623.9" y="37.6" width="0.8" height="0.8" fill="#3d6483" opacity="0.8"/><rect x="673.5" y="28.3" width="0.6" height="0.6" fill="#6d9dbb" opacity="0.8"/><rect x="627.7" y="35.4" width="1.3" height="1.3" fill="#6d9dbb" opacity="0.8"/><rect x="647.4" y="24.9" width="0.7" height="0.7" fill="#8fc0d8" opacity="0.8"/><rect x="632.5" y="23.6" width="1.4" height="1.4" fill="#86b6d0" opacity="0.8"/><rect x="626.2" y="38.2" width="1.0" height="1.0" fill="#6d9dbb" opacity="0.8"/><rect x="620.9" y="49.5" width="1.5" height="1.5" fill="#34546e" opacity="0.8"/><rect x="668.9" y="32.1" width="1.2" height="1.2" fill="#3d6483" opacity="0.8"/><rect x="658.2" y="41.3" width="1.0" height="1.0" fill="#3d6483" opacity="0.8"/><rect x="667.2" y="31.6" width="1.0" height="1.0" fill="#3d6483" opacity="0.8"/><rect x="664.5" y="39.7" width="1.5" height="1.5" fill="#6d9dbb" opacity="0.8"/><rect x="657.1" y="19.7" width="0.7" height="0.7" fill="#6d9dbb" opacity="0.8"/><rect x="634.4" y="26.2" width="1.0" height="1.0" fill="#6d9dbb" opacity="0.8"/><rect x="675.1" y="31.2" width="0.9" height="0.9" fill="#3d6483" opacity="0.8"/><rect x="673.1" y="43.4" width="1.3" height="1.3" fill="#86b6d0" opacity="0.8"/><rect x="663.2" y="27.1" width="1.5" height="1.5" fill="#b0d4e4" opacity="0.8"/><rect x="620.8" y="46.8" width="1.0" height="1.0" fill="#6d9dbb" opacity="0.8"/><rect x="647.5" y="30.2" width="1.4" height="1.4" fill="#6d9dbb" opacity="0.8"/><rect x="667.3" y="41.8" width="0.8" height="0.8" fill="#b0d4e4" opacity="0.8"/><rect x="623.7" y="41.6" width="0.6" height="0.6" fill="#a2cade" opacity="0.8"/><rect x="642.8" y="21.9" width="1.4" height="1.4" fill="#6d9dbb" opacity="0.8"/><rect x="636.5" y="46.0" width="0.8" height="0.8" fill="#b0d4e4" opacity="0.8"/><rect x="661.7" y="25.2" width="1.0" height="1.0" fill="#b0d4e4" opacity="0.8"/><rect x="640.2" y="23.5" width="1.1" height="1.1" fill="#34546e" opacity="0.8"/><rect x="666.6" y="50.1" width="0.9" height="0.9" fill="#34546e" opacity="0.8"/><rect x="623.8" y="23.7" width="0.6" height="0.6" fill="#3d6483" opacity="0.8"/><rect x="634.1" y="41.1" width="0.7" height="0.7" fill="#b0d4e4" opacity="0.8"/><rect x="636.8" y="24.5" width="1.0" height="1.0" fill="#34546e" opacity="0.8"/><rect x="645.2" y="31.8" width="0.7" height="0.7" fill="#86b6d0" opacity="0.8"/><rect x="673.1" y="17.2" width="0.7" height="0.7" fill="#a2cade" opacity="0.8"/><rect x="654.2" y="27.5" width="0.8" height="0.8" fill="#3d6483" opacity="0.8"/><rect x="637.6" y="47.6" width="1.2" height="1.2" fill="#b0d4e4" opacity="0.8"/><rect x="621.0" y="25.8" width="0.7" height="0.7" fill="#3d6483" opacity="0.8"/><rect x="673.4" y="18.7" width="0.6" height="0.6" fill="#a2cade" opacity="0.8"/><rect x="621.0" y="26.0" width="0.7" height="0.7" fill="#34546e" opacity="0.8"/><rect x="665.5" y="48.2" width="1.1" height="1.1" fill="#b0d4e4" opacity="0.8"/><rect x="668.2" y="40.5" width="0.9" height="0.9" fill="#8fc0d8" opacity="0.8"/><rect x="636.5" y="32.4" width="1.3" height="1.3" fill="#34546e" opacity="0.8"/><rect x="632.4" y="22.7" width="1.4" height="1.4" fill="#3d6483" opacity="0.8"/><rect x="629.6" y="27.5" width="0.9" height="0.9" fill="#a2cade" opacity="0.8"/><rect x="672.7" y="32.6" width="1.4" height="1.4" fill="#34546e" opacity="0.8"/><rect x="675.3" y="47.4" width="1.1" height="1.1" fill="#a2cade" opacity="0.8"/><rect x="666.1" y="26.5" width="0.7" height="0.7" fill="#86b6d0" opacity="0.8"/><rect x="622.5" y="32.5" width="1.2" height="1.2" fill="#34546e" opacity="0.8"/>
<path d="M619.2,16.9 L632.4,16.9 L632.8,18.9 L633.2,20.9 L635.7,24.9 L638.7,27.9 L641.7,30.4 L643.7,34.4 L644.2,38.9 L646.2,41.9 L648.2,42.9 L648.7,44.9 L645.2,45.9 L641.2,45.4 L637.2,43.9 L634.2,40.9 L631.2,38.4 L627.2,37.4 L623.2,37.9 L621.2,38.9 L619.2,38.9 Z" fill="#c9b1a2"/>
<path d="M648.2,50.9 L649.2,41.9 L651.2,36.9 L653.9,33.6 L656.2,33.6 L657.7,36.9 L657.7,43.9 L659.2,50.9 Z" fill="#c9b1a2"/>
<path d="M624.8,24.7 L628.2,24.1 L630.7,25.7 L630.2,28.7 L626.7,29.2 L624.6,27.5 Z" fill="#527d9c"/>
<path d="M621.2,18.4 L625.2,17.9 L630.2,18.4 L631.0,20.9 L628.2,23.1 L624.2,23.3 L621.7,22.4 L621.0,20.4 Z" fill="#527d9c"/>
<path d="M619.2,25.4 L621.0,25.9 L621.0,30.9 L619.2,31.4 Z" fill="#527d9c"/>
<rect x="667.1" y="48.3" width="1.0" height="1.0" fill="#c6ae9f" opacity="0.9"/><rect x="666.1" y="42.0" width="1.2" height="1.2" fill="#d0baac" opacity="0.9"/><rect x="667.4" y="34.6" width="0.8" height="0.8" fill="#d0baac" opacity="0.9"/><rect x="666.7" y="44.2" width="0.9" height="0.9" fill="#d0baac" opacity="0.9"/><rect x="665.1" y="42.1" width="1.5" height="1.5" fill="#d0baac" opacity="0.9"/><rect x="666.5" y="42.8" width="0.9" height="0.9" fill="#bba293" opacity="0.9"/><rect x="666.0" y="35.3" width="1.5" height="1.5" fill="#d0baac" opacity="0.9"/><rect x="666.9" y="43.7" width="1.6" height="1.6" fill="#bba293" opacity="0.9"/><rect x="667.4" y="28.9" width="1.4" height="1.4" fill="#bba293" opacity="0.9"/><rect x="664.8" y="38.7" width="1.6" height="1.6" fill="#bba293" opacity="0.9"/><rect x="667.2" y="30.1" width="1.0" height="1.0" fill="#d0baac" opacity="0.9"/><rect x="667.8" y="29.5" width="0.9" height="0.9" fill="#d0baac" opacity="0.9"/><rect x="666.8" y="41.9" width="1.5" height="1.5" fill="#bba293" opacity="0.9"/><rect x="666.1" y="46.1" width="1.1" height="1.1" fill="#c6ae9f" opacity="0.9"/><rect x="665.8" y="28.5" width="1.5" height="1.5" fill="#bba293" opacity="0.9"/><rect x="665.7" y="42.8" width="1.6" height="1.6" fill="#bba293" opacity="0.9"/><rect x="667.4" y="35.6" width="1.3" height="1.3" fill="#bba293" opacity="0.9"/><rect x="667.3" y="46.0" width="1.4" height="1.4" fill="#bba293" opacity="0.9"/><rect x="667.3" y="39.4" width="1.3" height="1.3" fill="#d0baac" opacity="0.9"/><rect x="666.9" y="34.3" width="1.3" height="1.3" fill="#c6ae9f" opacity="0.9"/><rect x="664.4" y="36.8" width="1.4" height="1.4" fill="#d0baac" opacity="0.9"/><rect x="666.4" y="33.5" width="1.4" height="1.4" fill="#bba293" opacity="0.9"/><rect x="666.7" y="41.3" width="1.1" height="1.1" fill="#bba293" opacity="0.9"/><rect x="666.3" y="28.9" width="1.6" height="1.6" fill="#c6ae9f" opacity="0.9"/><rect x="665.6" y="34.2" width="1.2" height="1.2" fill="#d0baac" opacity="0.9"/><rect x="667.5" y="50.2" width="1.5" height="1.5" fill="#c6ae9f" opacity="0.9"/><rect x="666.4" y="49.3" width="1.1" height="1.1" fill="#bba293" opacity="0.9"/><rect x="665.0" y="37.5" width="1.6" height="1.6" fill="#bba293" opacity="0.9"/>
<rect x="673.8" y="38.2" width="1.3" height="1.3" fill="#bba293" opacity="0.9"/><rect x="673.6" y="35.6" width="1.3" height="1.3" fill="#bba293" opacity="0.9"/><rect x="671.8" y="35.3" width="1.4" height="1.4" fill="#bba293" opacity="0.9"/><rect x="672.4" y="45.4" width="0.9" height="0.9" fill="#c6ae9f" opacity="0.9"/><rect x="672.1" y="45.8" width="0.9" height="0.9" fill="#d0baac" opacity="0.9"/><rect x="674.7" y="34.5" width="1.5" height="1.5" fill="#c6ae9f" opacity="0.9"/><rect x="674.2" y="23.5" width="1.0" height="1.0" fill="#d0baac" opacity="0.9"/><rect x="672.6" y="34.2" width="1.6" height="1.6" fill="#d0baac" opacity="0.9"/><rect x="671.8" y="50.1" width="1.4" height="1.4" fill="#bba293" opacity="0.9"/><rect x="671.4" y="40.6" width="1.5" height="1.5" fill="#bba293" opacity="0.9"/><rect x="672.8" y="24.9" width="0.9" height="0.9" fill="#d0baac" opacity="0.9"/><rect x="672.9" y="45.8" width="0.9" height="0.9" fill="#c6ae9f" opacity="0.9"/><rect x="672.9" y="34.1" width="1.2" height="1.2" fill="#c6ae9f" opacity="0.9"/><rect x="673.3" y="28.6" width="1.5" height="1.5" fill="#bba293" opacity="0.9"/><rect x="673.3" y="32.8" width="1.7" height="1.7" fill="#c6ae9f" opacity="0.9"/><rect x="672.0" y="50.0" width="1.3" height="1.3" fill="#d0baac" opacity="0.9"/><rect x="672.6" y="29.5" width="0.9" height="0.9" fill="#bba293" opacity="0.9"/><rect x="672.4" y="32.5" width="1.7" height="1.7" fill="#c6ae9f" opacity="0.9"/><rect x="673.5" y="28.3" width="1.1" height="1.1" fill="#d0baac" opacity="0.9"/><rect x="671.7" y="36.0" width="1.3" height="1.3" fill="#bba293" opacity="0.9"/><rect x="674.7" y="35.0" width="1.4" height="1.4" fill="#bba293" opacity="0.9"/><rect x="672.0" y="38.8" width="1.2" height="1.2" fill="#d0baac" opacity="0.9"/><rect x="672.0" y="23.6" width="1.7" height="1.7" fill="#c6ae9f" opacity="0.9"/><rect x="674.6" y="33.2" width="0.9" height="0.9" fill="#c6ae9f" opacity="0.9"/><rect x="674.9" y="41.4" width="1.2" height="1.2" fill="#bba293" opacity="0.9"/><rect x="673.9" y="34.5" width="1.4" height="1.4" fill="#d0baac" opacity="0.9"/><rect x="674.1" y="27.7" width="1.4" height="1.4" fill="#bba293" opacity="0.9"/><rect x="673.9" y="45.3" width="1.7" height="1.7" fill="#d0baac" opacity="0.9"/><rect x="674.3" y="36.1" width="1.3" height="1.3" fill="#bba293" opacity="0.9"/><rect x="673.7" y="24.9" width="0.9" height="0.9" fill="#d0baac" opacity="0.9"/>
<rect x="678.0" y="46.5" width="1.0" height="1.0" fill="#bba293" opacity="0.9"/><rect x="679.0" y="30.0" width="1.1" height="1.1" fill="#c6ae9f" opacity="0.9"/><rect x="678.0" y="28.0" width="1.5" height="1.5" fill="#d0baac" opacity="0.9"/><rect x="678.2" y="34.9" width="0.9" height="0.9" fill="#c6ae9f" opacity="0.9"/><rect x="679.0" y="30.1" width="1.1" height="1.1" fill="#c6ae9f" opacity="0.9"/><rect x="678.1" y="39.1" width="1.1" height="1.1" fill="#d0baac" opacity="0.9"/><rect x="678.5" y="34.5" width="1.2" height="1.2" fill="#d0baac" opacity="0.9"/><rect x="677.5" y="39.1" width="1.5" height="1.5" fill="#c6ae9f" opacity="0.9"/><rect x="679.3" y="46.2" width="1.3" height="1.3" fill="#d0baac" opacity="0.9"/><rect x="678.7" y="44.4" width="1.7" height="1.7" fill="#bba293" opacity="0.9"/><rect x="678.1" y="37.6" width="1.5" height="1.5" fill="#c6ae9f" opacity="0.9"/><rect x="677.7" y="48.5" width="0.8" height="0.8" fill="#c6ae9f" opacity="0.9"/>
<rect x="662.9" y="50.0" width="0.9" height="0.9" fill="#bba293" opacity="0.9"/><rect x="661.1" y="43.6" width="1.7" height="1.7" fill="#d0baac" opacity="0.9"/><rect x="662.9" y="48.5" width="1.2" height="1.2" fill="#d0baac" opacity="0.9"/><rect x="661.9" y="50.7" width="1.4" height="1.4" fill="#d0baac" opacity="0.9"/><rect x="660.3" y="48.9" width="1.6" height="1.6" fill="#d0baac" opacity="0.9"/><rect x="662.1" y="41.3" width="1.6" height="1.6" fill="#d0baac" opacity="0.9"/><rect x="661.5" y="42.9" width="1.0" height="1.0" fill="#bba293" opacity="0.9"/><rect x="662.6" y="41.6" width="1.6" height="1.6" fill="#c6ae9f" opacity="0.9"/>
<rect x="620.6" y="37.2" width="0.9" height="0.9" fill="#d3bcae" opacity="0.6"/><rect x="624.8" y="41.5" width="0.8" height="0.8" fill="#cfb8aa" opacity="0.6"/><rect x="632.3" y="34.5" width="1.1" height="1.1" fill="#bba293" opacity="0.6"/><rect x="627.7" y="42.3" width="0.8" height="0.8" fill="#d3bcae" opacity="0.6"/><rect x="620.7" y="41.7" width="1.5" height="1.5" fill="#cfb8aa" opacity="0.6"/><rect x="632.5" y="42.7" width="1.1" height="1.1" fill="#cfb8aa" opacity="0.6"/><rect x="620.5" y="30.3" width="1.2" height="1.2" fill="#b49c8e" opacity="0.6"/><rect x="643.3" y="21.5" width="1.5" height="1.5" fill="#cfb8aa" opacity="0.6"/><rect x="633.8" y="37.5" width="1.1" height="1.1" fill="#cfb8aa" opacity="0.6"/><rect x="628.9" y="26.5" width="1.1" height="1.1" fill="#bba293" opacity="0.6"/><rect x="635.7" y="39.8" width="0.9" height="0.9" fill="#bba293" opacity="0.6"/><rect x="634.0" y="39.5" width="1.3" height="1.3" fill="#bba293" opacity="0.6"/><rect x="636.4" y="36.1" width="1.1" height="1.1" fill="#d3bcae" opacity="0.6"/><rect x="642.0" y="33.5" width="0.8" height="0.8" fill="#b49c8e" opacity="0.6"/><rect x="631.3" y="26.3" width="0.9" height="0.9" fill="#cfb8aa" opacity="0.6"/><rect x="641.5" y="28.2" width="1.1" height="1.1" fill="#bba293" opacity="0.6"/><rect x="630.2" y="24.3" width="1.2" height="1.2" fill="#d3bcae" opacity="0.6"/><rect x="644.6" y="34.7" width="1.6" height="1.6" fill="#bba293" opacity="0.6"/><rect x="642.5" y="31.7" width="0.7" height="0.7" fill="#cfb8aa" opacity="0.6"/><rect x="623.3" y="37.6" width="0.8" height="0.8" fill="#d3bcae" opacity="0.6"/><rect x="637.0" y="27.6" width="1.1" height="1.1" fill="#cfb8aa" opacity="0.6"/><rect x="628.0" y="24.0" width="1.0" height="1.0" fill="#b49c8e" opacity="0.6"/><rect x="644.7" y="33.2" width="1.0" height="1.0" fill="#d3bcae" opacity="0.6"/><rect x="622.0" y="27.9" width="1.3" height="1.3" fill="#d3bcae" opacity="0.6"/><rect x="632.1" y="39.4" width="1.6" height="1.6" fill="#d3bcae" opacity="0.6"/><rect x="629.2" y="39.0" width="0.8" height="0.8" fill="#cfb8aa" opacity="0.6"/><rect x="639.9" y="41.1" width="1.4" height="1.4" fill="#bba293" opacity="0.6"/><rect x="635.3" y="39.2" width="1.1" height="1.1" fill="#d3bcae" opacity="0.6"/><rect x="642.1" y="23.9" width="1.2" height="1.2" fill="#cfb8aa" opacity="0.6"/><rect x="640.7" y="29.8" width="0.9" height="0.9" fill="#cfb8aa" opacity="0.6"/><rect x="638.7" y="22.6" width="1.0" height="1.0" fill="#d3bcae" opacity="0.6"/><rect x="640.7" y="30.1" width="1.2" height="1.2" fill="#bba293" opacity="0.6"/><rect x="637.8" y="36.1" width="1.6" height="1.6" fill="#b49c8e" opacity="0.6"/><rect x="635.1" y="20.4" width="0.9" height="0.9" fill="#bba293" opacity="0.6"/><rect x="626.7" y="25.0" width="1.2" height="1.2" fill="#b49c8e" opacity="0.6"/><rect x="635.0" y="39.7" width="0.8" height="0.8" fill="#d3bcae" opacity="0.6"/><rect x="626.5" y="31.8" width="0.7" height="0.7" fill="#bba293" opacity="0.6"/><rect x="635.1" y="29.5" width="1.5" height="1.5" fill="#d3bcae" opacity="0.6"/><rect x="635.0" y="38.1" width="1.0" height="1.0" fill="#d3bcae" opacity="0.6"/><rect x="642.4" y="34.7" width="1.5" height="1.5" fill="#bba293" opacity="0.6"/><rect x="626.8" y="22.7" width="1.3" height="1.3" fill="#b49c8e" opacity="0.6"/><rect x="622.2" y="29.3" width="1.3" height="1.3" fill="#d3bcae" opacity="0.6"/><rect x="629.6" y="38.0" width="1.1" height="1.1" fill="#bba293" opacity="0.6"/><rect x="634.1" y="34.4" width="0.8" height="0.8" fill="#bba293" opacity="0.6"/><rect x="635.6" y="23.9" width="1.6" height="1.6" fill="#b49c8e" opacity="0.6"/><rect x="625.5" y="20.9" width="0.9" height="0.9" fill="#cfb8aa" opacity="0.6"/><rect x="628.5" y="33.7" width="1.3" height="1.3" fill="#b49c8e" opacity="0.6"/><rect x="631.7" y="35.0" width="1.2" height="1.2" fill="#cfb8aa" opacity="0.6"/><rect x="627.9" y="25.2" width="1.1" height="1.1" fill="#b49c8e" opacity="0.6"/><rect x="623.7" y="35.2" width="0.7" height="0.7" fill="#cfb8aa" opacity="0.6"/><rect x="625.0" y="36.0" width="1.4" height="1.4" fill="#cfb8aa" opacity="0.6"/><rect x="638.0" y="26.0" width="1.6" height="1.6" fill="#b49c8e" opacity="0.6"/><rect x="635.8" y="41.7" width="1.5" height="1.5" fill="#b49c8e" opacity="0.6"/><rect x="645.4" y="21.8" width="1.3" height="1.3" fill="#d3bcae" opacity="0.6"/><rect x="626.9" y="22.2" width="1.2" height="1.2" fill="#b49c8e" opacity="0.6"/><rect x="640.6" y="31.0" width="0.9" height="0.9" fill="#d3bcae" opacity="0.6"/><rect x="620.5" y="36.5" width="1.3" height="1.3" fill="#cfb8aa" opacity="0.6"/><rect x="630.2" y="41.9" width="0.7" height="0.7" fill="#b49c8e" opacity="0.6"/><rect x="644.1" y="38.3" width="0.8" height="0.8" fill="#d3bcae" opacity="0.6"/><rect x="622.5" y="37.9" width="0.9" height="0.9" fill="#b49c8e" opacity="0.6"/><rect x="638.2" y="40.0" width="0.8" height="0.8" fill="#cfb8aa" opacity="0.6"/><rect x="643.5" y="31.4" width="0.8" height="0.8" fill="#bba293" opacity="0.6"/><rect x="622.5" y="22.9" width="0.8" height="0.8" fill="#d3bcae" opacity="0.6"/><rect x="640.4" y="30.8" width="0.8" height="0.8" fill="#bba293" opacity="0.6"/><rect x="629.4" y="31.5" width="1.1" height="1.1" fill="#cfb8aa" opacity="0.6"/><rect x="637.9" y="37.8" width="1.2" height="1.2" fill="#cfb8aa" opacity="0.6"/><rect x="621.0" y="38.4" width="1.4" height="1.4" fill="#b49c8e" opacity="0.6"/><rect x="631.6" y="41.2" width="0.8" height="0.8" fill="#cfb8aa" opacity="0.6"/><rect x="639.4" y="34.2" width="1.3" height="1.3" fill="#cfb8aa" opacity="0.6"/><rect x="645.4" y="20.6" width="0.9" height="0.9" fill="#d3bcae" opacity="0.6"/>
<rect x="670.2" y="18.099999999999998" width="7.3" height="2.8" fill="#fff"/><rect x="671.5" y="19.299999999999997" width="4.7" height="0.6" fill="#555"/>
</g></g>
<clipPath id="i2"><rect x="619.5" y="86.0" width="59.2" height="33.9"/></clipPath><g clip-path="url(#i2)"><g filter="url(#bl)">
<rect x="619.5" y="86.0" width="59.2" height="33.9" fill="#97abb7"/>
<rect x="650.1" y="105.4" width="0.9" height="0.9" fill="#a8bcc8" opacity="0.75"/><rect x="673.7" y="96.9" width="1.2" height="1.2" fill="#c4d4dc" opacity="0.75"/><rect x="626.1" y="105.3" width="1.5" height="1.5" fill="#d0dce2" opacity="0.75"/><rect x="633.3" y="98.5" width="1.4" height="1.4" fill="#d0dce2" opacity="0.75"/><rect x="677.1" y="112.1" width="0.9" height="0.9" fill="#8a9298" opacity="0.75"/><rect x="638.9" y="103.9" width="1.0" height="1.0" fill="#b2c6d2" opacity="0.75"/><rect x="666.3" y="94.7" width="0.8" height="0.8" fill="#8a9298" opacity="0.75"/><rect x="664.5" y="92.9" width="1.1" height="1.1" fill="#a8bcc8" opacity="0.75"/><rect x="634.9" y="87.0" width="1.5" height="1.5" fill="#d0dce2" opacity="0.75"/><rect x="655.7" y="107.3" width="1.3" height="1.3" fill="#b2c6d2" opacity="0.75"/><rect x="622.0" y="87.3" width="1.3" height="1.3" fill="#a8bcc8" opacity="0.75"/><rect x="620.4" y="86.4" width="1.6" height="1.6" fill="#7f95a3" opacity="0.75"/><rect x="638.7" y="110.3" width="0.9" height="0.9" fill="#b2c6d2" opacity="0.75"/><rect x="672.7" y="92.7" width="1.1" height="1.1" fill="#c4d4dc" opacity="0.75"/><rect x="649.0" y="110.1" width="1.1" height="1.1" fill="#d0dce2" opacity="0.75"/><rect x="632.7" y="109.1" width="0.7" height="0.7" fill="#a8bcc8" opacity="0.75"/><rect x="630.6" y="88.1" width="0.8" height="0.8" fill="#a8bcc8" opacity="0.75"/><rect x="647.0" y="112.6" width="1.8" height="1.8" fill="#d0dce2" opacity="0.75"/><rect x="630.5" y="112.1" width="1.8" height="1.8" fill="#b2c6d2" opacity="0.75"/><rect x="624.1" y="101.7" width="1.3" height="1.3" fill="#c4d4dc" opacity="0.75"/><rect x="660.2" y="105.4" width="1.0" height="1.0" fill="#8a9298" opacity="0.75"/><rect x="639.6" y="101.9" width="0.9" height="0.9" fill="#b2c6d2" opacity="0.75"/><rect x="637.2" y="116.0" width="1.2" height="1.2" fill="#c4d4dc" opacity="0.75"/><rect x="658.9" y="98.0" width="1.3" height="1.3" fill="#b2c6d2" opacity="0.75"/><rect x="642.7" y="89.9" width="1.5" height="1.5" fill="#b2c6d2" opacity="0.75"/><rect x="678.0" y="86.2" width="1.3" height="1.3" fill="#a8bcc8" opacity="0.75"/><rect x="644.7" y="100.7" width="1.5" height="1.5" fill="#c4d4dc" opacity="0.75"/><rect x="643.2" y="90.5" width="1.3" height="1.3" fill="#c4d4dc" opacity="0.75"/><rect x="645.4" y="87.4" width="1.0" height="1.0" fill="#7f95a3" opacity="0.75"/><rect x="651.0" y="89.1" width="1.4" height="1.4" fill="#7f95a3" opacity="0.75"/><rect x="667.9" y="97.3" width="0.8" height="0.8" fill="#d0dce2" opacity="0.75"/><rect x="664.7" y="104.0" width="0.8" height="0.8" fill="#b2c6d2" opacity="0.75"/><rect x="629.4" y="114.2" width="1.4" height="1.4" fill="#a8bcc8" opacity="0.75"/><rect x="627.8" y="119.6" width="1.0" height="1.0" fill="#d0dce2" opacity="0.75"/><rect x="640.5" y="93.9" width="1.7" height="1.7" fill="#7f95a3" opacity="0.75"/><rect x="652.3" y="100.0" width="1.5" height="1.5" fill="#a8bcc8" opacity="0.75"/><rect x="647.2" y="101.7" width="0.9" height="0.9" fill="#c4d4dc" opacity="0.75"/><rect x="623.4" y="116.8" width="1.7" height="1.7" fill="#d0dce2" opacity="0.75"/><rect x="650.5" y="91.5" width="0.9" height="0.9" fill="#d0dce2" opacity="0.75"/><rect x="661.0" y="98.3" width="1.8" height="1.8" fill="#b2c6d2" opacity="0.75"/><rect x="639.7" y="97.2" width="1.4" height="1.4" fill="#8a9298" opacity="0.75"/><rect x="650.7" y="90.1" width="0.9" height="0.9" fill="#8a9298" opacity="0.75"/><rect x="661.8" y="112.0" width="1.8" height="1.8" fill="#b2c6d2" opacity="0.75"/><rect x="665.8" y="108.9" width="1.3" height="1.3" fill="#a8bcc8" opacity="0.75"/><rect x="667.3" y="92.9" width="0.9" height="0.9" fill="#7f95a3" opacity="0.75"/><rect x="642.3" y="118.2" width="1.6" height="1.6" fill="#c4d4dc" opacity="0.75"/><rect x="663.6" y="116.2" width="1.1" height="1.1" fill="#8a9298" opacity="0.75"/><rect x="673.2" y="92.3" width="1.1" height="1.1" fill="#8a9298" opacity="0.75"/><rect x="637.7" y="92.5" width="1.7" height="1.7" fill="#a8bcc8" opacity="0.75"/><rect x="670.9" y="106.2" width="0.8" height="0.8" fill="#7f95a3" opacity="0.75"/><rect x="645.2" y="112.4" width="1.1" height="1.1" fill="#d0dce2" opacity="0.75"/><rect x="625.0" y="102.1" width="1.7" height="1.7" fill="#c4d4dc" opacity="0.75"/><rect x="620.6" y="116.1" width="1.4" height="1.4" fill="#a8bcc8" opacity="0.75"/><rect x="672.7" y="117.4" width="1.8" height="1.8" fill="#c4d4dc" opacity="0.75"/><rect x="646.9" y="100.0" width="1.4" height="1.4" fill="#b2c6d2" opacity="0.75"/><rect x="640.2" y="97.3" width="1.1" height="1.1" fill="#8a9298" opacity="0.75"/><rect x="620.7" y="114.5" width="1.2" height="1.2" fill="#7f95a3" opacity="0.75"/><rect x="657.0" y="113.4" width="1.5" height="1.5" fill="#7f95a3" opacity="0.75"/><rect x="639.2" y="96.0" width="1.1" height="1.1" fill="#c4d4dc" opacity="0.75"/><rect x="667.5" y="86.3" width="1.4" height="1.4" fill="#a8bcc8" opacity="0.75"/><rect x="669.5" y="105.0" width="1.1" height="1.1" fill="#c4d4dc" opacity="0.75"/><rect x="650.0" y="107.3" width="0.8" height="0.8" fill="#7f95a3" opacity="0.75"/><rect x="666.4" y="104.7" width="1.0" height="1.0" fill="#7f95a3" opacity="0.75"/><rect x="643.1" y="112.3" width="1.0" height="1.0" fill="#8a9298" opacity="0.75"/><rect x="652.0" y="92.4" width="1.0" height="1.0" fill="#b2c6d2" opacity="0.75"/><rect x="628.0" y="111.8" width="1.2" height="1.2" fill="#c4d4dc" opacity="0.75"/><rect x="640.0" y="105.8" width="1.0" height="1.0" fill="#b2c6d2" opacity="0.75"/><rect x="653.1" y="106.9" width="1.2" height="1.2" fill="#7f95a3" opacity="0.75"/><rect x="663.5" y="115.4" width="1.8" height="1.8" fill="#7f95a3" opacity="0.75"/><rect x="676.6" y="117.8" width="1.4" height="1.4" fill="#a8bcc8" opacity="0.75"/><rect x="627.5" y="107.7" width="1.3" height="1.3" fill="#8a9298" opacity="0.75"/><rect x="635.5" y="119.7" width="1.1" height="1.1" fill="#d0dce2" opacity="0.75"/><rect x="678.7" y="95.4" width="1.2" height="1.2" fill="#d0dce2" opacity="0.75"/><rect x="634.9" y="99.8" width="1.4" height="1.4" fill="#d0dce2" opacity="0.75"/><rect x="664.1" y="117.1" width="1.3" height="1.3" fill="#7f95a3" opacity="0.75"/><rect x="636.2" y="106.6" width="1.5" height="1.5" fill="#8a9298" opacity="0.75"/><rect x="624.4" y="112.7" width="1.6" height="1.6" fill="#7f95a3" opacity="0.75"/><rect x="674.2" y="109.7" width="1.1" height="1.1" fill="#a8bcc8" opacity="0.75"/><rect x="667.3" y="103.6" width="1.5" height="1.5" fill="#7f95a3" opacity="0.75"/><rect x="660.7" y="112.4" width="1.6" height="1.6" fill="#8a9298" opacity="0.75"/><rect x="631.4" y="87.3" width="0.8" height="0.8" fill="#7f95a3" opacity="0.75"/><rect x="676.7" y="101.1" width="1.7" height="1.7" fill="#7f95a3" opacity="0.75"/><rect x="636.9" y="90.8" width="1.1" height="1.1" fill="#7f95a3" opacity="0.75"/><rect x="676.8" y="104.3" width="1.1" height="1.1" fill="#8a9298" opacity="0.75"/><rect x="666.1" y="100.4" width="1.0" height="1.0" fill="#8a9298" opacity="0.75"/><rect x="624.4" y="112.3" width="1.7" height="1.7" fill="#d0dce2" opacity="0.75"/><rect x="625.6" y="112.5" width="0.7" height="0.7" fill="#b2c6d2" opacity="0.75"/><rect x="636.8" y="119.9" width="0.8" height="0.8" fill="#b2c6d2" opacity="0.75"/><rect x="646.5" y="101.0" width="0.9" height="0.9" fill="#c4d4dc" opacity="0.75"/><rect x="633.5" y="116.6" width="1.3" height="1.3" fill="#8a9298" opacity="0.75"/><rect x="661.7" y="111.2" width="1.4" height="1.4" fill="#c4d4dc" opacity="0.75"/><rect x="671.7" y="90.8" width="0.8" height="0.8" fill="#d0dce2" opacity="0.75"/><rect x="646.4" y="89.6" width="1.3" height="1.3" fill="#d0dce2" opacity="0.75"/><rect x="650.0" y="91.7" width="0.8" height="0.8" fill="#8a9298" opacity="0.75"/><rect x="651.0" y="111.2" width="1.6" height="1.6" fill="#d0dce2" opacity="0.75"/><rect x="647.0" y="115.7" width="1.3" height="1.3" fill="#d0dce2" opacity="0.75"/><rect x="659.9" y="86.1" width="1.2" height="1.2" fill="#8a9298" opacity="0.75"/><rect x="632.1" y="96.2" width="1.3" height="1.3" fill="#b2c6d2" opacity="0.75"/><rect x="624.0" y="110.1" width="1.1" height="1.1" fill="#a8bcc8" opacity="0.75"/><rect x="676.1" y="108.4" width="1.1" height="1.1" fill="#c4d4dc" opacity="0.75"/><rect x="626.8" y="102.6" width="1.5" height="1.5" fill="#a8bcc8" opacity="0.75"/><rect x="637.8" y="89.8" width="0.9" height="0.9" fill="#a8bcc8" opacity="0.75"/><rect x="666.3" y="91.4" width="1.8" height="1.8" fill="#a8bcc8" opacity="0.75"/><rect x="643.4" y="92.4" width="1.2" height="1.2" fill="#d0dce2" opacity="0.75"/><rect x="675.9" y="90.0" width="1.0" height="1.0" fill="#7f95a3" opacity="0.75"/><rect x="662.4" y="118.2" width="1.3" height="1.3" fill="#b2c6d2" opacity="0.75"/><rect x="637.1" y="118.7" width="1.3" height="1.3" fill="#b2c6d2" opacity="0.75"/><rect x="641.6" y="90.9" width="0.8" height="0.8" fill="#8a9298" opacity="0.75"/><rect x="635.3" y="100.7" width="1.5" height="1.5" fill="#8a9298" opacity="0.75"/><rect x="635.4" y="116.5" width="1.3" height="1.3" fill="#7f95a3" opacity="0.75"/><rect x="655.2" y="113.8" width="1.4" height="1.4" fill="#d0dce2" opacity="0.75"/><rect x="675.9" y="91.5" width="0.9" height="0.9" fill="#c4d4dc" opacity="0.75"/><rect x="657.9" y="105.8" width="1.0" height="1.0" fill="#b2c6d2" opacity="0.75"/><rect x="625.4" y="102.1" width="1.7" height="1.7" fill="#d0dce2" opacity="0.75"/><rect x="672.5" y="106.5" width="1.6" height="1.6" fill="#d0dce2" opacity="0.75"/><rect x="633.3" y="115.1" width="1.4" height="1.4" fill="#a8bcc8" opacity="0.75"/><rect x="654.8" y="118.3" width="1.3" height="1.3" fill="#d0dce2" opacity="0.75"/><rect x="644.5" y="104.8" width="1.7" height="1.7" fill="#c4d4dc" opacity="0.75"/><rect x="669.4" y="99.5" width="1.2" height="1.2" fill="#a8bcc8" opacity="0.75"/><rect x="657.3" y="113.2" width="0.9" height="0.9" fill="#b2c6d2" opacity="0.75"/><rect x="657.1" y="90.8" width="1.6" height="1.6" fill="#d0dce2" opacity="0.75"/><rect x="674.8" y="95.6" width="0.9" height="0.9" fill="#d0dce2" opacity="0.75"/><rect x="653.3" y="88.0" width="1.6" height="1.6" fill="#8a9298" opacity="0.75"/><rect x="627.4" y="91.0" width="1.5" height="1.5" fill="#c4d4dc" opacity="0.75"/><rect x="622.4" y="100.3" width="0.9" height="0.9" fill="#7f95a3" opacity="0.75"/><rect x="622.7" y="92.7" width="1.5" height="1.5" fill="#d0dce2" opacity="0.75"/><rect x="650.0" y="89.9" width="1.8" height="1.8" fill="#7f95a3" opacity="0.75"/><rect x="644.3" y="111.1" width="1.2" height="1.2" fill="#7f95a3" opacity="0.75"/><rect x="668.6" y="104.2" width="1.0" height="1.0" fill="#a8bcc8" opacity="0.75"/><rect x="669.2" y="95.5" width="1.4" height="1.4" fill="#a8bcc8" opacity="0.75"/><rect x="653.8" y="109.5" width="1.1" height="1.1" fill="#7f95a3" opacity="0.75"/><rect x="658.8" y="114.7" width="1.2" height="1.2" fill="#c4d4dc" opacity="0.75"/><rect x="627.6" y="113.3" width="1.3" height="1.3" fill="#a8bcc8" opacity="0.75"/><rect x="625.5" y="112.6" width="1.1" height="1.1" fill="#d0dce2" opacity="0.75"/><rect x="672.2" y="94.4" width="0.7" height="0.7" fill="#c4d4dc" opacity="0.75"/><rect x="662.4" y="110.4" width="1.6" height="1.6" fill="#c4d4dc" opacity="0.75"/><rect x="632.0" y="106.1" width="0.8" height="0.8" fill="#d0dce2" opacity="0.75"/><rect x="622.2" y="107.3" width="1.7" height="1.7" fill="#c4d4dc" opacity="0.75"/><rect x="655.1" y="106.4" width="1.7" height="1.7" fill="#8a9298" opacity="0.75"/><rect x="652.5" y="113.4" width="0.9" height="0.9" fill="#c4d4dc" opacity="0.75"/><rect x="661.1" y="88.6" width="1.1" height="1.1" fill="#7f95a3" opacity="0.75"/><rect x="645.1" y="92.9" width="0.8" height="0.8" fill="#c4d4dc" opacity="0.75"/><rect x="645.8" y="99.2" width="1.5" height="1.5" fill="#a8bcc8" opacity="0.75"/><rect x="657.1" y="87.5" width="1.2" height="1.2" fill="#b2c6d2" opacity="0.75"/><rect x="620.7" y="116.9" width="1.2" height="1.2" fill="#d0dce2" opacity="0.75"/><rect x="623.7" y="112.7" width="1.0" height="1.0" fill="#7f95a3" opacity="0.75"/><rect x="647.3" y="110.5" width="1.6" height="1.6" fill="#a8bcc8" opacity="0.75"/><rect x="623.1" y="119.4" width="1.0" height="1.0" fill="#7f95a3" opacity="0.75"/><rect x="622.0" y="107.0" width="1.7" height="1.7" fill="#a8bcc8" opacity="0.75"/><rect x="622.2" y="109.0" width="1.3" height="1.3" fill="#b2c6d2" opacity="0.75"/><rect x="634.8" y="95.0" width="1.5" height="1.5" fill="#7f95a3" opacity="0.75"/><rect x="633.7" y="98.3" width="1.6" height="1.6" fill="#b2c6d2" opacity="0.75"/><rect x="638.1" y="87.8" width="1.5" height="1.5" fill="#8a9298" opacity="0.75"/><rect x="627.0" y="110.7" width="1.4" height="1.4" fill="#d0dce2" opacity="0.75"/><rect x="641.3" y="105.6" width="1.3" height="1.3" fill="#a8bcc8" opacity="0.75"/><rect x="675.8" y="97.6" width="0.8" height="0.8" fill="#d0dce2" opacity="0.75"/><rect x="641.1" y="106.3" width="1.0" height="1.0" fill="#8a9298" opacity="0.75"/><rect x="632.1" y="114.8" width="1.5" height="1.5" fill="#b2c6d2" opacity="0.75"/><rect x="626.9" y="96.2" width="1.0" height="1.0" fill="#d0dce2" opacity="0.75"/><rect x="669.2" y="95.8" width="1.3" height="1.3" fill="#b2c6d2" opacity="0.75"/><rect x="642.1" y="88.4" width="0.7" height="0.7" fill="#a8bcc8" opacity="0.75"/><rect x="656.7" y="102.7" width="0.9" height="0.9" fill="#d0dce2" opacity="0.75"/><rect x="639.7" y="103.2" width="0.9" height="0.9" fill="#c4d4dc" opacity="0.75"/><rect x="669.2" y="92.0" width="1.7" height="1.7" fill="#a8bcc8" opacity="0.75"/><rect x="649.6" y="119.1" width="1.8" height="1.8" fill="#8a9298" opacity="0.75"/><rect x="659.9" y="94.2" width="1.4" height="1.4" fill="#b2c6d2" opacity="0.75"/><rect x="672.2" y="101.5" width="1.4" height="1.4" fill="#7f95a3" opacity="0.75"/><rect x="630.6" y="100.4" width="1.0" height="1.0" fill="#d0dce2" opacity="0.75"/><rect x="648.1" y="111.9" width="0.9" height="0.9" fill="#7f95a3" opacity="0.75"/><rect x="649.3" y="99.1" width="1.6" height="1.6" fill="#a8bcc8" opacity="0.75"/><rect x="640.2" y="113.1" width="0.8" height="0.8" fill="#b2c6d2" opacity="0.75"/><rect x="625.9" y="114.7" width="1.4" height="1.4" fill="#7f95a3" opacity="0.75"/><rect x="632.1" y="98.6" width="0.8" height="0.8" fill="#b2c6d2" opacity="0.75"/><rect x="672.4" y="116.3" width="1.4" height="1.4" fill="#8a9298" opacity="0.75"/><rect x="635.2" y="101.5" width="1.4" height="1.4" fill="#d0dce2" opacity="0.75"/><rect x="622.9" y="103.8" width="0.8" height="0.8" fill="#7f95a3" opacity="0.75"/><rect x="633.4" y="113.7" width="1.4" height="1.4" fill="#a8bcc8" opacity="0.75"/><rect x="659.7" y="108.3" width="1.0" height="1.0" fill="#d0dce2" opacity="0.75"/><rect x="661.4" y="90.3" width="0.7" height="0.7" fill="#b2c6d2" opacity="0.75"/><rect x="628.8" y="109.6" width="1.0" height="1.0" fill="#7f95a3" opacity="0.75"/><rect x="621.5" y="112.3" width="1.7" height="1.7" fill="#b2c6d2" opacity="0.75"/><rect x="676.0" y="112.5" width="1.7" height="1.7" fill="#d0dce2" opacity="0.75"/><rect x="659.3" y="112.6" width="1.6" height="1.6" fill="#7f95a3" opacity="0.75"/><rect x="638.4" y="106.9" width="1.1" height="1.1" fill="#b2c6d2" opacity="0.75"/><rect x="671.2" y="87.8" width="0.8" height="0.8" fill="#8a9298" opacity="0.75"/><rect x="639.8" y="114.2" width="0.7" height="0.7" fill="#c4d4dc" opacity="0.75"/><rect x="668.5" y="119.0" width="0.8" height="0.8" fill="#7f95a3" opacity="0.75"/><rect x="658.6" y="90.5" width="1.6" height="1.6" fill="#8a9298" opacity="0.75"/><rect x="626.6" y="99.0" width="1.0" height="1.0" fill="#7f95a3" opacity="0.75"/><rect x="628.1" y="98.8" width="1.3" height="1.3" fill="#7f95a3" opacity="0.75"/><rect x="647.0" y="103.7" width="1.7" height="1.7" fill="#c4d4dc" opacity="0.75"/><rect x="626.2" y="110.9" width="1.6" height="1.6" fill="#8a9298" opacity="0.75"/><rect x="673.3" y="99.3" width="1.7" height="1.7" fill="#d0dce2" opacity="0.75"/><rect x="647.2" y="103.2" width="1.2" height="1.2" fill="#a8bcc8" opacity="0.75"/><rect x="660.4" y="104.0" width="1.7" height="1.7" fill="#c4d4dc" opacity="0.75"/><rect x="622.6" y="91.3" width="1.2" height="1.2" fill="#7f95a3" opacity="0.75"/><rect x="647.4" y="113.6" width="1.3" height="1.3" fill="#b2c6d2" opacity="0.75"/><rect x="637.4" y="104.2" width="1.6" height="1.6" fill="#c4d4dc" opacity="0.75"/><rect x="661.5" y="107.7" width="1.0" height="1.0" fill="#b2c6d2" opacity="0.75"/><rect x="634.0" y="88.2" width="1.5" height="1.5" fill="#a8bcc8" opacity="0.75"/><rect x="658.0" y="119.5" width="1.5" height="1.5" fill="#a8bcc8" opacity="0.75"/><rect x="621.2" y="100.6" width="1.1" height="1.1" fill="#c4d4dc" opacity="0.75"/><rect x="650.0" y="98.7" width="0.8" height="0.8" fill="#8a9298" opacity="0.75"/><rect x="640.7" y="106.0" width="0.9" height="0.9" fill="#b2c6d2" opacity="0.75"/><rect x="630.1" y="93.9" width="1.5" height="1.5" fill="#8a9298" opacity="0.75"/><rect x="648.3" y="87.8" width="1.7" height="1.7" fill="#d0dce2" opacity="0.75"/><rect x="670.9" y="96.2" width="0.7" height="0.7" fill="#b2c6d2" opacity="0.75"/><rect x="629.5" y="98.9" width="1.1" height="1.1" fill="#7f95a3" opacity="0.75"/><rect x="637.9" y="117.0" width="1.1" height="1.1" fill="#d0dce2" opacity="0.75"/><rect x="653.5" y="116.1" width="1.0" height="1.0" fill="#b2c6d2" opacity="0.75"/><rect x="649.5" y="98.8" width="1.4" height="1.4" fill="#7f95a3" opacity="0.75"/><rect x="634.6" y="118.6" width="1.6" height="1.6" fill="#c4d4dc" opacity="0.75"/><rect x="661.1" y="108.2" width="1.7" height="1.7" fill="#a8bcc8" opacity="0.75"/><rect x="645.6" y="107.1" width="0.8" height="0.8" fill="#b2c6d2" opacity="0.75"/><rect x="678.4" y="109.3" width="1.5" height="1.5" fill="#c4d4dc" opacity="0.75"/><rect x="653.7" y="117.0" width="1.1" height="1.1" fill="#8a9298" opacity="0.75"/><rect x="674.1" y="103.2" width="1.6" height="1.6" fill="#7f95a3" opacity="0.75"/><rect x="647.7" y="104.9" width="1.3" height="1.3" fill="#c4d4dc" opacity="0.75"/><rect x="674.2" y="101.5" width="1.7" height="1.7" fill="#8a9298" opacity="0.75"/><rect x="632.0" y="92.0" width="0.9" height="0.9" fill="#b2c6d2" opacity="0.75"/><rect x="654.2" y="89.5" width="1.4" height="1.4" fill="#7f95a3" opacity="0.75"/><rect x="674.1" y="87.9" width="1.0" height="1.0" fill="#8a9298" opacity="0.75"/><rect x="645.6" y="86.5" width="1.4" height="1.4" fill="#b2c6d2" opacity="0.75"/><rect x="644.8" y="91.3" width="0.8" height="0.8" fill="#7f95a3" opacity="0.75"/><rect x="671.8" y="106.3" width="1.1" height="1.1" fill="#b2c6d2" opacity="0.75"/><rect x="626.4" y="99.5" width="0.8" height="0.8" fill="#8a9298" opacity="0.75"/><rect x="666.5" y="115.9" width="1.0" height="1.0" fill="#b2c6d2" opacity="0.75"/><rect x="675.8" y="93.8" width="1.8" height="1.8" fill="#d0dce2" opacity="0.75"/><rect x="639.4" y="110.0" width="1.3" height="1.3" fill="#b2c6d2" opacity="0.75"/><rect x="655.1" y="86.0" width="1.3" height="1.3" fill="#7f95a3" opacity="0.75"/><rect x="649.1" y="107.5" width="1.5" height="1.5" fill="#b2c6d2" opacity="0.75"/><rect x="667.0" y="115.6" width="1.1" height="1.1" fill="#8a9298" opacity="0.75"/><rect x="625.8" y="108.1" width="0.7" height="0.7" fill="#c4d4dc" opacity="0.75"/><rect x="648.0" y="94.7" width="0.7" height="0.7" fill="#8a9298" opacity="0.75"/><rect x="669.4" y="114.3" width="0.8" height="0.8" fill="#7f95a3" opacity="0.75"/><rect x="624.7" y="109.6" width="1.3" height="1.3" fill="#d0dce2" opacity="0.75"/><rect x="657.5" y="90.7" width="1.6" height="1.6" fill="#b2c6d2" opacity="0.75"/><rect x="669.3" y="99.7" width="1.0" height="1.0" fill="#d0dce2" opacity="0.75"/><rect x="652.0" y="109.7" width="1.5" height="1.5" fill="#b2c6d2" opacity="0.75"/><rect x="655.5" y="107.9" width="1.4" height="1.4" fill="#7f95a3" opacity="0.75"/><rect x="662.0" y="96.5" width="1.0" height="1.0" fill="#8a9298" opacity="0.75"/><rect x="666.4" y="118.8" width="1.0" height="1.0" fill="#c4d4dc" opacity="0.75"/><rect x="658.2" y="105.7" width="1.7" height="1.7" fill="#b2c6d2" opacity="0.75"/><rect x="656.3" y="115.5" width="1.8" height="1.8" fill="#b2c6d2" opacity="0.75"/><rect x="644.1" y="102.3" width="1.6" height="1.6" fill="#8a9298" opacity="0.75"/><rect x="633.5" y="116.1" width="0.8" height="0.8" fill="#8a9298" opacity="0.75"/><rect x="622.5" y="87.1" width="0.8" height="0.8" fill="#b2c6d2" opacity="0.75"/><rect x="633.4" y="95.8" width="1.8" height="1.8" fill="#b2c6d2" opacity="0.75"/><rect x="667.0" y="89.5" width="0.9" height="0.9" fill="#b2c6d2" opacity="0.75"/><rect x="655.1" y="101.1" width="1.2" height="1.2" fill="#d0dce2" opacity="0.75"/><rect x="663.7" y="102.7" width="1.5" height="1.5" fill="#b2c6d2" opacity="0.75"/><rect x="625.4" y="92.3" width="1.4" height="1.4" fill="#b2c6d2" opacity="0.75"/><rect x="653.9" y="115.5" width="1.7" height="1.7" fill="#d0dce2" opacity="0.75"/><rect x="639.1" y="88.0" width="1.7" height="1.7" fill="#d0dce2" opacity="0.75"/><rect x="674.6" y="86.8" width="0.7" height="0.7" fill="#8a9298" opacity="0.75"/><rect x="640.9" y="109.9" width="1.2" height="1.2" fill="#c4d4dc" opacity="0.75"/><rect x="658.6" y="113.6" width="0.9" height="0.9" fill="#a8bcc8" opacity="0.75"/><rect x="677.0" y="104.3" width="1.2" height="1.2" fill="#c4d4dc" opacity="0.75"/><rect x="652.1" y="104.6" width="1.5" height="1.5" fill="#d0dce2" opacity="0.75"/><rect x="656.4" y="107.4" width="1.3" height="1.3" fill="#8a9298" opacity="0.75"/><rect x="633.6" y="111.9" width="0.9" height="0.9" fill="#b2c6d2" opacity="0.75"/><rect x="639.6" y="103.8" width="1.6" height="1.6" fill="#c4d4dc" opacity="0.75"/><rect x="640.6" y="106.4" width="1.2" height="1.2" fill="#7f95a3" opacity="0.75"/><rect x="676.7" y="108.0" width="0.7" height="0.7" fill="#7f95a3" opacity="0.75"/><rect x="670.7" y="103.0" width="1.8" height="1.8" fill="#b2c6d2" opacity="0.75"/><rect x="676.3" y="108.2" width="1.4" height="1.4" fill="#b2c6d2" opacity="0.75"/><rect x="648.9" y="118.8" width="1.6" height="1.6" fill="#d0dce2" opacity="0.75"/><rect x="641.7" y="99.2" width="1.2" height="1.2" fill="#a8bcc8" opacity="0.75"/><rect x="630.1" y="93.9" width="1.4" height="1.4" fill="#a8bcc8" opacity="0.75"/><rect x="673.2" y="91.4" width="1.0" height="1.0" fill="#d0dce2" opacity="0.75"/><rect x="630.4" y="107.2" width="1.0" height="1.0" fill="#8a9298" opacity="0.75"/><rect x="623.5" y="112.2" width="1.7" height="1.7" fill="#c4d4dc" opacity="0.75"/><rect x="627.6" y="102.6" width="1.6" height="1.6" fill="#8a9298" opacity="0.75"/><rect x="640.3" y="88.0" width="1.5" height="1.5" fill="#8a9298" opacity="0.75"/><rect x="661.5" y="99.4" width="1.8" height="1.8" fill="#8a9298" opacity="0.75"/><rect x="653.3" y="106.0" width="0.8" height="0.8" fill="#d0dce2" opacity="0.75"/><rect x="676.3" y="119.6" width="0.9" height="0.9" fill="#d0dce2" opacity="0.75"/><rect x="653.8" y="99.4" width="1.3" height="1.3" fill="#d0dce2" opacity="0.75"/><rect x="626.7" y="97.9" width="1.1" height="1.1" fill="#7f95a3" opacity="0.75"/><rect x="650.8" y="86.9" width="1.0" height="1.0" fill="#d0dce2" opacity="0.75"/><rect x="642.2" y="98.3" width="1.6" height="1.6" fill="#a8bcc8" opacity="0.75"/><rect x="675.8" y="117.9" width="1.2" height="1.2" fill="#d0dce2" opacity="0.75"/><rect x="652.6" y="106.4" width="1.3" height="1.3" fill="#d0dce2" opacity="0.75"/><rect x="626.0" y="113.0" width="1.5" height="1.5" fill="#b2c6d2" opacity="0.75"/><rect x="637.9" y="92.7" width="1.3" height="1.3" fill="#c4d4dc" opacity="0.75"/><rect x="622.8" y="108.1" width="0.9" height="0.9" fill="#8a9298" opacity="0.75"/><rect x="634.7" y="101.0" width="0.9" height="0.9" fill="#c4d4dc" opacity="0.75"/><rect x="625.2" y="102.8" width="1.4" height="1.4" fill="#d0dce2" opacity="0.75"/><rect x="668.6" y="104.8" width="0.8" height="0.8" fill="#d0dce2" opacity="0.75"/><rect x="675.1" y="87.0" width="1.7" height="1.7" fill="#d0dce2" opacity="0.75"/><rect x="656.3" y="106.3" width="1.1" height="1.1" fill="#8a9298" opacity="0.75"/><rect x="655.0" y="116.0" width="0.7" height="0.7" fill="#b2c6d2" opacity="0.75"/><rect x="652.4" y="107.6" width="1.7" height="1.7" fill="#8a9298" opacity="0.75"/><rect x="641.4" y="90.3" width="1.0" height="1.0" fill="#b2c6d2" opacity="0.75"/><rect x="673.2" y="92.1" width="1.1" height="1.1" fill="#c4d4dc" opacity="0.75"/><rect x="663.9" y="117.1" width="0.8" height="0.8" fill="#d0dce2" opacity="0.75"/><rect x="623.8" y="93.5" width="1.2" height="1.2" fill="#7f95a3" opacity="0.75"/><rect x="626.5" y="107.3" width="0.9" height="0.9" fill="#d0dce2" opacity="0.75"/><rect x="676.5" y="104.8" width="0.9" height="0.9" fill="#b2c6d2" opacity="0.75"/><rect x="648.7" y="112.1" width="1.3" height="1.3" fill="#d0dce2" opacity="0.75"/><rect x="671.9" y="95.5" width="1.8" height="1.8" fill="#d0dce2" opacity="0.75"/><rect x="641.8" y="91.3" width="1.8" height="1.8" fill="#b2c6d2" opacity="0.75"/><rect x="620.7" y="95.8" width="1.1" height="1.1" fill="#b2c6d2" opacity="0.75"/><rect x="673.9" y="112.1" width="1.3" height="1.3" fill="#b2c6d2" opacity="0.75"/><rect x="643.6" y="92.6" width="0.9" height="0.9" fill="#b2c6d2" opacity="0.75"/><rect x="655.8" y="114.9" width="1.0" height="1.0" fill="#7f95a3" opacity="0.75"/><rect x="670.6" y="108.4" width="0.9" height="0.9" fill="#7f95a3" opacity="0.75"/><rect x="621.0" y="118.7" width="1.0" height="1.0" fill="#b2c6d2" opacity="0.75"/><rect x="623.4" y="108.3" width="1.0" height="1.0" fill="#8a9298" opacity="0.75"/><rect x="658.8" y="116.1" width="1.4" height="1.4" fill="#8a9298" opacity="0.75"/><rect x="662.9" y="101.6" width="1.2" height="1.2" fill="#a8bcc8" opacity="0.75"/><rect x="630.3" y="88.2" width="1.7" height="1.7" fill="#d0dce2" opacity="0.75"/><rect x="642.2" y="105.0" width="1.1" height="1.1" fill="#7f95a3" opacity="0.75"/><rect x="665.5" y="92.2" width="1.5" height="1.5" fill="#d0dce2" opacity="0.75"/><rect x="638.3" y="105.3" width="1.2" height="1.2" fill="#d0dce2" opacity="0.75"/><rect x="644.2" y="114.0" width="1.7" height="1.7" fill="#8a9298" opacity="0.75"/><rect x="653.5" y="113.7" width="1.7" height="1.7" fill="#a8bcc8" opacity="0.75"/><rect x="646.2" y="116.6" width="1.5" height="1.5" fill="#c4d4dc" opacity="0.75"/><rect x="669.6" y="106.4" width="1.1" height="1.1" fill="#b2c6d2" opacity="0.75"/><rect x="639.9" y="105.7" width="0.9" height="0.9" fill="#d0dce2" opacity="0.75"/><rect x="643.2" y="101.2" width="0.8" height="0.8" fill="#a8bcc8" opacity="0.75"/><rect x="671.9" y="119.4" width="0.9" height="0.9" fill="#b2c6d2" opacity="0.75"/><rect x="641.2" y="108.9" width="0.9" height="0.9" fill="#8a9298" opacity="0.75"/><rect x="673.1" y="95.6" width="1.8" height="1.8" fill="#b2c6d2" opacity="0.75"/><rect x="650.3" y="105.9" width="1.3" height="1.3" fill="#7f95a3" opacity="0.75"/><rect x="635.4" y="107.2" width="1.2" height="1.2" fill="#a8bcc8" opacity="0.75"/><rect x="669.7" y="95.8" width="0.9" height="0.9" fill="#c4d4dc" opacity="0.75"/><rect x="651.2" y="93.8" width="1.6" height="1.6" fill="#8a9298" opacity="0.75"/><rect x="636.5" y="110.4" width="1.4" height="1.4" fill="#a8bcc8" opacity="0.75"/><rect x="657.5" y="102.6" width="0.7" height="0.7" fill="#c4d4dc" opacity="0.75"/><rect x="677.4" y="94.8" width="1.1" height="1.1" fill="#a8bcc8" opacity="0.75"/><rect x="660.4" y="91.8" width="1.4" height="1.4" fill="#8a9298" opacity="0.75"/><rect x="620.8" y="111.4" width="1.4" height="1.4" fill="#d0dce2" opacity="0.75"/><rect x="653.1" y="98.0" width="1.4" height="1.4" fill="#a8bcc8" opacity="0.75"/><rect x="646.7" y="111.4" width="0.7" height="0.7" fill="#7f95a3" opacity="0.75"/><rect x="628.7" y="103.3" width="1.4" height="1.4" fill="#c4d4dc" opacity="0.75"/><rect x="632.5" y="118.1" width="1.1" height="1.1" fill="#7f95a3" opacity="0.75"/><rect x="662.5" y="89.8" width="0.7" height="0.7" fill="#b2c6d2" opacity="0.75"/><rect x="636.6" y="101.9" width="1.0" height="1.0" fill="#d0dce2" opacity="0.75"/><rect x="627.3" y="98.1" width="1.6" height="1.6" fill="#c4d4dc" opacity="0.75"/><rect x="637.9" y="105.7" width="0.9" height="0.9" fill="#a8bcc8" opacity="0.75"/><rect x="638.3" y="87.1" width="1.2" height="1.2" fill="#b2c6d2" opacity="0.75"/><rect x="661.2" y="100.3" width="0.9" height="0.9" fill="#d0dce2" opacity="0.75"/><rect x="668.0" y="94.2" width="1.1" height="1.1" fill="#c4d4dc" opacity="0.75"/><rect x="660.2" y="94.4" width="1.7" height="1.7" fill="#b2c6d2" opacity="0.75"/><rect x="621.0" y="100.5" width="1.3" height="1.3" fill="#c4d4dc" opacity="0.75"/><rect x="653.2" y="97.0" width="1.6" height="1.6" fill="#7f95a3" opacity="0.75"/><rect x="648.4" y="113.8" width="1.6" height="1.6" fill="#8a9298" opacity="0.75"/><rect x="630.1" y="90.8" width="0.8" height="0.8" fill="#8a9298" opacity="0.75"/><rect x="665.5" y="98.9" width="0.9" height="0.9" fill="#b2c6d2" opacity="0.75"/><rect x="652.0" y="96.0" width="0.8" height="0.8" fill="#7f95a3" opacity="0.75"/><rect x="668.4" y="109.9" width="1.8" height="1.8" fill="#7f95a3" opacity="0.75"/><rect x="647.6" y="118.7" width="1.1" height="1.1" fill="#8a9298" opacity="0.75"/><rect x="663.7" y="101.5" width="0.9" height="0.9" fill="#7f95a3" opacity="0.75"/><rect x="661.5" y="117.1" width="1.1" height="1.1" fill="#7f95a3" opacity="0.75"/><rect x="637.8" y="109.3" width="1.2" height="1.2" fill="#7f95a3" opacity="0.75"/><rect x="633.1" y="116.5" width="0.7" height="0.7" fill="#d0dce2" opacity="0.75"/><rect x="670.7" y="89.2" width="0.7" height="0.7" fill="#8a9298" opacity="0.75"/><rect x="657.8" y="105.8" width="0.9" height="0.9" fill="#d0dce2" opacity="0.75"/><rect x="625.2" y="100.0" width="1.3" height="1.3" fill="#7f95a3" opacity="0.75"/><rect x="672.5" y="98.7" width="0.9" height="0.9" fill="#c4d4dc" opacity="0.75"/><rect x="657.2" y="90.6" width="0.8" height="0.8" fill="#8a9298" opacity="0.75"/><rect x="642.1" y="94.2" width="1.1" height="1.1" fill="#8a9298" opacity="0.75"/><rect x="673.5" y="113.5" width="1.4" height="1.4" fill="#c4d4dc" opacity="0.75"/><rect x="624.8" y="112.8" width="1.1" height="1.1" fill="#7f95a3" opacity="0.75"/><rect x="622.5" y="91.0" width="0.8" height="0.8" fill="#8a9298" opacity="0.75"/><rect x="667.8" y="118.3" width="1.5" height="1.5" fill="#c4d4dc" opacity="0.75"/><rect x="622.6" y="118.7" width="0.9" height="0.9" fill="#c4d4dc" opacity="0.75"/><rect x="667.5" y="102.0" width="1.1" height="1.1" fill="#b2c6d2" opacity="0.75"/><rect x="624.1" y="90.0" width="1.7" height="1.7" fill="#7f95a3" opacity="0.75"/><rect x="646.3" y="108.8" width="1.1" height="1.1" fill="#8a9298" opacity="0.75"/><rect x="666.5" y="107.9" width="1.1" height="1.1" fill="#7f95a3" opacity="0.75"/><rect x="646.8" y="119.4" width="0.7" height="0.7" fill="#a8bcc8" opacity="0.75"/><rect x="627.2" y="89.6" width="0.8" height="0.8" fill="#7f95a3" opacity="0.75"/><rect x="664.8" y="101.5" width="1.3" height="1.3" fill="#b2c6d2" opacity="0.75"/><rect x="642.9" y="101.3" width="1.6" height="1.6" fill="#c4d4dc" opacity="0.75"/><rect x="624.9" y="92.1" width="0.9" height="0.9" fill="#a8bcc8" opacity="0.75"/><rect x="647.8" y="109.1" width="1.8" height="1.8" fill="#7f95a3" opacity="0.75"/><rect x="673.8" y="94.1" width="1.1" height="1.1" fill="#a8bcc8" opacity="0.75"/><rect x="666.3" y="103.4" width="0.9" height="0.9" fill="#a8bcc8" opacity="0.75"/>
<rect x="634.1" y="96.2" width="1.3" height="1.3" fill="#8a7660" opacity="0.55"/>
<rect x="634.3" y="92.8" width="1.8" height="1.8" fill="#5e5c66" opacity="0.55"/>
<rect x="629.8" y="103.5" width="1.2" height="1.2" fill="#6a6a72" opacity="0.55"/>
<rect x="630.4" y="97.5" width="1.3" height="1.3" fill="#4e5668" opacity="0.55"/>
<rect x="632.0" y="88.4" width="0.9" height="0.9" fill="#8a7660" opacity="0.55"/>
<rect x="635.8" y="92.6" width="0.9" height="0.9" fill="#7c6a58" opacity="0.55"/>
<rect x="630.5" y="82.1" width="1.0" height="1.0" fill="#5e5c66" opacity="0.55"/>
<rect x="632.1" y="85.7" width="1.5" height="1.5" fill="#5e5c66" opacity="0.55"/>
<rect x="633.9" y="92.9" width="1.8" height="1.8" fill="#5e5c66" opacity="0.55"/>
<rect x="632.4" y="85.2" width="1.7" height="1.7" fill="#5e5c66" opacity="0.55"/>
<rect x="637.7" y="95.3" width="1.4" height="1.4" fill="#8a7660" opacity="0.55"/>
<rect x="635.5" y="94.4" width="1.1" height="1.1" fill="#7c6a58" opacity="0.55"/>
<rect x="634.6" y="99.9" width="1.7" height="1.7" fill="#7c6a58" opacity="0.55"/>
<rect x="634.1" y="76.8" width="1.4" height="1.4" fill="#5e5c66" opacity="0.55"/>
<rect x="631.4" y="91.9" width="1.5" height="1.5" fill="#8a7660" opacity="0.55"/>
<rect x="632.8" y="92.4" width="0.8" height="0.8" fill="#5e5c66" opacity="0.55"/>
<rect x="633.7" y="89.3" width="0.7" height="0.7" fill="#5e5c66" opacity="0.55"/>
<rect x="633.0" y="94.4" width="1.0" height="1.0" fill="#4e5668" opacity="0.55"/>
<rect x="631.3" y="99.1" width="1.1" height="1.1" fill="#7c6a58" opacity="0.55"/>
<rect x="624.5" y="93.8" width="1.5" height="1.5" fill="#8a7660" opacity="0.55"/>
<rect x="634.1" y="103.1" width="0.9" height="0.9" fill="#5e5c66" opacity="0.55"/>
<rect x="631.5" y="88.3" width="1.4" height="1.4" fill="#4e5668" opacity="0.55"/>
<rect x="632.4" y="96.1" width="0.7" height="0.7" fill="#5e5c66" opacity="0.55"/>
<rect x="631.2" y="99.4" width="1.7" height="1.7" fill="#4e5668" opacity="0.55"/>
<rect x="634.5" y="100.8" width="1.5" height="1.5" fill="#7c6a58" opacity="0.55"/>
<rect x="636.2" y="93.9" width="1.2" height="1.2" fill="#4e5668" opacity="0.55"/>
<rect x="632.0" y="98.2" width="1.4" height="1.4" fill="#8a7660" opacity="0.55"/>
<rect x="631.6" y="90.3" width="1.8" height="1.8" fill="#6a6a72" opacity="0.55"/>
<rect x="633.3" y="88.3" width="1.3" height="1.3" fill="#5e5c66" opacity="0.55"/>
<rect x="629.8" y="76.0" width="0.9" height="0.9" fill="#4e5668" opacity="0.55"/>
<rect x="640.7" y="101.7" width="0.9" height="0.9" fill="#5e5c66" opacity="0.55"/>
<rect x="636.9" y="91.6" width="1.7" height="1.7" fill="#5e5c66" opacity="0.55"/>
<rect x="629.6" y="102.3" width="1.5" height="1.5" fill="#6a6a72" opacity="0.55"/>
<rect x="635.0" y="95.1" width="1.3" height="1.3" fill="#6a6a72" opacity="0.55"/>
<rect x="634.5" y="101.9" width="0.9" height="0.9" fill="#7c6a58" opacity="0.55"/>
<rect x="632.9" y="98.8" width="1.7" height="1.7" fill="#6a6a72" opacity="0.55"/>
<rect x="636.4" y="101.0" width="1.7" height="1.7" fill="#5e5c66" opacity="0.55"/>
<rect x="639.7" y="101.6" width="0.8" height="0.8" fill="#7c6a58" opacity="0.55"/>
<rect x="632.6" y="97.6" width="1.2" height="1.2" fill="#6a6a72" opacity="0.55"/>
<rect x="634.7" y="105.9" width="1.4" height="1.4" fill="#5e5c66" opacity="0.55"/>
<rect x="633.7" y="100.7" width="0.8" height="0.8" fill="#4e5668" opacity="0.55"/>
<rect x="636.0" y="102.9" width="1.0" height="1.0" fill="#8a7660" opacity="0.55"/>
<rect x="635.2" y="113.0" width="1.7" height="1.7" fill="#8a7660" opacity="0.55"/>
<rect x="640.5" y="95.8" width="1.4" height="1.4" fill="#8a7660" opacity="0.55"/>
<rect x="636.5" y="106.7" width="0.7" height="0.7" fill="#5e5c66" opacity="0.55"/>
<rect x="632.0" y="100.2" width="1.0" height="1.0" fill="#5e5c66" opacity="0.55"/>
<rect x="635.0" y="89.8" width="1.8" height="1.8" fill="#5e5c66" opacity="0.55"/>
<rect x="639.2" y="98.2" width="0.8" height="0.8" fill="#5e5c66" opacity="0.55"/>
<rect x="639.5" y="103.4" width="0.9" height="0.9" fill="#8a7660" opacity="0.55"/>
<rect x="640.6" y="101.3" width="1.6" height="1.6" fill="#4e5668" opacity="0.55"/>
<rect x="631.4" y="97.5" width="1.1" height="1.1" fill="#4e5668" opacity="0.55"/>
<rect x="632.9" y="98.8" width="1.2" height="1.2" fill="#4e5668" opacity="0.55"/>
<rect x="635.8" y="99.1" width="1.4" height="1.4" fill="#7c6a58" opacity="0.55"/>
<rect x="637.4" y="107.2" width="1.2" height="1.2" fill="#6a6a72" opacity="0.55"/>
<rect x="639.1" y="100.4" width="0.9" height="0.9" fill="#4e5668" opacity="0.55"/>
<rect x="632.6" y="93.9" width="0.8" height="0.8" fill="#7c6a58" opacity="0.55"/>
<rect x="634.5" y="100.6" width="1.8" height="1.8" fill="#7c6a58" opacity="0.55"/>
<rect x="633.2" y="104.5" width="1.7" height="1.7" fill="#5e5c66" opacity="0.55"/>
<rect x="633.0" y="103.6" width="1.4" height="1.4" fill="#6a6a72" opacity="0.55"/>
<rect x="642.8" y="104.3" width="1.7" height="1.7" fill="#8a7660" opacity="0.55"/>
<rect x="633.6" y="108.3" width="1.3" height="1.3" fill="#5e5c66" opacity="0.55"/>
<rect x="634.3" y="91.2" width="1.3" height="1.3" fill="#7c6a58" opacity="0.55"/>
<rect x="639.6" y="104.6" width="1.6" height="1.6" fill="#8a7660" opacity="0.55"/>
<rect x="625.0" y="103.3" width="1.7" height="1.7" fill="#7c6a58" opacity="0.55"/>
<rect x="633.7" y="99.6" width="1.5" height="1.5" fill="#5e5c66" opacity="0.55"/>
<rect x="640.0" y="104.4" width="1.3" height="1.3" fill="#8a7660" opacity="0.55"/>
<rect x="634.0" y="107.2" width="1.5" height="1.5" fill="#5e5c66" opacity="0.55"/>
<rect x="631.1" y="99.6" width="1.5" height="1.5" fill="#8a7660" opacity="0.55"/>
<rect x="628.6" y="106.8" width="1.3" height="1.3" fill="#4e5668" opacity="0.55"/>
<rect x="632.0" y="106.0" width="1.3" height="1.3" fill="#7c6a58" opacity="0.55"/>
<rect x="640.6" y="118.0" width="1.2" height="1.2" fill="#6a6a72" opacity="0.55"/>
<rect x="639.3" y="121.0" width="0.9" height="0.9" fill="#8a7660" opacity="0.55"/>
<rect x="635.1" y="112.6" width="0.8" height="0.8" fill="#6a6a72" opacity="0.55"/>
<rect x="640.9" y="114.8" width="0.8" height="0.8" fill="#7c6a58" opacity="0.55"/>
<rect x="641.5" y="110.3" width="1.1" height="1.1" fill="#7c6a58" opacity="0.55"/>
<rect x="642.7" y="115.7" width="1.7" height="1.7" fill="#4e5668" opacity="0.55"/>
<rect x="638.6" y="121.9" width="1.4" height="1.4" fill="#7c6a58" opacity="0.55"/>
<rect x="635.4" y="110.5" width="1.5" height="1.5" fill="#6a6a72" opacity="0.55"/>
<rect x="638.8" y="111.3" width="1.0" height="1.0" fill="#8a7660" opacity="0.55"/>
<rect x="633.4" y="116.0" width="1.2" height="1.2" fill="#6a6a72" opacity="0.55"/>
<rect x="641.1" y="112.6" width="1.3" height="1.3" fill="#6a6a72" opacity="0.55"/>
<rect x="637.2" y="119.2" width="1.1" height="1.1" fill="#5e5c66" opacity="0.55"/>
<rect x="635.3" y="117.5" width="0.8" height="0.8" fill="#4e5668" opacity="0.55"/>
<rect x="633.3" y="110.0" width="1.1" height="1.1" fill="#6a6a72" opacity="0.55"/>
<rect x="639.5" y="115.9" width="1.7" height="1.7" fill="#5e5c66" opacity="0.55"/>
<rect x="640.1" y="117.5" width="0.7" height="0.7" fill="#8a7660" opacity="0.55"/>
<rect x="637.3" y="111.8" width="0.9" height="0.9" fill="#6a6a72" opacity="0.55"/>
<rect x="633.6" y="115.8" width="1.3" height="1.3" fill="#4e5668" opacity="0.55"/>
<rect x="635.7" y="110.1" width="0.8" height="0.8" fill="#5e5c66" opacity="0.55"/>
<rect x="636.6" y="111.0" width="1.7" height="1.7" fill="#5e5c66" opacity="0.55"/>
<rect x="631.8" y="105.3" width="1.4" height="1.4" fill="#8a7660" opacity="0.55"/>
<rect x="642.0" y="128.2" width="0.6" height="0.6" fill="#4e5668" opacity="0.55"/>
<rect x="635.6" y="113.8" width="1.7" height="1.7" fill="#7c6a58" opacity="0.55"/>
<rect x="634.6" y="112.3" width="1.2" height="1.2" fill="#8a7660" opacity="0.55"/>
<rect x="633.4" y="106.4" width="1.0" height="1.0" fill="#8a7660" opacity="0.55"/>
<rect x="639.0" y="111.5" width="1.6" height="1.6" fill="#4e5668" opacity="0.55"/>
<rect x="640.6" y="108.2" width="1.3" height="1.3" fill="#5e5c66" opacity="0.55"/>
<rect x="645.6" y="121.8" width="1.2" height="1.2" fill="#4e5668" opacity="0.55"/>
<rect x="641.2" y="113.9" width="1.7" height="1.7" fill="#7c6a58" opacity="0.55"/>
<rect x="640.0" y="117.5" width="1.8" height="1.8" fill="#4e5668" opacity="0.55"/>
<rect x="643.5" y="118.5" width="1.7" height="1.7" fill="#7c6a58" opacity="0.55"/>
<rect x="639.9" y="112.3" width="0.8" height="0.8" fill="#8a7660" opacity="0.55"/>
<rect x="645.1" y="115.6" width="1.2" height="1.2" fill="#4e5668" opacity="0.55"/>
<rect x="638.3" y="110.6" width="0.9" height="0.9" fill="#4e5668" opacity="0.55"/>
<rect x="637.4" y="112.3" width="1.0" height="1.0" fill="#4e5668" opacity="0.55"/>
<rect x="646.9" y="96.7" width="1.6" height="1.6" fill="#7c6a58" opacity="0.55"/>
<rect x="647.1" y="102.4" width="0.9" height="0.9" fill="#4e5668" opacity="0.55"/>
<rect x="639.4" y="97.9" width="1.0" height="1.0" fill="#7c6a58" opacity="0.55"/>
<rect x="635.2" y="99.1" width="0.7" height="0.7" fill="#6a6a72" opacity="0.55"/>
<rect x="641.7" y="96.0" width="0.7" height="0.7" fill="#7c6a58" opacity="0.55"/>
<rect x="639.8" y="100.3" width="1.4" height="1.4" fill="#5e5c66" opacity="0.55"/>
<rect x="644.0" y="101.3" width="1.2" height="1.2" fill="#8a7660" opacity="0.55"/>
<rect x="643.4" y="98.5" width="1.5" height="1.5" fill="#5e5c66" opacity="0.55"/>
<rect x="636.7" y="102.8" width="1.7" height="1.7" fill="#5e5c66" opacity="0.55"/>
<rect x="652.9" y="103.2" width="1.6" height="1.6" fill="#8a7660" opacity="0.55"/>
<rect x="643.1" y="102.2" width="1.0" height="1.0" fill="#4e5668" opacity="0.55"/>
<rect x="645.4" y="99.5" width="0.8" height="0.8" fill="#5e5c66" opacity="0.55"/>
<rect x="648.5" y="102.1" width="1.6" height="1.6" fill="#6a6a72" opacity="0.55"/>
<rect x="650.4" y="99.4" width="1.3" height="1.3" fill="#5e5c66" opacity="0.55"/>
<rect x="647.0" y="101.0" width="0.7" height="0.7" fill="#6a6a72" opacity="0.55"/>
<rect x="649.2" y="101.0" width="0.7" height="0.7" fill="#6a6a72" opacity="0.55"/>
<rect x="643.0" y="100.5" width="1.3" height="1.3" fill="#8a7660" opacity="0.55"/>
<rect x="641.5" y="98.7" width="1.1" height="1.1" fill="#8a7660" opacity="0.55"/>
<rect x="641.4" y="103.2" width="1.1" height="1.1" fill="#8a7660" opacity="0.55"/>
<rect x="643.8" y="105.1" width="1.1" height="1.1" fill="#7c6a58" opacity="0.55"/>
<rect x="643.4" y="96.0" width="1.3" height="1.3" fill="#4e5668" opacity="0.55"/>
<rect x="639.4" y="94.8" width="0.9" height="0.9" fill="#8a7660" opacity="0.55"/>
<rect x="643.6" y="91.3" width="1.6" height="1.6" fill="#8a7660" opacity="0.55"/>
<rect x="646.4" y="102.5" width="1.6" height="1.6" fill="#5e5c66" opacity="0.55"/>
<rect x="645.3" y="104.7" width="1.3" height="1.3" fill="#8a7660" opacity="0.55"/>
<rect x="649.8" y="98.8" width="0.7" height="0.7" fill="#8a7660" opacity="0.55"/>
<rect x="641.0" y="98.8" width="0.6" height="0.6" fill="#8a7660" opacity="0.55"/>
<rect x="648.3" y="94.0" width="1.4" height="1.4" fill="#8a7660" opacity="0.55"/>
<rect x="646.3" y="95.4" width="1.0" height="1.0" fill="#4e5668" opacity="0.55"/>
<rect x="646.2" y="95.6" width="1.7" height="1.7" fill="#4e5668" opacity="0.55"/>
<rect x="664.6" y="77.4" width="1.3" height="1.3" fill="#5e5c66" opacity="0.55"/>
<rect x="667.7" y="103.1" width="1.6" height="1.6" fill="#6a6a72" opacity="0.55"/>
<rect x="668.4" y="96.4" width="1.4" height="1.4" fill="#6a6a72" opacity="0.55"/>
<rect x="664.2" y="92.7" width="1.7" height="1.7" fill="#4e5668" opacity="0.55"/>
<rect x="665.3" y="92.9" width="0.9" height="0.9" fill="#5e5c66" opacity="0.55"/>
<rect x="671.5" y="86.2" width="1.5" height="1.5" fill="#7c6a58" opacity="0.55"/>
<rect x="665.0" y="100.4" width="1.0" height="1.0" fill="#6a6a72" opacity="0.55"/>
<rect x="664.6" y="95.6" width="1.4" height="1.4" fill="#6a6a72" opacity="0.55"/>
<rect x="666.5" y="95.1" width="1.7" height="1.7" fill="#8a7660" opacity="0.55"/>
<rect x="666.9" y="99.9" width="1.7" height="1.7" fill="#4e5668" opacity="0.55"/>
<rect x="663.6" y="80.5" width="0.6" height="0.6" fill="#8a7660" opacity="0.55"/>
<rect x="667.1" y="89.6" width="1.4" height="1.4" fill="#7c6a58" opacity="0.55"/>
<rect x="661.6" y="88.3" width="1.7" height="1.7" fill="#7c6a58" opacity="0.55"/>
<rect x="666.2" y="98.1" width="0.7" height="0.7" fill="#5e5c66" opacity="0.55"/>
<rect x="664.8" y="91.7" width="1.0" height="1.0" fill="#5e5c66" opacity="0.55"/>
<rect x="661.6" y="98.6" width="0.8" height="0.8" fill="#7c6a58" opacity="0.55"/>
<rect x="666.2" y="89.4" width="1.4" height="1.4" fill="#5e5c66" opacity="0.55"/>
<rect x="665.5" y="96.6" width="1.1" height="1.1" fill="#8a7660" opacity="0.55"/>
<rect x="664.2" y="98.2" width="1.5" height="1.5" fill="#7c6a58" opacity="0.55"/>
<rect x="663.4" y="91.7" width="0.7" height="0.7" fill="#7c6a58" opacity="0.55"/>
<rect x="666.8" y="101.8" width="1.1" height="1.1" fill="#8a7660" opacity="0.55"/>
<rect x="663.9" y="98.2" width="1.7" height="1.7" fill="#5e5c66" opacity="0.55"/>
<rect x="668.8" y="82.7" width="1.4" height="1.4" fill="#8a7660" opacity="0.55"/>
<rect x="662.8" y="80.9" width="1.7" height="1.7" fill="#6a6a72" opacity="0.55"/>
<rect x="663.6" y="86.1" width="1.4" height="1.4" fill="#8a7660" opacity="0.55"/>
<rect x="664.0" y="84.7" width="0.6" height="0.6" fill="#7c6a58" opacity="0.55"/>
<rect x="664.1" y="96.0" width="1.1" height="1.1" fill="#4e5668" opacity="0.55"/>
<rect x="661.4" y="87.6" width="0.9" height="0.9" fill="#8a7660" opacity="0.55"/>
<rect x="664.9" y="90.9" width="1.7" height="1.7" fill="#6a6a72" opacity="0.55"/>
<rect x="659.7" y="87.8" width="1.4" height="1.4" fill="#7c6a58" opacity="0.55"/>
<rect x="663.6" y="92.3" width="0.7" height="0.7" fill="#5e5c66" opacity="0.55"/>
<rect x="663.0" y="95.6" width="0.8" height="0.8" fill="#6a6a72" opacity="0.55"/>
<rect x="663.6" y="103.3" width="1.2" height="1.2" fill="#8a7660" opacity="0.55"/>
<rect x="668.7" y="102.4" width="0.6" height="0.6" fill="#8a7660" opacity="0.55"/>
<rect x="661.3" y="101.4" width="0.8" height="0.8" fill="#5e5c66" opacity="0.55"/>
<rect x="663.1" y="109.6" width="1.6" height="1.6" fill="#7c6a58" opacity="0.55"/>
<rect x="662.2" y="112.5" width="0.8" height="0.8" fill="#8a7660" opacity="0.55"/>
<rect x="658.7" y="106.0" width="1.0" height="1.0" fill="#7c6a58" opacity="0.55"/>
<rect x="661.0" y="110.5" width="1.7" height="1.7" fill="#7c6a58" opacity="0.55"/>
<rect x="656.4" y="100.6" width="0.7" height="0.7" fill="#6a6a72" opacity="0.55"/>
<rect x="660.3" y="108.4" width="0.7" height="0.7" fill="#4e5668" opacity="0.55"/>
<rect x="659.9" y="106.1" width="1.3" height="1.3" fill="#6a6a72" opacity="0.55"/>
<rect x="659.5" y="102.2" width="1.4" height="1.4" fill="#7c6a58" opacity="0.55"/>
<rect x="659.3" y="99.1" width="1.7" height="1.7" fill="#4e5668" opacity="0.55"/>
<rect x="659.1" y="102.0" width="1.2" height="1.2" fill="#7c6a58" opacity="0.55"/>
<rect x="663.7" y="113.7" width="1.0" height="1.0" fill="#7c6a58" opacity="0.55"/>
<rect x="661.7" y="108.0" width="1.7" height="1.7" fill="#4e5668" opacity="0.55"/>
<rect x="658.9" y="110.7" width="0.8" height="0.8" fill="#4e5668" opacity="0.55"/>
<rect x="659.2" y="115.1" width="1.8" height="1.8" fill="#8a7660" opacity="0.55"/>
<rect x="663.6" y="108.8" width="1.1" height="1.1" fill="#6a6a72" opacity="0.55"/>
<rect x="665.3" y="110.9" width="1.2" height="1.2" fill="#6a6a72" opacity="0.55"/>
<rect x="662.1" y="105.5" width="0.7" height="0.7" fill="#6a6a72" opacity="0.55"/>
<rect x="665.1" y="101.0" width="0.9" height="0.9" fill="#4e5668" opacity="0.55"/>
<rect x="665.9" y="110.9" width="1.5" height="1.5" fill="#8a7660" opacity="0.55"/>
<rect x="662.7" y="113.6" width="1.1" height="1.1" fill="#7c6a58" opacity="0.55"/>
<rect x="662.5" y="103.4" width="1.1" height="1.1" fill="#4e5668" opacity="0.55"/>
<rect x="660.5" y="102.2" width="1.0" height="1.0" fill="#7c6a58" opacity="0.55"/>
<rect x="659.2" y="99.0" width="0.6" height="0.6" fill="#4e5668" opacity="0.55"/>
<rect x="662.3" y="109.0" width="0.9" height="0.9" fill="#8a7660" opacity="0.55"/>
<rect x="661.3" y="108.2" width="0.6" height="0.6" fill="#4e5668" opacity="0.55"/>
<rect x="662.7" y="108.1" width="1.8" height="1.8" fill="#4e5668" opacity="0.55"/>
<rect x="663.2" y="102.5" width="1.7" height="1.7" fill="#4e5668" opacity="0.55"/>
<rect x="665.8" y="97.2" width="1.5" height="1.5" fill="#8a7660" opacity="0.55"/>
<rect x="659.9" y="106.9" width="1.5" height="1.5" fill="#8a7660" opacity="0.55"/>
<rect x="656.7" y="107.2" width="1.8" height="1.8" fill="#7c6a58" opacity="0.55"/>
<rect x="662.9" y="114.8" width="1.0" height="1.0" fill="#4e5668" opacity="0.55"/>
<rect x="659.5" y="111.0" width="1.7" height="1.7" fill="#5e5c66" opacity="0.55"/>
<rect x="660.1" y="115.0" width="1.1" height="1.1" fill="#5e5c66" opacity="0.55"/>
<rect x="658.8" y="115.0" width="1.4" height="1.4" fill="#6a6a72" opacity="0.55"/>
<rect x="657.7" y="114.7" width="1.7" height="1.7" fill="#7c6a58" opacity="0.55"/>
<rect x="656.0" y="112.0" width="1.5" height="1.5" fill="#6a6a72" opacity="0.55"/>
<rect x="662.1" y="118.1" width="0.9" height="0.9" fill="#7c6a58" opacity="0.55"/>
<rect x="652.6" y="116.1" width="0.9" height="0.9" fill="#6a6a72" opacity="0.55"/>
<rect x="657.0" y="117.7" width="1.5" height="1.5" fill="#7c6a58" opacity="0.55"/>
<rect x="652.1" y="116.1" width="1.0" height="1.0" fill="#7c6a58" opacity="0.55"/>
<rect x="653.0" y="114.8" width="1.4" height="1.4" fill="#7c6a58" opacity="0.55"/>
<rect x="660.9" y="113.7" width="1.0" height="1.0" fill="#6a6a72" opacity="0.55"/>
<rect x="660.2" y="114.0" width="1.6" height="1.6" fill="#6a6a72" opacity="0.55"/>
<rect x="659.5" y="116.4" width="1.3" height="1.3" fill="#7c6a58" opacity="0.55"/>
<rect x="652.1" y="111.9" width="0.8" height="0.8" fill="#6a6a72" opacity="0.55"/>
<rect x="657.9" y="116.2" width="1.2" height="1.2" fill="#7c6a58" opacity="0.55"/>
<rect x="655.1" y="111.2" width="0.8" height="0.8" fill="#8a7660" opacity="0.55"/>
<rect x="661.1" y="114.3" width="1.3" height="1.3" fill="#5e5c66" opacity="0.55"/>
<rect x="652.8" y="118.8" width="1.0" height="1.0" fill="#6a6a72" opacity="0.55"/>
<rect x="654.2" y="112.6" width="1.7" height="1.7" fill="#4e5668" opacity="0.55"/>
<rect x="653.3" y="111.7" width="1.6" height="1.6" fill="#6a6a72" opacity="0.55"/>
<rect x="650.3" y="115.1" width="1.3" height="1.3" fill="#5e5c66" opacity="0.55"/>
<rect x="646.4" y="114.2" width="0.9" height="0.9" fill="#5e5c66" opacity="0.55"/>
<rect x="653.4" y="112.0" width="1.7" height="1.7" fill="#6a6a72" opacity="0.55"/>
<rect x="646.8" y="116.6" width="1.2" height="1.2" fill="#4e5668" opacity="0.55"/>
<rect x="651.6" y="117.8" width="1.6" height="1.6" fill="#8a7660" opacity="0.55"/>
<rect x="647.8" y="117.5" width="0.9" height="0.9" fill="#7c6a58" opacity="0.55"/>
<rect x="652.9" y="110.3" width="1.8" height="1.8" fill="#7c6a58" opacity="0.55"/>
<rect x="650.5" y="115.7" width="1.6" height="1.6" fill="#7c6a58" opacity="0.55"/>
<rect x="649.0" y="112.6" width="1.8" height="1.8" fill="#4e5668" opacity="0.55"/>
<rect x="648.8" y="103.9" width="0.9" height="0.9" fill="#5e5c66" opacity="0.55"/>
<rect x="649.3" y="112.3" width="1.4" height="1.4" fill="#6a6a72" opacity="0.55"/>
<rect x="650.3" y="120.3" width="1.8" height="1.8" fill="#7c6a58" opacity="0.55"/>
<rect x="648.9" y="110.9" width="1.5" height="1.5" fill="#7c6a58" opacity="0.55"/>
<rect x="651.8" y="108.7" width="1.3" height="1.3" fill="#6a6a72" opacity="0.55"/>
<rect x="670.0" y="97.7" width="0.9" height="0.9" fill="#5e5c66" opacity="0.55"/>
<rect x="671.9" y="102.6" width="0.9" height="0.9" fill="#8a7660" opacity="0.55"/>
<rect x="672.9" y="95.8" width="0.9" height="0.9" fill="#4e5668" opacity="0.55"/>
<rect x="671.6" y="96.1" width="1.3" height="1.3" fill="#4e5668" opacity="0.55"/>
<rect x="666.7" y="104.9" width="1.3" height="1.3" fill="#4e5668" opacity="0.55"/>
<rect x="668.6" y="99.6" width="1.6" height="1.6" fill="#6a6a72" opacity="0.55"/>
<rect x="668.8" y="92.4" width="1.2" height="1.2" fill="#4e5668" opacity="0.55"/>
<rect x="674.7" y="101.1" width="0.9" height="0.9" fill="#8a7660" opacity="0.55"/>
<rect x="670.5" y="97.6" width="1.0" height="1.0" fill="#8a7660" opacity="0.55"/>
<rect x="670.3" y="105.9" width="1.8" height="1.8" fill="#7c6a58" opacity="0.55"/>
<rect x="675.1" y="105.3" width="1.4" height="1.4" fill="#5e5c66" opacity="0.55"/>
<rect x="677.0" y="103.9" width="1.2" height="1.2" fill="#4e5668" opacity="0.55"/>
<rect x="623.9" y="111.8" width="0.9" height="0.9" fill="#6a6a72" opacity="0.55"/>
<rect x="623.3" y="112.3" width="1.0" height="1.0" fill="#6a6a72" opacity="0.55"/>
<rect x="626.8" y="109.7" width="1.7" height="1.7" fill="#4e5668" opacity="0.55"/>
<rect x="624.6" y="111.6" width="0.8" height="0.8" fill="#6a6a72" opacity="0.55"/>
<rect x="625.5" y="109.3" width="1.5" height="1.5" fill="#6a6a72" opacity="0.55"/>
<rect x="626.0" y="107.4" width="1.5" height="1.5" fill="#4e5668" opacity="0.55"/>
<rect x="625.7" y="110.0" width="1.7" height="1.7" fill="#4e5668" opacity="0.55"/>
<rect x="627.3" y="110.0" width="0.7" height="0.7" fill="#5e5c66" opacity="0.55"/>
<rect x="670.0" y="87.4" width="7.3" height="2.8" fill="#fff"/><rect x="671.3" y="88.5" width="4.7" height="0.6" fill="#555"/>
</g></g>
<clipPath id="i3"><rect x="618.4" y="155.2" width="60.2" height="33.7"/></clipPath><g clip-path="url(#i3)"><g filter="url(#bl)">
<rect x="618.4" y="155.2" width="60.2" height="33.7" fill="#cd6a3a"/>
<rect x="619.2" y="176.2" width="1.5" height="1.5" fill="#b85a34" opacity="0.7"/><rect x="644.0" y="186.0" width="1.4" height="1.4" fill="#c25e30" opacity="0.7"/><rect x="660.0" y="174.0" width="0.9" height="0.9" fill="#b85a34" opacity="0.7"/><rect x="671.5" y="159.2" width="1.1" height="1.1" fill="#c25e30" opacity="0.7"/><rect x="659.6" y="186.4" width="1.7" height="1.7" fill="#d87a4a" opacity="0.7"/><rect x="673.9" y="181.8" width="1.2" height="1.2" fill="#d87a4a" opacity="0.7"/><rect x="627.8" y="166.1" width="1.8" height="1.8" fill="#b85a34" opacity="0.7"/><rect x="656.9" y="186.5" width="1.0" height="1.0" fill="#c25e30" opacity="0.7"/><rect x="629.5" y="179.0" width="1.7" height="1.7" fill="#d87a4a" opacity="0.7"/><rect x="644.7" y="155.8" width="1.1" height="1.1" fill="#b85a34" opacity="0.7"/><rect x="645.9" y="182.2" width="1.8" height="1.8" fill="#c25e30" opacity="0.7"/><rect x="635.1" y="160.2" width="0.8" height="0.8" fill="#d87a4a" opacity="0.7"/><rect x="633.9" y="162.2" width="1.7" height="1.7" fill="#c25e30" opacity="0.7"/><rect x="635.6" y="160.5" width="1.0" height="1.0" fill="#b85a34" opacity="0.7"/><rect x="644.3" y="168.3" width="1.5" height="1.5" fill="#b85a34" opacity="0.7"/><rect x="656.4" y="170.8" width="1.4" height="1.4" fill="#c25e30" opacity="0.7"/><rect x="644.4" y="178.0" width="0.8" height="0.8" fill="#c25e30" opacity="0.7"/><rect x="643.0" y="168.1" width="1.1" height="1.1" fill="#d87a4a" opacity="0.7"/><rect x="659.9" y="180.1" width="1.6" height="1.6" fill="#d87a4a" opacity="0.7"/><rect x="655.7" y="155.7" width="1.0" height="1.0" fill="#c25e30" opacity="0.7"/><rect x="625.5" y="174.7" width="0.8" height="0.8" fill="#b85a34" opacity="0.7"/><rect x="668.9" y="160.8" width="1.2" height="1.2" fill="#c25e30" opacity="0.7"/><rect x="629.0" y="171.1" width="1.3" height="1.3" fill="#c25e30" opacity="0.7"/><rect x="670.4" y="162.2" width="1.7" height="1.7" fill="#b85a34" opacity="0.7"/><rect x="642.1" y="187.5" width="1.3" height="1.3" fill="#c25e30" opacity="0.7"/><rect x="633.7" y="170.5" width="1.6" height="1.6" fill="#c25e30" opacity="0.7"/><rect x="625.2" y="172.6" width="1.2" height="1.2" fill="#b85a34" opacity="0.7"/><rect x="623.4" y="170.0" width="1.1" height="1.1" fill="#c25e30" opacity="0.7"/><rect x="619.4" y="170.5" width="1.1" height="1.1" fill="#b85a34" opacity="0.7"/><rect x="643.7" y="169.8" width="1.8" height="1.8" fill="#d87a4a" opacity="0.7"/><rect x="641.5" y="166.6" width="1.2" height="1.2" fill="#b85a34" opacity="0.7"/><rect x="674.6" y="175.3" width="1.8" height="1.8" fill="#b85a34" opacity="0.7"/><rect x="649.8" y="179.5" width="1.6" height="1.6" fill="#c25e30" opacity="0.7"/><rect x="624.6" y="168.9" width="1.7" height="1.7" fill="#c25e30" opacity="0.7"/><rect x="626.9" y="169.4" width="1.3" height="1.3" fill="#d87a4a" opacity="0.7"/><rect x="618.5" y="169.4" width="1.3" height="1.3" fill="#b85a34" opacity="0.7"/><rect x="649.6" y="173.0" width="0.9" height="0.9" fill="#b85a34" opacity="0.7"/><rect x="620.7" y="170.7" width="1.4" height="1.4" fill="#b85a34" opacity="0.7"/><rect x="652.9" y="158.4" width="1.1" height="1.1" fill="#c25e30" opacity="0.7"/><rect x="649.8" y="165.6" width="1.2" height="1.2" fill="#b85a34" opacity="0.7"/><rect x="629.1" y="177.3" width="1.8" height="1.8" fill="#b85a34" opacity="0.7"/><rect x="668.1" y="167.8" width="1.4" height="1.4" fill="#b85a34" opacity="0.7"/><rect x="661.8" y="180.4" width="1.0" height="1.0" fill="#c25e30" opacity="0.7"/><rect x="641.3" y="175.6" width="1.5" height="1.5" fill="#c25e30" opacity="0.7"/><rect x="663.5" y="183.9" width="1.3" height="1.3" fill="#d87a4a" opacity="0.7"/><rect x="619.3" y="182.4" width="0.9" height="0.9" fill="#b85a34" opacity="0.7"/><rect x="661.4" y="182.4" width="1.3" height="1.3" fill="#d87a4a" opacity="0.7"/><rect x="656.5" y="187.7" width="1.6" height="1.6" fill="#d87a4a" opacity="0.7"/><rect x="674.7" y="178.1" width="1.1" height="1.1" fill="#c25e30" opacity="0.7"/><rect x="635.0" y="170.1" width="1.3" height="1.3" fill="#b85a34" opacity="0.7"/><rect x="645.9" y="179.2" width="1.1" height="1.1" fill="#b85a34" opacity="0.7"/><rect x="646.6" y="166.1" width="1.2" height="1.2" fill="#c25e30" opacity="0.7"/><rect x="632.3" y="171.7" width="1.5" height="1.5" fill="#b85a34" opacity="0.7"/><rect x="619.0" y="169.0" width="1.6" height="1.6" fill="#d87a4a" opacity="0.7"/><rect x="667.5" y="163.9" width="1.4" height="1.4" fill="#d87a4a" opacity="0.7"/><rect x="637.0" y="158.0" width="1.6" height="1.6" fill="#c25e30" opacity="0.7"/><rect x="662.5" y="181.2" width="1.6" height="1.6" fill="#c25e30" opacity="0.7"/><rect x="635.9" y="182.2" width="1.0" height="1.0" fill="#b85a34" opacity="0.7"/><rect x="618.9" y="181.7" width="0.9" height="0.9" fill="#d87a4a" opacity="0.7"/><rect x="661.6" y="176.5" width="0.9" height="0.9" fill="#b85a34" opacity="0.7"/>
<path d="M623.4,160.2 L626.4,157.2 L630.4,155.7 L640.4,156.0 L650.4,156.2 L658.4,155.7 L663.4,156.7 L666.4,160.2 L668.9,165.2 L668.9,171.2 L667.4,177.2 L667.9,183.2 L666.4,188.9 L654.4,188.9 L651.4,186.2 L646.4,188.9 L635.4,188.9 L632.4,184.2 L627.4,182.2 L623.4,179.2 L621.4,173.2 L622.4,165.2 Z" fill="#d0d7da"/>
<path d="M672.4,175.2 L676.4,174.2 L677.4,181.2 L676.4,188.9 L671.4,188.9 L672.4,181.2 Z" fill="#d0d7da"/>
<rect x="654.5" y="181.9" width="1.5" height="1.5" fill="#e8ebec" opacity="0.7"/><rect x="634.0" y="169.3" width="0.9" height="0.9" fill="#bcc6cb" opacity="0.7"/><rect x="631.8" y="173.7" width="0.8" height="0.8" fill="#b6c0c6" opacity="0.7"/><rect x="632.6" y="180.1" width="1.1" height="1.1" fill="#e8ebec" opacity="0.7"/><rect x="652.6" y="183.3" width="1.0" height="1.0" fill="#b6c0c6" opacity="0.7"/><rect x="624.0" y="188.2" width="0.8" height="0.8" fill="#b6c0c6" opacity="0.7"/><rect x="632.2" y="172.1" width="0.9" height="0.9" fill="#c8d0d4" opacity="0.7"/><rect x="652.3" y="157.8" width="0.7" height="0.7" fill="#e0e5e7" opacity="0.7"/><rect x="660.8" y="170.6" width="0.7" height="0.7" fill="#e8ebec" opacity="0.7"/><rect x="667.1" y="158.7" width="0.9" height="0.9" fill="#c8d0d4" opacity="0.7"/><rect x="635.3" y="178.3" width="1.0" height="1.0" fill="#e8ebec" opacity="0.7"/><rect x="658.4" y="157.9" width="1.3" height="1.3" fill="#b6c0c6" opacity="0.7"/><rect x="634.6" y="163.0" width="1.4" height="1.4" fill="#c8d0d4" opacity="0.7"/><rect x="641.6" y="168.3" width="1.1" height="1.1" fill="#b6c0c6" opacity="0.7"/><rect x="659.2" y="177.3" width="1.2" height="1.2" fill="#e8ebec" opacity="0.7"/><rect x="642.3" y="172.2" width="1.4" height="1.4" fill="#e0e5e7" opacity="0.7"/><rect x="650.3" y="174.7" width="0.9" height="0.9" fill="#c8d0d4" opacity="0.7"/><rect x="644.5" y="161.7" width="1.0" height="1.0" fill="#c8d0d4" opacity="0.7"/><rect x="634.7" y="164.6" width="1.0" height="1.0" fill="#e0e5e7" opacity="0.7"/><rect x="653.4" y="158.4" width="1.2" height="1.2" fill="#bcc6cb" opacity="0.7"/><rect x="630.7" y="159.8" width="0.7" height="0.7" fill="#b6c0c6" opacity="0.7"/><rect x="651.2" y="168.3" width="0.6" height="0.6" fill="#bcc6cb" opacity="0.7"/><rect x="639.4" y="156.9" width="1.3" height="1.3" fill="#e0e5e7" opacity="0.7"/><rect x="631.9" y="181.9" width="0.6" height="0.6" fill="#b6c0c6" opacity="0.7"/><rect x="664.3" y="160.2" width="0.6" height="0.6" fill="#bcc6cb" opacity="0.7"/><rect x="660.3" y="181.5" width="1.0" height="1.0" fill="#e8ebec" opacity="0.7"/><rect x="636.3" y="169.9" width="1.5" height="1.5" fill="#e0e5e7" opacity="0.7"/><rect x="632.8" y="177.0" width="1.2" height="1.2" fill="#c8d0d4" opacity="0.7"/><rect x="653.1" y="167.6" width="1.0" height="1.0" fill="#c8d0d4" opacity="0.7"/><rect x="644.3" y="174.6" width="1.1" height="1.1" fill="#e0e5e7" opacity="0.7"/><rect x="657.4" y="167.2" width="1.2" height="1.2" fill="#e0e5e7" opacity="0.7"/><rect x="637.1" y="170.0" width="1.5" height="1.5" fill="#bcc6cb" opacity="0.7"/><rect x="651.5" y="161.4" width="1.5" height="1.5" fill="#e0e5e7" opacity="0.7"/><rect x="659.5" y="182.7" width="1.4" height="1.4" fill="#c8d0d4" opacity="0.7"/><rect x="645.7" y="185.6" width="1.0" height="1.0" fill="#bcc6cb" opacity="0.7"/><rect x="664.8" y="182.1" width="1.0" height="1.0" fill="#e0e5e7" opacity="0.7"/><rect x="646.3" y="164.1" width="0.9" height="0.9" fill="#e8ebec" opacity="0.7"/><rect x="642.2" y="172.8" width="1.4" height="1.4" fill="#bcc6cb" opacity="0.7"/><rect x="648.0" y="178.5" width="1.3" height="1.3" fill="#e8ebec" opacity="0.7"/><rect x="666.2" y="179.6" width="1.1" height="1.1" fill="#b6c0c6" opacity="0.7"/><rect x="628.8" y="179.6" width="0.8" height="0.8" fill="#b6c0c6" opacity="0.7"/><rect x="662.1" y="184.0" width="1.2" height="1.2" fill="#e8ebec" opacity="0.7"/><rect x="625.6" y="157.7" width="1.0" height="1.0" fill="#c8d0d4" opacity="0.7"/><rect x="632.1" y="155.9" width="1.5" height="1.5" fill="#bcc6cb" opacity="0.7"/><rect x="660.4" y="164.6" width="1.2" height="1.2" fill="#e8ebec" opacity="0.7"/><rect x="626.4" y="175.6" width="1.2" height="1.2" fill="#e8ebec" opacity="0.7"/><rect x="644.6" y="179.6" width="0.8" height="0.8" fill="#b6c0c6" opacity="0.7"/><rect x="653.1" y="164.7" width="0.7" height="0.7" fill="#bcc6cb" opacity="0.7"/><rect x="656.5" y="160.7" width="1.3" height="1.3" fill="#bcc6cb" opacity="0.7"/><rect x="639.1" y="171.4" width="0.7" height="0.7" fill="#e0e5e7" opacity="0.7"/><rect x="652.7" y="185.4" width="0.8" height="0.8" fill="#e0e5e7" opacity="0.7"/><rect x="653.7" y="184.2" width="1.4" height="1.4" fill="#b6c0c6" opacity="0.7"/><rect x="628.2" y="177.3" width="0.9" height="0.9" fill="#c8d0d4" opacity="0.7"/><rect x="625.3" y="171.7" width="1.5" height="1.5" fill="#c8d0d4" opacity="0.7"/><rect x="634.9" y="187.9" width="1.2" height="1.2" fill="#bcc6cb" opacity="0.7"/><rect x="630.3" y="155.9" width="0.7" height="0.7" fill="#e8ebec" opacity="0.7"/><rect x="662.4" y="178.4" width="0.8" height="0.8" fill="#e0e5e7" opacity="0.7"/><rect x="642.5" y="170.0" width="1.4" height="1.4" fill="#e8ebec" opacity="0.7"/><rect x="623.8" y="156.1" width="1.2" height="1.2" fill="#c8d0d4" opacity="0.7"/><rect x="625.8" y="168.9" width="1.2" height="1.2" fill="#b6c0c6" opacity="0.7"/><rect x="631.6" y="164.7" width="1.1" height="1.1" fill="#e8ebec" opacity="0.7"/><rect x="630.1" y="185.9" width="0.8" height="0.8" fill="#bcc6cb" opacity="0.7"/><rect x="632.0" y="171.7" width="1.3" height="1.3" fill="#c8d0d4" opacity="0.7"/><rect x="652.6" y="159.7" width="0.8" height="0.8" fill="#e8ebec" opacity="0.7"/><rect x="645.6" y="187.1" width="0.9" height="0.9" fill="#bcc6cb" opacity="0.7"/><rect x="639.3" y="172.9" width="0.8" height="0.8" fill="#b6c0c6" opacity="0.7"/><rect x="623.4" y="180.0" width="1.4" height="1.4" fill="#c8d0d4" opacity="0.7"/><rect x="638.0" y="180.4" width="1.3" height="1.3" fill="#b6c0c6" opacity="0.7"/><rect x="652.7" y="173.2" width="0.9" height="0.9" fill="#b6c0c6" opacity="0.7"/><rect x="642.1" y="159.0" width="1.2" height="1.2" fill="#bcc6cb" opacity="0.7"/><rect x="626.3" y="158.9" width="0.9" height="0.9" fill="#e8ebec" opacity="0.7"/><rect x="632.0" y="161.7" width="1.3" height="1.3" fill="#bcc6cb" opacity="0.7"/><rect x="626.3" y="185.6" width="1.5" height="1.5" fill="#bcc6cb" opacity="0.7"/><rect x="659.8" y="170.1" width="1.5" height="1.5" fill="#b6c0c6" opacity="0.7"/><rect x="651.9" y="178.2" width="1.2" height="1.2" fill="#c8d0d4" opacity="0.7"/><rect x="647.5" y="184.3" width="1.4" height="1.4" fill="#bcc6cb" opacity="0.7"/><rect x="654.5" y="170.6" width="0.9" height="0.9" fill="#b6c0c6" opacity="0.7"/><rect x="665.9" y="174.3" width="1.4" height="1.4" fill="#e0e5e7" opacity="0.7"/><rect x="630.7" y="179.5" width="1.2" height="1.2" fill="#bcc6cb" opacity="0.7"/><rect x="641.7" y="172.3" width="1.4" height="1.4" fill="#b6c0c6" opacity="0.7"/><rect x="647.6" y="164.5" width="0.8" height="0.8" fill="#b6c0c6" opacity="0.7"/><rect x="640.1" y="165.3" width="1.2" height="1.2" fill="#b6c0c6" opacity="0.7"/><rect x="661.3" y="164.5" width="0.9" height="0.9" fill="#c8d0d4" opacity="0.7"/><rect x="649.7" y="183.2" width="0.9" height="0.9" fill="#bcc6cb" opacity="0.7"/><rect x="644.5" y="180.7" width="1.0" height="1.0" fill="#bcc6cb" opacity="0.7"/><rect x="624.0" y="177.9" width="1.4" height="1.4" fill="#b6c0c6" opacity="0.7"/><rect x="624.9" y="164.2" width="1.1" height="1.1" fill="#b6c0c6" opacity="0.7"/><rect x="645.2" y="157.8" width="0.9" height="0.9" fill="#c8d0d4" opacity="0.7"/><rect x="645.6" y="187.7" width="1.2" height="1.2" fill="#e8ebec" opacity="0.7"/><rect x="646.6" y="155.5" width="0.6" height="0.6" fill="#b6c0c6" opacity="0.7"/><rect x="648.3" y="177.5" width="0.7" height="0.7" fill="#b6c0c6" opacity="0.7"/><rect x="666.3" y="172.2" width="1.1" height="1.1" fill="#c8d0d4" opacity="0.7"/><rect x="651.2" y="181.2" width="0.8" height="0.8" fill="#b6c0c6" opacity="0.7"/><rect x="626.1" y="169.1" width="1.3" height="1.3" fill="#c8d0d4" opacity="0.7"/><rect x="640.5" y="179.8" width="1.3" height="1.3" fill="#b6c0c6" opacity="0.7"/><rect x="658.4" y="186.9" width="1.0" height="1.0" fill="#e8ebec" opacity="0.7"/><rect x="663.7" y="164.8" width="1.5" height="1.5" fill="#b6c0c6" opacity="0.7"/><rect x="638.3" y="177.1" width="0.7" height="0.7" fill="#e8ebec" opacity="0.7"/><rect x="627.4" y="176.3" width="0.6" height="0.6" fill="#e0e5e7" opacity="0.7"/><rect x="644.7" y="179.7" width="0.8" height="0.8" fill="#b6c0c6" opacity="0.7"/><rect x="665.8" y="161.9" width="1.1" height="1.1" fill="#e0e5e7" opacity="0.7"/><rect x="643.8" y="185.1" width="1.2" height="1.2" fill="#e0e5e7" opacity="0.7"/><rect x="634.6" y="182.8" width="0.9" height="0.9" fill="#e8ebec" opacity="0.7"/><rect x="659.1" y="178.3" width="1.1" height="1.1" fill="#e0e5e7" opacity="0.7"/><rect x="651.8" y="174.9" width="1.2" height="1.2" fill="#c8d0d4" opacity="0.7"/><rect x="630.8" y="169.7" width="0.6" height="0.6" fill="#c8d0d4" opacity="0.7"/><rect x="624.9" y="174.1" width="0.9" height="0.9" fill="#e0e5e7" opacity="0.7"/><rect x="631.0" y="168.4" width="1.5" height="1.5" fill="#b6c0c6" opacity="0.7"/><rect x="628.3" y="184.1" width="0.8" height="0.8" fill="#e0e5e7" opacity="0.7"/><rect x="652.7" y="158.1" width="0.6" height="0.6" fill="#bcc6cb" opacity="0.7"/><rect x="656.0" y="161.9" width="1.0" height="1.0" fill="#b6c0c6" opacity="0.7"/><rect x="630.4" y="182.5" width="0.7" height="0.7" fill="#e8ebec" opacity="0.7"/><rect x="665.0" y="162.2" width="1.3" height="1.3" fill="#e8ebec" opacity="0.7"/><rect x="645.1" y="183.6" width="1.4" height="1.4" fill="#bcc6cb" opacity="0.7"/><rect x="644.1" y="180.6" width="1.2" height="1.2" fill="#e8ebec" opacity="0.7"/><rect x="637.9" y="186.4" width="1.1" height="1.1" fill="#c8d0d4" opacity="0.7"/><rect x="640.8" y="168.4" width="1.0" height="1.0" fill="#bcc6cb" opacity="0.7"/><rect x="638.6" y="170.3" width="1.5" height="1.5" fill="#bcc6cb" opacity="0.7"/><rect x="634.7" y="165.4" width="0.9" height="0.9" fill="#c8d0d4" opacity="0.7"/><rect x="633.6" y="162.5" width="1.0" height="1.0" fill="#bcc6cb" opacity="0.7"/><rect x="626.8" y="172.4" width="1.0" height="1.0" fill="#e8ebec" opacity="0.7"/><rect x="665.3" y="183.3" width="1.2" height="1.2" fill="#e0e5e7" opacity="0.7"/><rect x="628.4" y="176.5" width="1.4" height="1.4" fill="#e8ebec" opacity="0.7"/><rect x="665.9" y="185.9" width="1.3" height="1.3" fill="#e8ebec" opacity="0.7"/><rect x="631.4" y="162.5" width="1.0" height="1.0" fill="#bcc6cb" opacity="0.7"/><rect x="628.5" y="165.3" width="1.5" height="1.5" fill="#c8d0d4" opacity="0.7"/><rect x="654.3" y="160.4" width="1.1" height="1.1" fill="#b6c0c6" opacity="0.7"/><rect x="645.0" y="185.7" width="1.2" height="1.2" fill="#c8d0d4" opacity="0.7"/><rect x="634.8" y="158.7" width="1.0" height="1.0" fill="#bcc6cb" opacity="0.7"/><rect x="651.0" y="168.4" width="1.4" height="1.4" fill="#b6c0c6" opacity="0.7"/><rect x="647.6" y="168.3" width="1.2" height="1.2" fill="#b6c0c6" opacity="0.7"/><rect x="653.8" y="179.5" width="0.9" height="0.9" fill="#e0e5e7" opacity="0.7"/><rect x="633.8" y="159.7" width="0.9" height="0.9" fill="#e8ebec" opacity="0.7"/><rect x="634.8" y="164.6" width="1.0" height="1.0" fill="#b6c0c6" opacity="0.7"/><rect x="655.6" y="163.7" width="1.2" height="1.2" fill="#bcc6cb" opacity="0.7"/><rect x="662.6" y="171.7" width="1.3" height="1.3" fill="#c8d0d4" opacity="0.7"/><rect x="634.9" y="158.1" width="1.0" height="1.0" fill="#e0e5e7" opacity="0.7"/><rect x="640.1" y="171.1" width="0.8" height="0.8" fill="#b6c0c6" opacity="0.7"/><rect x="656.8" y="186.2" width="0.8" height="0.8" fill="#e0e5e7" opacity="0.7"/><rect x="655.9" y="166.8" width="1.3" height="1.3" fill="#b6c0c6" opacity="0.7"/><rect x="656.6" y="187.9" width="0.9" height="0.9" fill="#b6c0c6" opacity="0.7"/><rect x="662.1" y="162.0" width="1.3" height="1.3" fill="#b6c0c6" opacity="0.7"/><rect x="632.2" y="169.4" width="0.8" height="0.8" fill="#e0e5e7" opacity="0.7"/><rect x="658.9" y="156.4" width="0.9" height="0.9" fill="#b6c0c6" opacity="0.7"/><rect x="658.6" y="187.4" width="1.1" height="1.1" fill="#e8ebec" opacity="0.7"/><rect x="631.9" y="162.8" width="1.1" height="1.1" fill="#b6c0c6" opacity="0.7"/><rect x="660.7" y="183.0" width="1.3" height="1.3" fill="#e0e5e7" opacity="0.7"/><rect x="666.1" y="170.1" width="1.5" height="1.5" fill="#b6c0c6" opacity="0.7"/><rect x="634.7" y="172.7" width="1.4" height="1.4" fill="#e0e5e7" opacity="0.7"/><rect x="623.8" y="183.5" width="0.9" height="0.9" fill="#bcc6cb" opacity="0.7"/><rect x="661.1" y="184.5" width="1.1" height="1.1" fill="#c8d0d4" opacity="0.7"/><rect x="628.7" y="165.1" width="0.9" height="0.9" fill="#bcc6cb" opacity="0.7"/><rect x="638.3" y="171.4" width="0.9" height="0.9" fill="#b6c0c6" opacity="0.7"/><rect x="650.7" y="160.2" width="1.0" height="1.0" fill="#b6c0c6" opacity="0.7"/><rect x="636.0" y="171.3" width="1.3" height="1.3" fill="#c8d0d4" opacity="0.7"/><rect x="653.9" y="170.6" width="0.7" height="0.7" fill="#c8d0d4" opacity="0.7"/><rect x="663.9" y="181.3" width="1.3" height="1.3" fill="#c8d0d4" opacity="0.7"/><rect x="662.3" y="184.0" width="1.0" height="1.0" fill="#e8ebec" opacity="0.7"/><rect x="643.4" y="159.6" width="0.8" height="0.8" fill="#bcc6cb" opacity="0.7"/><rect x="653.7" y="179.5" width="1.2" height="1.2" fill="#bcc6cb" opacity="0.7"/><rect x="630.2" y="167.7" width="1.5" height="1.5" fill="#e8ebec" opacity="0.7"/><rect x="665.3" y="164.9" width="0.9" height="0.9" fill="#e0e5e7" opacity="0.7"/><rect x="639.2" y="170.0" width="0.9" height="0.9" fill="#e0e5e7" opacity="0.7"/><rect x="663.3" y="157.7" width="1.0" height="1.0" fill="#e8ebec" opacity="0.7"/><rect x="639.2" y="180.4" width="0.7" height="0.7" fill="#e0e5e7" opacity="0.7"/><rect x="648.9" y="174.1" width="1.1" height="1.1" fill="#bcc6cb" opacity="0.7"/><rect x="650.6" y="163.9" width="0.8" height="0.8" fill="#e8ebec" opacity="0.7"/><rect x="657.5" y="161.0" width="1.3" height="1.3" fill="#b6c0c6" opacity="0.7"/><rect x="648.4" y="164.4" width="1.0" height="1.0" fill="#c8d0d4" opacity="0.7"/><rect x="645.9" y="178.2" width="1.4" height="1.4" fill="#b6c0c6" opacity="0.7"/>
<ellipse cx="636.6" cy="162.7" rx="0.9" ry="0.7" fill="#d4743f" opacity="0.85"/>
<ellipse cx="637.0" cy="163.5" rx="1.6" ry="1.8" fill="#d4743f" opacity="0.85"/>
<ellipse cx="637.6" cy="166.0" rx="1.0" ry="0.6" fill="#d4743f" opacity="0.85"/>
<ellipse cx="637.5" cy="162.6" rx="1.1" ry="1.1" fill="#d4743f" opacity="0.85"/>
<ellipse cx="638.2" cy="169.1" rx="1.0" ry="0.9" fill="#d4743f" opacity="0.85"/>
<ellipse cx="639.4" cy="168.3" rx="1.2" ry="1.3" fill="#d4743f" opacity="0.85"/>
<ellipse cx="638.0" cy="172.2" rx="1.7" ry="1.8" fill="#d4743f" opacity="0.85"/>
<ellipse cx="638.7" cy="171.5" rx="1.2" ry="0.9" fill="#d4743f" opacity="0.85"/>
<ellipse cx="637.8" cy="173.8" rx="0.8" ry="0.8" fill="#d4743f" opacity="0.85"/>
<ellipse cx="638.9" cy="175.9" rx="1.4" ry="1.4" fill="#d4743f" opacity="0.85"/>
<ellipse cx="640.2" cy="176.4" rx="0.9" ry="1.0" fill="#d4743f" opacity="0.85"/>
<ellipse cx="638.7" cy="174.9" rx="1.8" ry="1.1" fill="#d4743f" opacity="0.85"/>
<ellipse cx="638.6" cy="180.5" rx="1.6" ry="2.3" fill="#d4743f" opacity="0.85"/>
<ellipse cx="639.1" cy="178.5" rx="1.0" ry="0.8" fill="#d4743f" opacity="0.85"/>
<ellipse cx="639.9" cy="183.4" rx="1.3" ry="1.5" fill="#d4743f" opacity="0.85"/>
<ellipse cx="641.2" cy="178.2" rx="1.0" ry="1.1" fill="#d4743f" opacity="0.85"/>
<ellipse cx="639.2" cy="183.8" rx="1.0" ry="1.3" fill="#d4743f" opacity="0.85"/>
<ellipse cx="639.7" cy="185.8" rx="1.5" ry="2.0" fill="#d4743f" opacity="0.85"/>
<ellipse cx="639.1" cy="184.7" rx="1.5" ry="1.9" fill="#d4743f" opacity="0.85"/>
<ellipse cx="640.4" cy="188.5" rx="1.1" ry="1.0" fill="#d4743f" opacity="0.85"/>
<ellipse cx="648.1" cy="168.6" rx="1.3" ry="1.2" fill="#d4743f" opacity="0.85"/>
<ellipse cx="646.3" cy="166.6" rx="1.7" ry="1.8" fill="#d4743f" opacity="0.85"/>
<ellipse cx="646.8" cy="168.2" rx="0.8" ry="1.0" fill="#d4743f" opacity="0.85"/>
<ellipse cx="648.5" cy="169.4" rx="1.0" ry="0.8" fill="#d4743f" opacity="0.85"/>
<ellipse cx="652.2" cy="169.2" rx="1.7" ry="2.2" fill="#d4743f" opacity="0.85"/>
<ellipse cx="649.8" cy="170.7" rx="1.0" ry="0.9" fill="#d4743f" opacity="0.85"/>
<ellipse cx="651.7" cy="170.6" rx="1.7" ry="1.1" fill="#d4743f" opacity="0.85"/>
<ellipse cx="651.8" cy="170.5" rx="1.0" ry="1.1" fill="#d4743f" opacity="0.85"/>
<ellipse cx="655.9" cy="170.9" rx="0.8" ry="0.9" fill="#d4743f" opacity="0.85"/>
<ellipse cx="654.4" cy="169.6" rx="1.8" ry="1.7" fill="#d4743f" opacity="0.85"/>
<ellipse cx="655.9" cy="169.9" rx="0.8" ry="0.8" fill="#d4743f" opacity="0.85"/>
<ellipse cx="657.9" cy="171.7" rx="1.4" ry="1.2" fill="#d4743f" opacity="0.85"/>
<ellipse cx="653.9" cy="178.1" rx="1.1" ry="1.2" fill="#d4743f" opacity="0.85"/>
<ellipse cx="652.3" cy="177.0" rx="1.3" ry="1.7" fill="#d4743f" opacity="0.85"/>
<ellipse cx="654.8" cy="179.2" rx="1.8" ry="1.1" fill="#d4743f" opacity="0.85"/>
<ellipse cx="655.2" cy="178.9" rx="0.7" ry="0.6" fill="#d4743f" opacity="0.85"/>
<ellipse cx="655.1" cy="179.8" rx="0.7" ry="1.0" fill="#d4743f" opacity="0.85"/>
<ellipse cx="657.3" cy="179.5" rx="0.8" ry="1.0" fill="#d4743f" opacity="0.85"/>
<ellipse cx="655.5" cy="181.3" rx="1.4" ry="1.2" fill="#d4743f" opacity="0.85"/>
<ellipse cx="654.6" cy="182.0" rx="1.1" ry="1.4" fill="#d4743f" opacity="0.85"/>
<ellipse cx="630.2" cy="171.0" rx="1.2" ry="1.5" fill="#d4743f" opacity="0.85"/>
<ellipse cx="632.0" cy="171.9" rx="1.0" ry="0.6" fill="#d4743f" opacity="0.85"/>
<ellipse cx="631.4" cy="172.0" rx="1.3" ry="1.8" fill="#d4743f" opacity="0.85"/>
<ellipse cx="631.0" cy="171.9" rx="1.0" ry="0.7" fill="#d4743f" opacity="0.85"/>
<ellipse cx="629.6" cy="174.7" rx="0.7" ry="0.9" fill="#d4743f" opacity="0.85"/>
<ellipse cx="630.8" cy="172.6" rx="1.2" ry="1.6" fill="#d4743f" opacity="0.85"/>
<ellipse cx="631.0" cy="174.4" rx="1.5" ry="1.8" fill="#d4743f" opacity="0.85"/>
<ellipse cx="630.6" cy="174.5" rx="1.0" ry="1.3" fill="#d4743f" opacity="0.85"/>
<ellipse cx="645.5" cy="159.5" rx="0.9" ry="1.0" fill="#d4743f" opacity="0.85"/>
<ellipse cx="646.1" cy="160.5" rx="1.4" ry="1.8" fill="#d4743f" opacity="0.85"/>
<ellipse cx="646.5" cy="158.7" rx="0.9" ry="1.1" fill="#d4743f" opacity="0.85"/>
<ellipse cx="644.8" cy="161.0" rx="1.1" ry="1.3" fill="#d4743f" opacity="0.85"/>
<ellipse cx="660.7" cy="180.5" rx="1.3" ry="1.7" fill="#d4743f" opacity="0.85"/>
<ellipse cx="662.8" cy="180.6" rx="1.3" ry="0.9" fill="#d4743f" opacity="0.85"/>
<ellipse cx="661.4" cy="180.6" rx="1.1" ry="1.0" fill="#d4743f" opacity="0.85"/>
<ellipse cx="661.6" cy="179.1" rx="1.7" ry="1.7" fill="#d4743f" opacity="0.85"/>
<ellipse cx="644.7" cy="175.6" rx="1.3" ry="1.2" fill="#d4743f" opacity="0.85"/>
<ellipse cx="642.4" cy="174.6" rx="1.2" ry="1.2" fill="#d4743f" opacity="0.85"/>
<ellipse cx="642.7" cy="174.8" rx="1.2" ry="1.0" fill="#d4743f" opacity="0.85"/>
<ellipse cx="642.4" cy="175.0" rx="1.8" ry="2.1" fill="#d4743f" opacity="0.85"/>
<path d="M661.4,155.2 Q668.4,158.2 672.4,164.2 T678.6,174.7 L678.6,155.2 Z" fill="#80a064"/>
<rect x="669.4" y="156.6" width="7.3" height="2.8" fill="#fff"/><rect x="670.6999999999999" y="157.7" width="4.7" height="0.6" fill="#555"/>
</g></g>
</svg>
</body></html>
